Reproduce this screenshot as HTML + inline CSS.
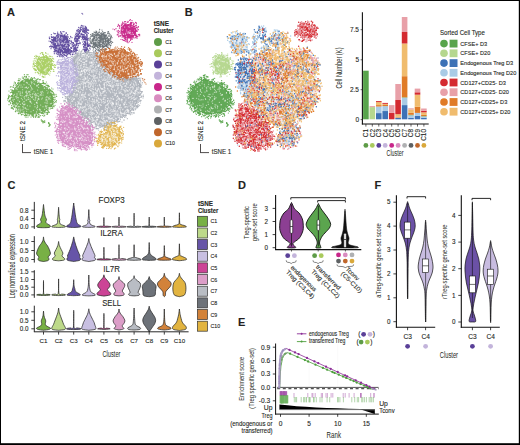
<!DOCTYPE html><html><head><meta charset="utf-8"><style>html,body{margin:0;padding:0;background:#fff;width:520px;height:445px;overflow:hidden}svg{display:block}text{font-family:"Liberation Sans",sans-serif;fill:#231f20;stroke:currentColor;stroke-width:0}text:not([stroke]){stroke:#333;stroke-width:.12px}</style></head><body>
<svg width="520" height="445" viewBox="0 0 520 445">
<rect width="520" height="445" fill="#fff"/>
<path d="M74 58.3C75.2 56.4 78.6 54.2 81.4 53.1C84.2 52.1 88.1 51.8 90.8 51.9C93.4 52 95.5 52.5 97.3 54C99.2 55.5 100.3 58.5 101.9 61C103.5 63.5 105.3 66.6 107.1 68.9C109 71.1 111 72.8 113.1 74.3C115.1 75.8 117.1 77.4 119.4 78C121.8 78.7 124.8 78.2 127.2 78.2C129.7 78.1 132.4 77.2 134.2 77.5C136 77.8 137.1 78.3 138.1 79.7C139.1 81.2 139.8 83.6 140 86.2C140.2 88.9 139.8 92.3 139 95.5C138.3 98.8 137 102.8 135.3 105.7C133.6 108.6 131.2 110.9 128.7 113C126.2 115.2 123 116.9 120.3 118.5C117.7 120.1 115.4 121.5 113 122.7C110.5 123.8 107.9 125 105.6 125.5C103.3 126.1 101.3 126.4 99.1 126C97 125.6 95 124.5 92.7 123.1C90.4 121.6 87.9 119.6 85.4 117.4C83 115.2 80.7 112.4 78.2 110C75.8 107.5 72.7 104.7 70.7 102.8C68.8 100.8 66.7 99.6 66.4 98.2C66.1 96.9 67.9 95.6 69 94.5C70.1 93.4 71.9 93.2 73 91.7C74.1 90.2 75.1 88.8 75.5 85.4C75.9 82.1 75.7 75.3 75.5 71.7C75.3 68.1 74.4 66.3 74.2 64.1C73.9 61.8 72.8 60.1 74 58.3Z" fill="#aeb3bc" opacity="0.95"/>
<path d="M288 165l-2-2-1 0-2-3-2 5-2-7-1 4-2-2-2 7-1-7-2 1-4 0-2 0-3 6 0-2-1-1-1 2-4-5-1-2 0 5-1 1-2-2 0 2-1-3-1 1 0 1-1-1-1 1-1 0-2-3-1 6-5-3-8 13 1 0 2-6 1 5 2-6 0 2 1 6 1 1 3-3 0-1 2-5 4-2 1 11 0-2 0-7 1 6 4-6 0 8 1-1 3-3 0-3 2 0 1 5 4-6 0 1 1-1 2-2 4 8 0-5 3 5 1-1 1 2 1-9 6 8 1-1 3-5 1 2 0 3 0 0 1 3 3-8 1 9 0-3 2-5 3 4 6 10-1 6-2-9 0 6-2-5-1 4 0-2-1 6 0-10-2 0 0 6-2-7-4 7-1-1-6 2 0-8-3 3-1 4 0-5-3 8 0-4-1 1 0 2 0-3 0 1-4 2 0-3-2 3-1-3-7-3-1-2-1 3-1 0-2-1-2 4-1 2-1-1-1-1-3 0-4-3-1 0 0-2-4-1 0 9-3-8-2 5-1 3-1-4-1-4-3-2-1 9 0-4-1 6-3-1 0 2 1 4 0-4 2 6 1 2 3 1 0-2 1-4 1 0 3 5 1-8 5 6 0-2 2 5 1-5 1-4 5 9 0-1 1-7 1 1 1 0 0 6 3-8 0 9 3-6 0 8 1-2 0-9 2 11 2 0 4-2 3-4 1 1 1 5 2-5 0-1 1-5 2 5 1 5 0-9 1 7 0-8 6 11 0-9 1 6 3 0 3-3 2 1 0 1 1-3 0 2 0-3 1 0 3 1 1-4 0 8 1 2 1-2 2-7 0 1 3 4 1-1 1-2 1 6 1-3 1-3 16 19-5 0-1-1-1 1-3-3-1-7-2 5 0 3-2-3-3-2 0-1 0 1-2-2-2 3-1 4-1 1-5-5-2 7-6-2 0-6-3 2-1 5-3-9 0 6-3 1 0-3 0 6-2-5-3 5 0-5-2 5-1-4-2-6-1 4-3 1 0-4 0 6-2-5 0 6-2-6-1 3-2 0 0 0-1 4-1-3-1-1-1-2-2-1-1 8 0-5 0 3-1-5-1 5 0-4 0 4-1-2-2 1-1-6-1 9-2-1 0 0 0-2 0-2 0 3-2-8 0 10-1-11-4 3-1 8-1 0-1-11-1 2-1 6 0 2-1-2 0-6-2 3-2 2 0-5-1-1 0 7 0-7-1 6 0-1-1-5 3 12 2 0 1 2 3-3 0 4 0 2 3 4 3-3 0-7 1 3 0 5 1 3 0-4 2 2 0-2 2-1 2-2 6-3 1 4 0 2 1-6 7 3 3 4 2-1 0-1 1-5 3 9 2-10 5 2 1 9 0-4 4 4 3-1 1-7 2 0 5 3 4 0 0 1 0-5 0 8 4-5 2-2 2-2 3-1 1 11 3-6 2-1 2-3 2 3 4 1 1 3 0-7 0 8 0-2 3 4 4-3 1-4 2 6 1-5 0 1 0 1 2 1 69 13-2 1-3-5-13 4-6-2-7 1-3-1-3 1-8 0-5-2-8-3 0 6-3-5 0 2-1 2-1 2-4 0 0-2 0-4-1 5 0-3 0 5-1-4 0-4-5-2-1 0-1 3-3 1 0 4-1-9-3 11 0-6 0-5-1 6-5 3 0 2 0-9-4 6-1-5-2 6-5 0-1-7-2 2-4-1 0 0-2 6-4-6 0 3-4-1-1 1-3-6 0 6-1 3-2-6 0-2 0 5-1-3-2 5-2 3-1-11 0 0-6 8-2-1-5-2-1-4-1 5-3 3-1 0 0-2-1-1-1-1 0 1 0 3-1-9-2 2 0 8-1-1-4 1-1-7-4 6-5-1-4-5-2 6-1-5-1 4 0-5-1 20 1 0 3-8 3 4 8-2 1 5 3-5 2 3 1-5 1 5 0 3 2-9 1 8 0-3 2 2 0 1 2-3 2-2 1 3 1-3 0-5 2 6 1-5 1 8 0-9 0 7 4 3 0 1 0-5 0 2 4 1 0-5 1-1 3 5 1 3 2-8 0-1 1 7 3 0 0-8 1 3 0-3 2 2 1 6 6-9 0 3 4-2 2 4 2 0 5-4 2-1 2 9 1 0 1-8 3 0 0 6 2 2 2-3 0-1 1-2 2 1 2 5 0-2 1-3 1 1 1 6 2-7 2-4 3 7 2-4 0 6 5-3 1-6 2 0 1 3 2 8 0-8 2 7 0-8 1-1 0 2 1 0 2 7 1-7 4 8 1-5 0-5 2-1 2 7 1-7 4 3 1-1 0 8 2 0 6 0 0-1 3-4 3 3 1-5 9 6 4-8 1 10 2-6 2-3 3 5 0-1 1 4 6-6 3 19-1-2 0-8-6 2 0 8-2-9-5 4-1-3-1-1-1 8-3-1 0-1-3 1-2-7 0 8 0-8-2 2-5 6-4-10 0 10-1-10-2 6-1-1-1 1-2 0-5-5-2 8-1-1-1 2-1-3-1-3-2 0 0-4-5 3 0 8 0-6-2-3-1 2-1 5-1-6-2 0-3 2-4-3-1 3 0 4-2-2-1-3-1 5 0 0-2-9 0 8-2-3-2 1 0-2 0 2-1-6-1 4-2 1-1-1-4-2-1-1-1 4-6-5 0 10 0-5 0 6-1-4 0-4 0-2-1 10-2-9-8 9-1-5-2-1 0-2-1-2-5 4-6-2-6 0-1 6-1-1-2-2-3-5-1 3-2 4 0-2-1-5-1 9-3-4 0 4-1-8-1 4-6 1-1-7-1 5 0 3-5 1 0-3 0 4-1-8-4-2-4 3-1 6-1-9 0 10-2-9-1 8 0-8-2-1-1 3-3 3-1-3-2 4-1-1-2 2-2 5 0-1 1 6 0-5 1 9 1-10 0 4 4 4 0-2 1 2 2-8 2 11 0-5 0 4 1-9 4 1 1 9 3-7 4 2 1 1 2-7 0 3 9 0 9 1 2 3 2-5 0 5 0 1 3 2 1-8 2 1 1 8 1-7 5 0 0-1 1-3 1 7 3 1 0 2 1-1 0-3 2-5 0 4 1-1 1-3 2 5 1 4 3-10 2 3 1-1 0 0 3 0 0 1 0 0 1 8 1-1 0 1 2-7 1 6 0-3 2 2 0-7 2 6 5-7 2 1 0 3 3 3 2 1 5-5 0-2 3 4 6 0 0 0 6 2 3-5 2-1 3 7 6-4 0 6 2-9 1 1 4 2 3 3 0-2 2 4 1-8 1 6 1 3 2-6 1 2 1 1 1 1 2 0 3-4 2-5 0 6 3 5 2-3 1 2 2-7 2-1 4 7 3-2 0 2 0 0 1-1 2-6 0 4 0-2 1 6 1-6 0-4 4 3 0 14-1-4-1 0 0 8-3-4-4-3 0 6-1-5-2 2 0-1-1 5 0-5-1-1-1 1-1-2-2 8-2-8-1-1-3 2 0 2-2 2-1-4-4 7 0-4-1 3-2-3-4 2 0 1-2 2-1-9-5 6-2-1 0 3-2-5-2 0-3-3-1 0-1 1-2 0-7 1-1-1-2 5-1-3-1 5 0 0-2-4-1-4-4-2-6 2-1-2-12 2-1 9-3-2 0 0-3-9 0 11-3-8-2 0-3 8-1-6 0 0-1 3-1-6-1 0 0 8-8-1 0-6 0 7-1 0-2-7-1 1 0 3-2-5-1 1-1 7 0-2-3-2 0-4 0 7-1-1-1-3-2-3-5 4-3 4-1-4-3 4 0-3-8-6 0 5-1-1-3 2-1 3-3-1 0-2 0-6-2 5-1 3 0 1-2-3 0 3-4-7 0-2-1 8-7-2-1 1 0-3 0 5-3-2-5-4 0 1-1 2 0 4-1-8-1 7-1-9-3 8-2 2-2-6-1 1-4 5-2 0-1 6 2-2 3 4 2-4 3 8 2-5 3 0 1 4 1 1 1-2 1 0 0-1 3-8 5 2 4 6 4-5 1 7 3-7 0 7 0-3 3-1 3-2 0-3 2 7 2-7 2 0 0 3 2 0 1 6 0 1 10-4 0 0 0 1 5-6 1-2 3 10 0-2 1-8 1 11 2-11 2 10 2-7 4 1 1 5 3-7 1 7 2-2 0-1 4 3 1 1 5 0 4-2 0-3 1 5 1 0 1-5 2-1 8 3 1 0 7-1 4 1 3-5 1 7 1 0 1 0 8-6 3 6 0-8 1-1 0 0 2 9 0-5 1 4 2-1 1 4 0-3 6 3 0 0 0-2 2 2 2-6 5 0 4 4 3-8 4 6 0-4 2 2 1-2 4 0 1 7 1-9 1 5 1 1 3-1 1-2 2 5 0 2 1-8 1 7 1 0 1-2 2-1 3 4 0-6 1 0 0 6-6 8-1 2-8 0 0-5-6 1-1 5-3-3-9-6-1 5-2 5 0-5-1 2-4 3-4-5-1-4-5-2-4 9-1-4-4-4 0 8-1 1-1-9-1 9 0-4-8 5 0-2-1 1-1 0-1-3 0 4-1-5 0 3-3-3 0-6-2 10-1-8-1 1 0 3-4 5 0-11 0 9-2-4-1-3 0 1-6-3-1 7 0-1 0 0-3 4-2-6-1 2-4 2-1-5 0-2-5 6-3-1-1 2-2-6-1 9-1-9 0 2-1-2-1-2-1 7-4-3 0-2 0 7-2-1-1-4-2-1-2 3-2-2-5-1-3-3 0 9-4-1-1-5-6 7-4-10-4 5-2 3-1-5-2 7-3-9-1 7-2-4 0 6-2 0 0-3 0 2-2-4-7 3-8-5 0 0-3 2-4 2 9 8 6 0 1 0 1-3 4 8 1-5 0 4 1-6 2 8 1 0 2-9 2 10 0-9 1 6 1 4 0-1 0-10 0 0 1 2 4 7 1 0 1 1 3-3 1 2 1 2 2-8 0 5 1-6 4 1 2-1 1 6 3-2 1-2 1-2 1 8 1-4 1 4 3-10 1 4 0 4 1-8 2 4 3 7 3-1 3-2 6-5 1 2 0 2 1-6 1 10 3-9 1 1 2 1 12 5 1 2 0-6 2-2 2 0 2-3 0 2 2 4 1 4 8-9 1 4 3-4 0 4 1 4 1-8 5 8 2-1 1-6 1-1 2 1 2 5 3-5 2 8 0 0 1-6 2-2 0 2 1 5 2 2 8-8 0-1 1-1 0 0 2 9 0-2 1 0 4 0 0-7 3 8 4-3 4-3 1 0 0 8 2-5 1-6 1 6 2 1 1 2 5-7-6 10-3 0-3 6 0-2-1 6-3 0-1 1 0 0 0 0 0-3-1-1-1-1-1 2-1-4 0 6 0-4-2-2 0 3 0-1-4 2-2 2-6-7-1 2-7 0 0 4-1-9-3 3-1-2-2 10-1-4-2 4-3-2-2-7-1 5 0 4-1-3-1 1-1-7-2 3-1 5 0-4 0 4-4 1-1-6-3 1-1-6 0 9-7-8 0 2-1 3 0 5-1-2 0-2-1-6 0 9-3-5-2-2-7 6-1-1-1 0-1 1-9-5 0 4-4-8-2 7 0 4-3-3-1-7 0 5-2 0-5-4 0 3-1-1-3-3-1 5-1 4 0-8-1 1-3-3-3 1-2 2-4 6 0-6-1 0-2 2 0 3-3 1-3-5 0 4-3-7 0 9-1-2-4-6-3 9-1-4 0-4 0 4-1-5-2 1 0 3 0 0-1-1-3-4 23 12 0 5 4 0 1 2 7-7 2 5 3 1 1-6 0 1 1 9 1-6 1 0 1 2 1-5 1-1 2 4 2 0 6 3 1-8 2 2 1 2 0-2 4 4 2 0 1-6 3 6 1-4 0 0 5 3 1 4 1-4 1-2 3 0 0-1 1-1 6 1 4 1 3 1 1 7 2-8 3 6 4-6 1 8 3-5 2 5 1-4 0-4 0 3 3-3 1 6 3-1 0 2 1-3 0-3 3 6 3-1 1-9 0 1 1 3 1-2 1 6 0-4 0 7 1-8 3 1 1 1 1-1 3 2 0 3 0-3 0-3 0-1 4 1 1 4 2-6 2-1 4 0 1 2-20 11-8 6 0-4-2 0 0 1-3-1-4 8-1-4-2-1 0 2-5-5 0 8-1-1-2 1-2-3 0-3-2 3-1-2-1 2-1-1 0-7 0 9-4 0 0-3-1-2 0 3 0-3-1-1 0 6-1-4-3-4-1 3-3-4-3 2-3 5-2-5 0 4 0 1-2 3-2-4 0-6-2 6-7-3-1 1 0-4-1 1-1 4 0-4 0 2-1 7-1 0-1-7-1 2-1-1 0 7-1-11-2 1-3 3-4 3 0 4-1-7 0 4-3-4-4 5-2-1 0 0 0-5-1-1-1 0-2 2-6 2 15 6 0 6 1 0 2 0 0-1 2-5 0 1 2 9 1-2 0-8 0 9 0-7 1 8 3-8 1 3 1 1 1 3 1-3 0-6 0 9 2-9 5 11 0-2 3-3 0-2 1-1 3 5 1-3 2 1 1 2 1 2 0-3 1-7 2 7 0-4 2-2 1 2 0 2 1 3 2-4 1-3 2 1 0-1 2 4 5 4 0-4 2-1 1 7 1-2 1-7 5 4 0-2 3-1 6-2 1 1-32 11-5-1-3 4-1-4-4 4-2-1-5-3-1 2-3-2" transform="scale(.333333)" fill="none" marker-start="url(#m0)" marker-mid="url(#m0)" marker-end="url(#m0)"/>
<path d="M227 154l1 1 9 0 1-5 5 5 2-1 1-2 2-4 5 4 1 3 2-3 3-1 0 0 1 0 0 4 1 0 2 0 2-1 1 1 0-5 3-5 0 7 10-1 2-6 0 10 1-1 5 0 0-1 1 2 10 0 1 8-4-5-1 4-1-5-1 7-1 1-1 0-1-1-2-8 0 7-1-3-1-2 0 2-1 2-2-6-2 1-16-1-2 2-1 0-1 0-2-1-1 1-6 2-8-3-2 4-1-2-5 2-1-3-1 4-1 1 0 1 0-4-1 7 0-4-2-4-1 8 0-3-1-5-3 4-7 0-3 6 1 6 2-5 0 9 3-1 0-7 1 2 0 4 1-3 1-5 0 6 2-7 0 3 1 1 0 2 2-5 6-1 58 1 0 3 1-4 0 1 2 2 1 6 1-9 1 5 0 4 1 0 3 2 7-8 1 6 2 2 0 9-2-3 0-3-1 6 0-1-3 2 0-6-1 5-2-1-2-4 0-3-1 3-73 8-2 0-2-7 0-3 0 3-1 4 0-4 0 1-1-1 0-3-1 0 0 4-2-1-1 7-4 8 1-1 0 2 1-6 0 2 2 2 1-5 2 1 1 0 0 0 2 3 0-4 0 0 0 6 0-7 0 1 1 6 2 1 1-2 86-1 1-5 1 9 1-2 0-1 0-5 1 6 0 1 0-8 2 0 3 3 0 4 1-7 6 11 18 12-3-7-2 6-4-6 0 3 0-1-1 5 0-11-2 9-1-5-4-3-2 8 0-6-2 6-1 0 0-8-96 5 0 1 0-5-2 3-1-3-1 9 0-10-1 2-2 7-2-3-1 4 0-3-3-4-1 2 0-1-2 13 3 2 0 0 4 2 2-3 0-7 2 2 0 1 0-3 3 2 1-2 0 4 0-4 1 3 104 0 1-3 1 2 3 5 0-6 0 6 2-5 2 2 2 1 1 3 1 1 1-6 1-1 1 4 0 4 2-8 1 0 1 6 3 0 0-4 0 4 1 3 0-7 0-1 1 6 1-3 12 5 1-2 15 2 22 0 14 7-2 3-2-3-2 2-1-1-1-7 0 2-1 6-3-1-1-1 0-5-1 4-1-1 0 3-1-5-1 9-2-5-1-3 0 6-1 1-1 1 0-4-2 1 0-4-1 2-1 3-1 2-4-6-1 5-1-3-5-4-2 0-1 8-1-6-1 6 0-4-2 1 0-8 0 9-1-8-1 4-1 4 0-2-2-2 0 6 0-2-1-1 0-5-1 4-1 2 0-3-1 3-3-3-1 3-1-2-3 0-2-6 0 6-1-2 0-5-2 1 0 4-1 2-1-1-2-2-1-2-1-1-5 0-1-1-115 2 0-1-1 6-3-3-1-1-5-2 0 6-1-3-2-1 0 5-2-2-1 8 1-2 3 3 2 8 1-11 0 2 5 6 1-5 0-1 0 9 1-6 1 6 154-11 1 1 10-1 8 0 13 4 1 1 0 0 1 2 0-6 1 8 2 2 0-11 2 1 1 5 0-3 5 5-1 4-1 9-1-5-2 4-1-8 0 7 0-2 0 6-1-10 0 5 0-4 0-1-1-1 0 8 0-4 0-4-191 1-3 9-1-7 0 3-1 4 0-6 0-2-1 8-2 1 0-7-1 7-1-3-1-3-2 5 0-1-1-7-3 9 0-2-2 13 1-6 3-2 5 8 1-9 0 6 0-6 2 5 0 0 0-3 0 6 1-1 1-6 198 4 0 4 2 1 2 0 2 0 3 10-5-7-2 3-2 3 0 1 0-5-2 6-1 0 0-3-1-1-197-5-1-1-1 3-2 3-1-3 0 0-1 7 0-10-1 4-2 3-1 4 0-7-3-1 0-2-4 3-6 2-9 10 8 3 0-5 0 0 2 0 3 1 1 6 0-2 1 3 0-3 3 4 1-9 1 0 204 8 2-5 0 6 1-6 0 2 0-7 1 4 2 4 1-4 4-1 0 1 2-4 0 1 4-1 0 6 1-4-7 11-1 2 0-2-1 8-1-5-2-4-1 4 0-4-1 0-1 7-2-4-1 3-1 0 0 4-1-9-1 7-1 3-1-1-193-1-1 2 0-3-5 1 0 0 0-1-1 1 0-5-1 2 0-2 0 0-2-4-1 0 0 3-1 3 0 5-1-5-5-1 0-4-3 1-1 3 0-4 12 15 1 2 0 0 0-6 3 8 4-6 2 1 2 6 0-6 0 3 1 1 1-5 1 9 0-6 1 5 1-5 1 6 1-2 0-2 0 2 2 1 1 0 3 1 174-3 3-5 2 2 0 2 1 2 0-1 2 1 0-4 1 2 0-2 1 6 0-3 1-7 2 2 0 4 3-3-11 10-1-2-1 5-4-3-1 5 0-2-2 0-1 1-1-4 0 0-5 7 0-1 0-1-2 2 0 0-149 2-1-2 0 1-1-1-5-2-2-1-2-4-1 9-2-7-2 2-1-6 5 17 4 5 0-6 4-2 1 3 1-4 4 7 0-1 1 0 0-1 0-5 2 3 0 6 1-3 1-2 0 4 1 1 125 1 2 0 3-1 3-6 3 1 3 0 0-5 1 0 1 5 1 3 2-6 1 0 2 4 3-4 3-1 0 3-20 16-4-5-2-3-2 4-3-3-4 2 0 2-6 6-6-1-1 1-2 0-87-2-3 1-1-3-1-2-2 2 0-3-4-2 0 6 0-1-1 1-1-5-2 0-1 3-1-4 0 1-3 1 0 1-1 4-9-9 16 13 3 0 5 1 2 7 3-4 1-2 1-3 2 10 1-1 2 0 0-5 2 5 0-6 0 5 2-1 2 0 57 2 1 1 1-2 1 1 1-2 4 4 0-4 1-2 0 5 0-4 1 0 0 4 1 0 1-6 4-3 1 0 2 3 0-4 0 6 3-1 3-1 0 0 7 2 6-6 0 0-27 15-2 1-4 0-2 7-2-10-1 3 0-2-2-2-2 1-2 0 0-1-3 10-1-1-1-1-1-6-1 8 0-4 0 3-1-7 0 2-1 1-2 5-1-2 0-3-2 2-1-3-2 1-1 1-1-1-1-1 0 4-3 0-3 1-1-4-1 5 0-1-3-2-6-2-2 1-1-3 0 6 0-2-2-5-1 7-7-5-1 6-2-8-1-2-1 0-1 8-1-4 0-1-2 0-4-2 20 13 5 0 0-1 1 0 1 1 4-1 0 5 14-6 2 2 2 2 4 0 0 0 11-2" transform="scale(.333333)" fill="none" marker-start="url(#m1)" marker-mid="url(#m1)" marker-end="url(#m1)"/>
<path d="M23.5 80.6C25.1 79.5 25.7 78.4 26.9 78.4C28 78.3 28.9 79.9 30.3 80.5C31.8 81.1 33.7 81.3 35.3 81.9C37 82.5 38.6 83.2 40.3 84C42 84.7 44 85.6 45.5 86.7C47 87.7 48 88.8 49.1 90.4C50.3 91.9 51.8 94 52.5 95.9C53.2 97.9 53.6 100.2 53.1 102.1C52.6 104 51 105.7 49.5 107.3C48 109 46.3 111 44.2 112.1C42.2 113.1 39.7 113.3 37.2 113.6C34.7 113.9 32 114.4 29.4 114C26.8 113.7 24 112.6 21.6 111.5C19.3 110.4 17 109 15.5 107.3C13.9 105.6 13 103.1 12.4 101.2C11.8 99.3 11.8 97.8 12 95.9C12.2 94.1 13 91.7 13.9 89.9C14.8 88 15.8 86.3 17.4 84.8C19 83.2 21.9 81.7 23.5 80.6Z" fill="#73ae59"/>
<path d="M70 244l3-1 1-3 5 7 2 1 1 1 11-7 1 4 1 5 1-4 1-4 5 7 28 8-14-6 0 10-1-8-3 2-1 3-1-3-6-3-10 9-2-4-1-1-4-4-2 9-6 1 0-2-1 1-3 1-3-9-4 7-5-6 0 6-5-6-3 4-1 3-8 4 3-2 1 0 1 4 4 7 5 0 8-6 12 4 3-8 4 9 1 1 5-5 2-4 3 1 4 8 11-5 14 4 6-10 0 0 6 1 2 6 4 4 1-4-3 8-14 6 0-7-5 2 0 5 0-9-2 0 0 8-2 1-6-5-3 6-3-3 0 2-1-5-2 7-1-4-5-2-2 1-5 2-2-8-1 6-2 4-2-10-3 4-1 5 0 0-1 1 0-7-1-3-2 11 0-11-10 3 0-3-1 11-5-1 0-7-1 3-9-1 0 4-8-2-2 3-2 5 0 7 4 0 4-8 3 4 0-4 3 2 2 1 9 2 3 4 5-8 2-1 0 6 6-6 4 7 1-5 0 6 5-1 2-8 3 3 3 1 0-4 3 9 5-1 0-4 2-5 0 5 6 4 0-9 1 8 1 1 0-7 1 7 8 0 2-3 11 4 0-5 2 6 0-9 2 1 3 6 1-4 2 2 2-5 0 8 4 12-3 1-8-2-1-6-3 6-1-7-3 6-23 1 0-7-2 5 0 2-1-2-4-6-10 8-3-5-1 3-1-4 0 1-10-4-2 0-6 5 0 0-4 6-1-2-8-5-1 1-4-5 0 10-5-1-9-5-1-2 3 11 1 2 4 4 0-3 0 3 3-2 0 1 2-5 2 8 2-2 3 1 2-7 7 7 3-7 0 8 1-6 2-2 1-1 7 5 8 1 14-5 1 7 7 2 0-6 1 4 9-5 7 5 7 0 1-3 2 3 2-3 5 6-5 1-2 1-5 3-1 6-8 1-4-2 0-4-2-2-1 2-6 0-2-5 0 11-10-4-7 4-9-7-4 6-1-7-3-3 0 0-4 10 0-10-3 4-1 5-5 0 0-3-3-3-4 0 16 9 38 3 12-1 3-2" transform="scale(.333333)" fill="none" marker-start="url(#m0)" marker-mid="url(#m0)" marker-end="url(#m0)"/>
<path d="M73 224l8 0 3 0 37 15-3 0-4-3-1 3-4-1-4-2-2-3-4 1-1 2-1 3 0 0-1-3-2 2 0-5-2 4-1 0 0 1-4-8-3 5 0 3-5-9 0 1 0 2-2 2-2 5 0-10-2 9 0-8-2 4-1 0-1 1-2-4-5 6-5-1-14 10 3 5 0-3 7 2 0-1 2-8 0 9 0-8 1 5 1-7 2 2 1 5 3-1 0 1 0-1 2-1 0 2 1-1 0-3 1 2 0-3 1 3 2-5 18 0 0 2 4-1 1-1 0 0 1 1 4 0 0 3 3-2 2 1 0 2 3-3 2 3 0 1 1-4 0 1 1 5 1-3 4 5 1-1 1-3 2 4 3 1 3 0 2-1 2-7 0 7 0 0 0-8 1 6 0-1 1 4 0-2 3 1 2 1 3-5 8 14 0-1-1-1-1-2-1 5-1-4 0 0-2 6 0-11-1 4-3 2-2-6-1 8-9-4-3-2-1-2-72 2-1 3 0 6-6-11-1 5 0 5-3-1-5-1-2 1-4 12 6-4 3 2 0 4 2-5 0 2 1 0 1 1 2 0 2-8 97 2 0-3 3 7 0-3 2 5 1-1 0-1 1-4 0 0 1 7 0-5 1 2 1 1 1-2 0 0 1 3 0-2 1 3 1-10 2 10 0 0 2-7 9 16-5-1-1 2 0 2-2-3 0-6 0 3-3-4 0 8-1-1 0 3-1-7 0 7-1-4-1 0-2-1-112-5 0 4 0-3-1 1-1-1-1 9-1-9 0 10-4-9-3 9-3-2-1 10 1 1 1-6 0 2 0 2 1-3 3-1 3-1 1 5 0-6 0 11 0 0 0-4 1 1 2-7 0-1 119 2 0-1 1 6 0 1 1 3 1-1 1-6 0 6 0-4 3-3 2 7 0-5 3-5 2 1-1 17 0-4-3 3-2 3-1-8-3 5-1 2 0 4 0 0-120-1-1-1 0-5 0 7 0-5-1-2 0 6-1-5-2-5-1 2-1 9-1-4-1-7-2 4 0-3 0 2-1 2-4-5 4 14 7 8 1-5 2 6 2-9 1 6 1-5 2 4 1 2 0 0 106-2 2-1 0 1 2 0 0-2 1 0 0-1 0 3 1-5 1 0 0 7 1-9 0 1 0 8 2-3 1 0 1 2 3-4-7 9-4 0-2-1-2 3-4 7-1-4-1-5 0 2-1 3-1 1-2-3-5 5-1 2-68-2-1 1-5 1-2-2-1-1-2 1-3 0 0-5-1 4-3-8-1 6 0 5-1-1-6-7 0 0-2-2-4 0 21 15 0-1 1 2 1-1 3-3 1 3 0-4 3 1 0 7 1 0 0-8 1 6 2-5 1-1 0 7 4 3 0-7 1-3 1 11 0-1 1-10 0 5 1 2 1 3 0 0 0-9 2 9 0-1 2-6 1 6 1-3 3 5 1-5 1-1 0 4 1-4 2 1 3 3 1-1 0-1 1 4 1-3 2 2 1-3 1-2 6 1 0 4 0-4 1 4 1-1 0 1 2-6 3 4 0-5 2 4 4 4 2-9 1 1 0 0 1 0 2-1 0 8 1-6 1-2 1 2 2 2 2 5 0-11 1 2 4-1 0 5 3 1 0-5 1-2 0 5 2-4 3 0-17 11-13 0-1 3 0 1-2-3-1 3-4-4-3 4 0-3-5-1-1 4-1-3-3-1-4 3-9 0-4 0-4 0" transform="scale(.333333)" fill="none" marker-start="url(#m2)" marker-mid="url(#m2)" marker-end="url(#m2)"/>
<path d="M38.9 57.8C40.1 56.9 41.9 56.5 43.4 56.5C44.8 56.5 46.5 57.1 47.7 57.7C48.9 58.3 49.8 59.1 50.5 60.2C51.3 61.3 51.9 62.8 52 64.2C52.1 65.5 51.6 67.1 50.9 68.5C50.3 69.8 49.4 71.6 48.2 72.3C46.9 73.1 44.9 73.2 43.3 73C41.8 72.8 40 72.2 38.9 71.2C37.8 70.2 37.3 68.6 36.8 67C36.4 65.5 36 63.5 36.4 61.9C36.7 60.4 37.7 58.7 38.9 57.8Z" fill="#acd068"/>
<path d="M123 175l5 0 7-1 2 1 14 14-4-5-1 3-5 2-11-5-5-2-3 5-2-2-2-2-2-2-6 4 2 9 3 6 3 2 1-4 5-6 3 5 10-3 4 9 2-1 5-5 1 6-5 12-6-10 0 2 0 6-2-4-2 3 0-4-2 3-12-5 15 10 8 1" transform="scale(.333333)" fill="none" marker-start="url(#m0)" marker-mid="url(#m0)" marker-end="url(#m0)"/>
<path d="M144 162l-5 4-1-6-1 7 0-9-6 9 0-3-3-1 0-5 0 1 0 3-4-4-3 3-13 5-5 10 1-7 4 4 0 3 1-7 0 0 2 8 1-8 2 0 0 9 0-4 2 1 0-2 2-4 12 1 3 2 0-1 1-1 3 1 1 0 1 2 1-4 0 1 1 2 0 2 1-2 1-1 1 4 0 0 0-4 1 4 2-1 1-6 0 7 2-6 1 0 0 7 1-1 1 4 1-1 2-8 1 5 2 0 2 2 0 8-3 6-2-11 0 4 0-2 0-1-1-1 0 5-1-4-2 2-3-3-37 0-2 8-2-4-1 6-2-8-3 5 0 4-2 0 0-8-1 18 0-3 1-5 2 0 1 5 0 1 2-3 0 1 1 0 3 3 0-1 2-7 0 9 0-1 1-5 0 8 41-1 0 0 1-3 0 3 1-9 2 2 0 0 1 1 3 1 1-2 1 7 1-8 0 7 2 1 1-6-5 18-1-5-1 5-4-8-1 2 0-1 0-2-2-1 0 3-1 7-2-5-3 2 0 0-1 2-1 0-20 2-9-4-1-2-2-2-1-1-3 4 0 1-1 1-1-4-1 3 0-3-1 1 0 1 0-2-1-3-3 1 5 12 6-2 0 1 3 4 1-5 0 3 4 1 0 5 2-3 0-4 0-1 2 1 1 0 0-2 1 2 2 3 1-4 0 5 1-2 1 2 2-2 0-3 1 6 0-6 1 8 0-6 2 4 1-2 1 2 0-3 2-3 1 4 1-4 1 3 1 3 4 2 1-6-15 12-3 0-2-1 0 2-3-4 0 2" transform="scale(.333333)" fill="none" marker-start="url(#m3)" marker-mid="url(#m3)" marker-end="url(#m3)"/>
<path d="M52.7 39.3C53.1 37.7 54.6 36.6 55.9 35.8C57.2 35.1 59.1 34.9 60.6 34.9C62.1 34.9 63.8 35.3 65 35.8C66.2 36.4 67.3 37 67.9 38.1C68.5 39.2 68.5 41.1 68.6 42.6C68.6 44 68 45.4 68.3 46.7C68.6 47.9 70.4 49 70.2 50.1C69.9 51.2 68.3 52.6 66.7 53.1C65.1 53.6 62.3 53.5 60.6 53.1C58.8 52.6 57.2 51.6 56.1 50.3C54.9 49.1 54 47.3 53.4 45.4C52.9 43.6 52.3 40.9 52.7 39.3Z" fill="#624fa0"/>
<path d="M172 107l6 0 10 7-2 4-1-6-2 3-4-4-1-3 0 5-3 2-1 2-3-9-1 9 0-5-4-3-4 16 0 3 4-1 2 0 1 2 1 1 0-10 4 4 0 4 1 0 1-4 1-4 1 7 1 4 4-8 1 8 1-2 3 0 0 0 4 1 1-1 1-5 3-2 1 8 4 0 2-4 0 16-1-6-1 5-2-8-1 3-2 0-1 5-4 1-2-9-6 8-3-3-1 2-3-8-1 9-2 1-2-1-2-8 0 0-10 0 8 15 3 0 2 3 1-5 4 7 5-8 4 3 3 4 1 0 9-7-15 12" transform="scale(.333333)" fill="none" marker-start="url(#m0)" marker-mid="url(#m0)" marker-end="url(#m0)"/>
<path d="M192 95l-3 0-7 0-28 9 7-5 2 2 3 0 4 6 2-3 0-3 1-2 0 8 0-11 3 7 0-1 4 2 1-5 0 7 2-9 2 3 0 1 1 2 0 3 6-1 1 2 0-2 1 2 1-4 3-4 0 8 1-8 0 0 4 5 13 9-4-4 0 2-3 5-5-6 0 2-1 5-1-9-2 2-2 1-2-1-1-1-30 3-1 0-4-1 0 0-1 0 0 7-1-6-2 0-1 1 0 6-1-9-5 6 0-1-1-4 0 3-1 9 4 1 0 1 2-1 1 3 1 1 0 1 1-1 0-8 1 0 0 6 1-5 0 0 1 7 1-8 0 5 43-2 1 5 0 0 1-5 1 2 1 2 1-5 0 0 2 9 3-10 0 4 0 6 1-7 1 3 3 0-5 15-4-4-1-3-1 2 0-1-1-3-1 3 0 4 0 2 0-8-1 7 0-8-42 10 0-9-1 0 0 9-1-2 0 1-1-10 0 7-1-7 0 8-1-2-2 2-1 1-1-6 0 3-1 1-3 1 4 6 9 9 0-11 1 5 1 5 1-5 0 4 0-2 2 1 0 0 1 3 1-4 1 1 1 2 3-1 0 0 1 1 1 1 29-1 0-4 2 4 3-2 1-4 2 7 0-11 1 1 0 10 1-3 0 0-1 4-2 8-1-7-2 4-2-1 0-4-1 5-1-3-1 1-1 5-2-6 0 3 0-2 0 4-1-6 0 10-2-9 0 0 0 1 0-2-1 9-2 1-1-4 0 2-1-8-1 8-1-7-1 6-2-4-1 6-1 0-1-3-2 0-2-1 0 2 0-6 0 1 0 0-1 8-1-5-2-5 0 1 0 7-1-6-1 3-1-4 0 5 0-6-2 5-1-5-2 4-5-5-1 5 9 8 6-1 2 2 6-2 0 1 4 0 10 0 4 4" transform="scale(.333333)" fill="none" marker-start="url(#m4)" marker-mid="url(#m4)" marker-end="url(#m4)"/>
<path d="M236 82l5 0 2-4 1 4 1-6 1 1 2 4 1-3 3 0 4 4 1-3 0 2 2 2 7 8-2-2-1 2-2-2-1-4-1 2 0 8 0-4 0 4-1-10 0 3 0-1 0 4-1-2 0-4-1 10 0-2-1-2 0-2-1 2-1 0 0 4 0-2 0-8-1 2 0-3-1 6-1 0 0-6 0 10 0-7 0 3-1 4 0 1-1 0-1-5 0-5 0 5-2-1-3 1 0-1-1 5 0-8-1 8 0-10 0 7-1 0-2 2-1-5-1 6-1-6 0 3-3 0 0 3 0-3-4 13 1-5 1 1 0 5 1 1 1-5 1 6 1-5 0-6 1 8 1-1 0 0 0 1 1-1 1-3 0-1 0-3 0 10 1-8 1-1 0 3 0-1 0-3 2 9 2-3 1-2 0 3 1 1 1-2 0 2 2-1 1 1 0 3 2-3 1-7 1-1 0 2 0 7 1 0 1-7 1 2 2-2 1 1 1 6 0-1 1 3 1-5 1-5 2 3 0 15-2 0 0 4-1 0-1-7 0-2 0-2 0 7-1 4-1 0 0-6 0 4-1-1 0-2 0-2 0 7-1-8 0 8-1-10 0 10 0-3-1-1-1 1 0-3 0 0-1-3 0 8 0-3-1-5-1 1 0 8 0-6 0 5-1-9-1 3 0 1-1-4 0 1 0 5 0-1-1-1-1-1 0 7 0-10-5 0-1 2 0-3-1 1 0 1-1 4-1-2 0 3-1 0 0-3 0-4 0 4-1 2 0-4-1-2-1 10 0-10 0 10-1-2 0 1 0-7 0 8-1-8-1 5-1 2-1-7 0 0 0 0 0 7-1-3-1-1 0 3-1-8 0 6-1 5 0-4-5 14 1 1 0-1 0-1 1 3 2-11 2 4 1-3 1 3 1 2 1 3 0-9 0 1 1 10 0-6 0-1 1 2 0-4 1 9 1-9 0 3 1-4 1 10 0 0 1-11 1 10 1-7 2 8 0-3 0 1 8-3 3 5 1-8 1 2 1 1 0 0 1 1 1 4 0 0 1-1 0-2 0 0 0-3 1-5 4 10 0-5 0-4 0 9 1-2 0 2 3-10 4 16 0 0-2 0-1 0 0 3 0-5-1 4 0-3-1 1 0 1-1 2 0-2 0 2 0-7-1 7 0-6 0 2 0 2-1-4-1 10-1-2-1-9-1 4-1 7 0-11 0 0-1 1 0 4-1-5 0 7 0-2-1-3 0 2 0-1-1 8-1-9-1 6 0 0 0 1-2-7-14 3-2 4 0 2-1-1-1 1 0-8-1-2-1-1 0 4 0-3-1 1-1 6 0 3-1-6-1 5-1-9-1 4-1 5-1-2 0-5 0 2-2 0-2-4 0 7-1-5-3 8-1 9 1 2 2-10 3 10 2-9 1 8 0-4 0 3 2-3 0-4 0 9 1 0 0-8 0-2 1 0 0 4 0-3 1 7 0-7 0 1 0 4 1-1 1 4 0-6 0-1 1 5 0 1 1-3 0 2 0-4 3 4 19-4 0 2 0-2 1 1 1 4 1 2 0-4 1 0 1 1 0-3 1-4 0 0 1 8 0-5 0 4 0-2 0-5 1 4 2-3 1 4 0-2 2 5 4-8 2 3-15 9-28 3-2 0-4-3-3 2 0 4-1 2 0-1-6-4-2-3-1 5-1-5 0 3" transform="scale(.333333)" fill="none" marker-start="url(#m4)" marker-mid="url(#m4)" marker-end="url(#m4)"/>
<path d="M62 61.3C63.1 60.5 65.5 60.4 67 60.5C68.5 60.6 70 60.9 71.1 61.8C72.2 62.8 73.1 64.5 73.6 66.3C74.1 68.1 74 70.6 74.1 72.8C74.2 74.9 74.2 77.1 74 79.4C73.7 81.6 73.5 84.3 72.7 86.3C71.8 88.3 70.6 90.7 69.1 91.5C67.6 92.3 65 92 63.6 91.1C62.1 90.1 61 88 60.5 85.9C59.9 83.8 60.4 80.9 60.4 78.5C60.4 76.1 60.5 73.6 60.5 71.4C60.4 69.2 60 67.1 60.2 65.4C60.5 63.8 60.9 62.1 62 61.3Z" fill="#bcb3dd"/>
<path d="M214 191l-1-5-1 3-2 1-2-6-1 1-4 2-4-2-2 2-13 5 1 2 2 5 2 0 1-5 2 5 0-2 1-5 3 7 4 0 2 2 5 0 0-3 1-3 0-2 1 10 2-5 1-2 0-2 2 4 0 4 1-7 3 5 2 14-1-7 0-3-1 10-5-2-2 3-1 0-2-5 0-4-3 3-6 5-1-6-2 7-1-4-3 0 0-6-2 7-2-5-3 3-2 2-1 12 3-2 1-4 1 8 3-5 5-4 1 7 3 0 1 1 2-2 4-6 5 6 1-6 1 5 0-2 1-3 5 7 0-5 2 8 1 6-2-4-2-1-3 0-2 2-2 7-1-5-2-4 0 5-1-5 0 8-3-7-2 4-1 1-3 4-3-1 0-7-1 1-3-3-2 8 0-6-2 9-5 2 1 0 1 6 5-3 2 2 2-5 2 7 1-7 6 9 4 1 1-5 0-6 4 11 1 0 2-7 1 2 1 1 1-4 1-3-4 12-2 6-1 3 0-5 0 1-2 4-2-6 0-1-1 7 0 0-2-3-3-3-3 1-2 0 0-4-6 3-2 4-1-3-2 5-2-5 8 14 4 1 2-2 2 2 0-3 0-4 4 10 1 0 3-7 1-1 1 0 0 5 0-5 1-1 1 0" transform="scale(.333333)" fill="none" marker-start="url(#m0)" marker-mid="url(#m0)" marker-end="url(#m0)"/>
<path d="M177 179l6 0 4-6 1 5 1-5 3 4 2-3 0 3 0-4 1 6 2-2 1 2 1-4 2 0 2 1 3 3 3-6 2-1 0 6 7-3 0 3 2 12-1-6-1 4 0-3-1-3-1 5-1-5 0 1 0 7 0-10-2 8 0 2-1-10-1 5-6-1-1-1-1-1-2 1-3 0 0 1-1-1 0-2-4 3-7 7-1-2-1-9-1 10 0 1 0-1-1 1-1-4-1-1-1 1 0 3-2-3-1 1-1-7-1 3-1 4-1-4-1 4 0 5 1-1 2 11 0-2 1-8 1 9 2-8 2 8 2-4 0 2 0-4 0 1 1 2 0 1 2-3 1-5 33 0 1 9 0 2 1-10 0 3 0 5 1 0 3-5 0 1 3-4 0 8 3-4 2 10-2 3 0 2-2-6-2-2-1 11-1-9-1 1-2 0 0 6-1-1-1 1-37 2-3 0 0-7-3 6-1 1-2-11 0 2-5 21 4-7 2 7 0-11 2 1 3 1 1 1 1 3 2-4 38 2 0-3 4 7 1-4 1 4 0-3 1 2 0 4 1-3 1-6 1-1 0-1 1 8 0-2 0-1 1 3 0 4-6 0 0 10-3-5-1 4 0-3 0-2 0 7-1-8 0-2-1 3 0 6-1-8-37 5 0 2-1-6-2 8 0-11-5 1-6 19 2-3 1 5 4-2 1-7 2-1 1 5 0 5 2-5 0-5 0 6 33 4 1-1 1-2 0-1 1-1 0-1 2-4 1 6 1 2 0-7 0 4 0 0 1-1 1 3 0-4 1-1 2 3 0-2 2 4 0-2 2-3 2 0 1-2-7 13-2 4 0-2 0 6 0-8-4 3-2-1-1-3-1 7-1 4 0-4-2 0-32-3-1 3-1-3-3 0 0 7 0-7-3 0-1-1-1 8-1-9 2 11 0 5 5-5 1 7 1-6 1 9 1-10 0 10 1-3 0-3 1-5 4 2 1 3 3 3 2 0 1 0 3 1 1 2 3-2 0 1 3-3 1 1 2-1 0-5 0 7 1-1 1-7 2 7 0 1 1 1 0-8 0 0 6 6 0-3 5-4 2 0-10 11-1 0 0 2-1 1 0-1-5 6 0-7-1 1 0 0 0-2-1 0-1 9 0-7-1-2 0 0-3 3-1 3-1-4 0-1-1-1-1 4-2 1-2 0-1 4 0-5-2 4 0-8 0 3-3-1 0 6 0-1-1-5-1 0-1 0" transform="scale(.333333)" fill="none" marker-start="url(#m5)" marker-mid="url(#m5)" marker-end="url(#m5)"/>
<path d="M109.1 40.8C109.1 41.7 108.8 42.7 108.4 43.6C108 44.4 107.3 45.3 106.5 45.9C105.8 46.5 104.8 47 103.9 47.3C102.9 47.6 101.8 47.8 100.8 47.8C99.8 47.8 98.7 47.6 97.7 47.3C96.8 47 95.8 46.5 95.1 45.9C94.3 45.3 93.6 44.4 93.2 43.6C92.8 42.7 92.5 41.7 92.5 40.8C92.5 39.9 92.8 38.9 93.2 38C93.6 37.2 94.3 36.3 95.1 35.7C95.8 35.1 96.8 34.6 97.7 34.3C98.7 34 99.8 33.8 100.8 33.8C101.8 33.8 102.9 34 103.9 34.3C104.8 34.6 105.8 35.1 106.5 35.7C107.3 36.3 108 37.2 108.4 38C108.8 38.9 109.1 39.9 109.1 40.8Z" fill="#6e767b"/>
<path d="M300 102l2 0 6 3 16 12-4 2-1-8 0 1-10-1-12 7-1-9-1 8-1 0-1-8-1 3-4 4 0-7-1 7-1-5-2 8-4 8 2-3 0-1 2 2 3-1 3 1 1 5 0-4 1-4 4 2 7 6 0-1 1 1 2-7 7-1 0-2 1 8 6-1 1 2-5 3-4 4-3-3-5 3 0 7 0-2-7 1-2-2-1-8-3 6" transform="scale(.333333)" fill="none" marker-start="url(#m0)" marker-mid="url(#m0)" marker-end="url(#m0)"/>
<path d="M325 95l-17 0-2-5-7-2-1 5-8 2-2-2-16 11 4 3 0-5 2-1 0 4 1-3 0 4 2-4 1-6 0 9 1-2 1-6 1 9 1-4 1-5 0 8 1-8 0 4 0 6 1-3 0 2 1-9 1 5 1-2 0 3 2-3 1-3 1 5 3-5 2 3 4-1 0 3 0-3 2 5 1 0 1-2 0-1 1-2 0 2 2-3 1 4 0 3 2-7 0 0 2 8 1-2 2 2 3-10 0 5 3-5 1 5 0 5 0-6 3 3 3 3 3 7-2-4-1 2 0-2-1 6 0 4 0-6-1 2 0 0-3 2-1-9 0 1 0 8-1 2 0-2-5-5-38-2-1-2 0 1 0 1-1 4-2 1-1-7 0 0-1 10-2-10-2 1-1 2-1 4-1 3-1-4 1 17 0-9 1 2 1 4 2 0 0 3 2-11 0 10 0-7 0 6 0-5 1-4 1 3 1-3 0 3 1 7 0-2 44 0 1-4 1 7 0-2 2 0 1-8 0 6 1-5 0 6 1-3 1 1 2 5 0-7 2 2 2 1-6 9 0 0-1 1 0 4-2-7-3 1 0-3-1 11-1-5-2 3 0 1-1-4 0-4 0 1-1 2 0 2-1-2-1 2-5 1-2 2-2 0-13 1-3-1-1-2-3-2-1 0-1-1 0 1-1-2-1 4-1 1 0 1-1-4 0-3 0 7-1-9-1 4 0 5-1-10 0 2 0-2-1 9-1-1-1 1 0-3-4 2-1-1 8 8 6 3 1 2 0-7 3 3 2-4 1 6 2-1 0 2 2 2 1-8 0 7 2-3 4-2 0 2 2 1 2-6 1 10 0-5 5 5 1-5 0-3 1 1 0 0 1 3 11-4 1-1" transform="scale(.333333)" fill="none" marker-start="url(#m6)" marker-mid="url(#m6)" marker-end="url(#m6)"/>
<path d="M98.7 56.9C98.7 55.4 100.9 54.1 102.6 53C104.3 52 106.3 51.2 109 50.7C111.7 50.3 115.6 50.4 118.5 50.5C121.5 50.5 124.5 50.6 126.7 51.2C128.9 51.9 130.2 53.3 131.7 54.5C133.3 55.6 135.1 56.6 136.2 58.1C137.3 59.5 138.2 61.3 138.5 63.1C138.8 65 138.4 67.5 138.1 69.1C137.9 70.8 137.9 72.1 136.9 73.1C135.9 74.1 133.8 74.9 131.9 75.3C130.1 75.8 127.8 75.8 125.9 76C123.9 76.3 121.8 77.2 120.2 77C118.5 76.8 117.5 75.7 116.2 74.7C114.9 73.8 113.6 72.7 112.3 71.5C110.9 70.4 109.5 69.5 107.9 67.9C106.2 66.4 104 64.1 102.5 62.3C101 60.4 98.6 58.4 98.7 56.9Z" fill="#ca723a"/>
<path d="M357 153l3 1 8 0 4 0 9 1 10 10-1 0-1-1-2-3-2 5 0 0-4 1 0 0-3-4-4 3-3-4-4-3-1 5 0-3-2 6-6-7-1-3-1 8-1-6-1 5-1 3-3 0-6-5-1-2 0 2-6 4 0 0-2-2-1-2-2 1-2-1-2 4-1-5-1 6-3-5-3 4-6-6-1 5-3-5 0 7-3-2-1 0-3 1-5 3 3 4 2 5 2-9 1-1 1 1 1 5 1-3 0-3 1 10 3-7 2 6 0-8 3 1 0 0 2 0 0 7 5 2 3-10 0 5 4-4 2 3 0 2 5 2 7-8 1-1 4 3 5-3 1 8 3-1 5-5 1 3 2 6 0-9 3-2 3 8 0 3 3-2 0-7 1 6 1-5 7 5 0-8 1 6 10 1 1-4 3-2 2 9 4-1 0-4 2 5 1-1 0 11-1 0 0-7-2 9-2-2-1 0 0-6-1 3-1-5-10 6-3 5 0-11-4 5-1 0-2 1-3-6 0 9-2-6-2 6-2-8-2 8-2-1-3-2 0-2-1-2-1-1-2 8-7-5 0-3-2 8 0-1-2 1-6-4-1-4-4 4-1 0 0 5-2-1-1-6-1 3-2-3-3-2-1 4-5-5-3 8-2 0 0 1-4-4 0 4-7-2-4-6 20 15 2 4 1 3 1-2 1-6 2 1 1 0 1 3 0 2 2-5 4-1 1-3 3 9 1-4 2-5 0 4 5 5 1-9 4 7 4-1 1 3 1 1 1-4 5 0 2-6 3 8 2-6 8 9 0-2 1-4 2 0 4 3 1-3 1 2 1-6 4 3 1 3 1 0 0-2 8 5 1-6 3-2 0 0 4 1-1 9-3 3-2-2 0 4-1-1-3 5-3 0-1-2-2-2 0-2-1-2-2 0-2 6 0 3-1-10-7 5-3 6-1-4-2-6-1-1 0 2-2 0 0 9-1 0-1-11-3 4-1 2-1 4 0 1-3-3 0-3 0-1 0-4-4 9 0-2-2-6-2 10-1-4-2-3-4-4 0 5-4 6 0-2-5-5 0 1 0-4-3 3-5 4-4-7-6 0 20 15 1 0 9 2 2-2 1-2 4 6 21-2 2-2 0 1 1 2 1-3 0 4 7-6 0 6 1 1 1 0 0-1 0-4 4-4 3 2 3 2 2-2-47 11" transform="scale(.333333)" fill="none" marker-start="url(#m0)" marker-mid="url(#m0)" marker-end="url(#m0)"/>
<path d="M386 143l-12-2-1 1-8-2-13 1-5 0-46 12 0 2 1-6 4 2 1 3 1-8 2 3 2 4 0-4 1 5 1-3 2 2 2-7 2 9 0-8 0 2 1 6 5-10 1 10 1-9 0 6 1-6 1 3 0 4 2-3 1 3 1-1 1-2 1-1 1 1 0-2 4 0 2 2 1-6 0 9 1-4 1 4 2-8 2 8 1-3 1 2 0-4 2 5 2-8 0 7 1-1 1-4 3 5 1-7 1 4 1-1 1-2 1 6 2 2 0-5 1 3 1-4 0-2 3 9 0-6 1 0 0 3 1 0 1 0 0 1 8-6 4 2 1 2 0-5 1 3 0-2 3 7 1 0 0-4 17 14-4 1-2 0-1-3 0 3 0 0 0-2-1-3-1 0-2-3-2 10 0-1 0-5-1 0-1-5-3 6-1-2-1-4-1 1-4 1-4-2-58 0-7 0-2 2 0 0-3 2-4 0 0-1-2 1 0-1 0-1-1 5-1 2 0-2-1-1-1-4-1 8 0-6-8 0-2 5-1-7-2 9 0-6 1 7 1 7 0 1 2-7 2 1 3-2 1 3 1 8 1 0 0-7 2 0 1 2 96-6 4 3 0 1 2 2 0-1 1 1 1 0 1-4 0 4 1 4 3-4 2 0 0 3 2-5 5 7 6 11 0-2 0 3-2-6-1 4-1 0 0 1-2-5-2 4-1 2 0-5 0 2 0 2-3-8-1 6-1-6 0 2-2-3-98 6-2 2-2-5 0 3-2-3-1 5-1-9-1 5-2 3 0-4-1 1-2-4-1 0 0 1-1 6-3-5 8 15 1-6 2 2 1 3 0-2 2 6 1-2 1-5 1 2 2-1 1 0 0 0 3 4 1-3 1 5 0-7 0 8 2-3 1 0 0 2 1 0 1 2 3 0 87-7 1 2 1-2 0 6 5-8 0 3 3-4 0 6 1-5 1 1 0 13-5 4 0-3 0 4 0 1-4-10 0 1 0 5-1-4-2 1-1-3-75 10-4-2 0 0-1 2-1 0-2-5-2 3 0-5-3 3 0 4-3-2-1-5 0 1-4-2-1 8-2-5 0 4-3-4 14 8 3 3 0-1 1-1 0-2 3 6 6 5 1-9 0 7 1-8 1 7 1-4 0 1 0 3 1-2 0-5 1 2 1 4 5 1 3 2 3 1 17 0 9-1 3 1 2-1 4 0 2 0 3-2 4-1 2 0 1-3 1 4 1-1 0-3 3-3 2 0 1 0 1 6 2 3 0-1 0 2 1-5 0 0 0-6 0 2 3 7 4-4 1 0 0 2 1-2-16 9-1-1-2 0-5 0-1 1 0-2-2 0 0 0-1 5-4-2-1 1-1 7-4-6-2-4-2-1 0 5 0 3-1-5-1 3-1-4 0-1 0 4-1 3-1-8-1 2 0 2 0-2-2 2-2-3-2 0 0 5-2 3-2-7-2 2-1 0-1 0 0 0-1 7-1-9 0 8-2-5-1 1-1-3-1-3-1 7-2-3-1 5-5-7-1-1-1 2-6 0 29 9 4 3" transform="scale(.333333)" fill="none" marker-start="url(#m7)" marker-mid="url(#m7)" marker-end="url(#m7)"/>
<path d="M136.1 31.2C136.1 32.1 135.9 33.2 135.5 34C135.1 34.9 134.5 35.8 133.8 36.4C133.1 37.1 132.1 37.6 131.2 38C130.3 38.3 129.3 38.5 128.3 38.5C127.3 38.5 126.3 38.3 125.4 38C124.5 37.6 123.5 37.1 122.8 36.4C122.1 35.8 121.5 34.9 121.1 34C120.7 33.2 120.5 32.1 120.5 31.2C120.5 30.3 120.7 29.2 121.1 28.4C121.5 27.5 122.1 26.6 122.8 26C123.5 25.3 124.5 24.8 125.4 24.4C126.3 24.1 127.3 23.9 128.3 23.9C129.3 23.9 130.3 24.1 131.2 24.4C132.1 24.8 133.1 25.3 133.8 26C134.5 26.6 135.1 27.5 135.5 28.4C135.9 29.2 136.1 30.3 136.1 31.2Z" fill="#c92c8c"/>
<path d="M367 83l7-2 11-1 4-6 0 7 7-2 6 2 2 1 0 8-14 2-4 3-5 0-1-5-11-1-2 2-3-5 2 13 4 4 1-1 5 1 1-3 6-1 3-1 2 2 1-3 1 3 1-3 2 6 4-5 2 5 1 0-20 11-1-5" transform="scale(.333333)" fill="none" marker-start="url(#m0)" marker-mid="url(#m0)" marker-end="url(#m0)"/>
<path d="M391 59l18 12-1-3-1-1-5 3-3-2-3-6-1 6 0 0-1 3-2-4-1 3 0 0-2-9-4 5-1-2-2 3-4 4-1-6-3 0-2 4 0 1-4-1 0 0 0-3-15 13 2-6 0 3 4 3 0-2 5-2 0 6 1 1 0-6 0-4 2 6 0 5 1-10 3 3 3 0 0-2 1 0 2-1 0-1 11 1 3 0 1-1 2 0 6 2 1 4 0-4 0-1 1 6 0-7 0 9 0-2 2 0 0 2 3-4 1 4 1-5 1 6 1 0 4-2 0 1 0 8-3-2-1-3 0 9 0 0 0 0-2-3-1 2 0 1 0 0-1 2-1-6 0-2 0-1 0-2 0 10-42-9-5-1-1 0 0 10-3-3-1 2-3 0 1 12 0-2 2-7 1 2 0 4 2 4 3-7 2 8 1-1 0-7 42 7 1 0 1-6 0 6 0-2 2 2 0-1 6-1 2-1 2 4 0-4-5 5-2 2-1 5-1-4 0-1 0-2-2 2-2 3-4 1-1-3-2 1 0-3-2 5-1 4 0-1-2-2-2 4-1-4-3-2-6 2 0 3-4-1 0 1-1-5 0 0-1 1 0 4-1-1 0-3-2 1-1-4-3 0-1 8 0-11-2 3-3 7-3-9-4 1 14 11 2 0 2 1 3 1 1 0 3-1 0 4 1-2 1-4 1 8 4-3 3-4 5 6" transform="scale(.333333)" fill="none" marker-start="url(#m8)" marker-mid="url(#m8)" marker-end="url(#m8)"/>
<path d="M62.4 107.1C63.7 106.3 66.2 106.8 67.8 107.2C69.5 107.6 70.4 108.1 72.3 109.5C74.1 110.9 76.7 113.6 78.8 115.8C81 117.9 83.3 120.1 85.3 122.3C87.3 124.5 89.8 126.6 91 128.8C92.2 131.1 92.5 133.6 92.7 135.8C92.9 138.1 93.1 140.5 92.1 142.2C91.2 143.8 89.4 145.1 87.2 145.9C85 146.7 82 146.9 79.2 146.9C76.4 146.9 73.1 146.5 70.5 145.8C67.9 145.2 65.5 144.5 63.7 143C61.8 141.5 60.3 139.4 59.5 136.9C58.8 134.4 59.3 130.9 59.2 128C59.1 125.1 59 122.1 59.1 119.5C59.2 116.9 59.4 114.3 60 112.2C60.5 110.2 61.1 108 62.4 107.1Z" fill="#d691c6"/>
<path d="M192 323l7-1 1 1 21 12-7-5-1-2-4-3-8 1-3 6 0 0-3-2 0 0-3 4-2-7-1 0-4 2 0 3-2-2-1 4-1 9 0-1 2-3 2-3 7 3 12 0 2 2 0 2 2 3 2-5 0-3 5 5 7-4 1 0 2 1 2 2 1 5 1-6 1 3 0-2 3 7-1 1-1 1-2 1 0-1-4 1 0-1-2-1-3 0-1 3-11-2 0 8 0-9-7-2-1 1-3 5-4-5-9 2-1 2-2-4-3 5 4 11 2-1 2-4 1 6 0 1 4-1 0-4 3 3 0 0 3-2 11 4 2-1 1 4 1-3 1-5 2 7 1-5 9-1 1 2 7-4 5 5 1-5 1 1 4 5 3-1 2-2 2 0 3 6 11 11-3 2-7-11-2 0-4 11-2-1 0-4-3 1-1-3 0-2-7 3 0-1 0 7-1-7-3 4-8 1 0-9-4 1-13 9-1-1-5-4 0-5-6 11-1-8-9 8-2-9 0 0 0-1-2 1-3 8 0 4 2 3 2-2 1 2 10-3 1-1 3 5 1-4 4 2 3 7 3-2 2-6 6 0 7 0 1-2 1 2 1 3 2-4 2 9 4-2 2-5 3 6 0-5 3-3 8 0 1 2 1-3 1-1 4 2 2 9 2-10 1 0 2 8 0-7 1 1 4-1 5 8 0 12 0 1-2-4-5 1-5-3-6 3-3-2-1-1-6 4-2-1-1-8-2 5-3 5-5-1-4-4-11-3-1 7 0-5-3 1-1 4-1 1-7-9-3 2 0 8-2-9 0 9 0-5-4 2-2-6 0 4-1-5-1-1-1 1 0 1-2-2-1 10-8-6 0-4-1 10 0 3 2 1 2 7 0-3 6-6 8 4 1 6 1 1 1-11 1 6 2 1 1-2 5 2 1-4 0 3 1 2 1-3 0-4 2 4 0 0 8-5 2 8 3-5 1 4 1 4 1-2 0-2 1-3 6 2 1 1 1 0 2 1 1 0 1-4 1 1 2-3 1-2 0 8 4-6 4 8 0-5 3 1 5-3 2 2 10-3 0 8 1-4-6 10-4-4-6 1-2 0-6-1 0 3-4-3-3 1-3 8-3-9-6 3 0 7-1-7-3 5-5 2-1-3-2-4-1 8-1-7-4-3-3 9-5-10-4 5-9-1-1-4 16 12 2 3 3-2 6 2 1 3 1-3 3-3 2 7 0-1 4 0 2 0 4 2 2-3 1-4 4 6 1-3 0-4 3 7 2-2 2 1 3-4 0 0 4 0 5-1" transform="scale(.333333)" fill="none" marker-start="url(#m0)" marker-mid="url(#m0)" marker-end="url(#m0)"/>
<path d="M206 309l-6-1-6 3-11 0-4 10 6-2 0-1 2 1 1 2 1-4 3 4 2-8 2 6 1 0 0 2 2 0 1-4 0 6 1-4 0 4 0-1 0 0 1-3 2 1 1-6 1 5 2-6 1 9 0-8 0 2 1 7 3-4 4-3 1 7 4 0 2 0 1 0 17 11-6-1-2 0-1-6-2 0-1 3 0 3-1 1 0-1 0 2-3-5-1 3-1-1-1 0 0 2-1-3-2 1 0-5-1 0-1 1 0 6-1-10-1 1-1 0-1 3 0 1-2 0 0-2 0 0 0 2 0-3-1-1 0-1-2 2-18-2-7 2 0 1 0 5-1-1 0-4 0 8-2-4-2 3-3 0-2-4-1 2-1-5-1 3 0 10 1 6 1-5 3 3 0 0 4 1 0-2 0-6 2 0 0 0 0 4 0 2 42-7 2 5 0-4 0 2 1 0 1-3 1 3 0 0 1 4 3 3 1 1 0-1 2 0 0-4 1 3 3-4 0 5 0-10 2 1 22 19-8-2-2 0-4 4-3-6 0-1-2 6-1-2-1-6 0 2-1 2-2-2 0-1-1-1-1 1 0 1-1 0-57-2 0 3 0 2 0-5-4 5 0 0-1 4 0-6-2-4-1 6 0 5-2-1-2-7-4 20 1-4 4 4 8-11 1 4 0 6 1-7 0-3 0 0 69 2 2-2 1 4 0-2 2-2 6 8 0-4 0 7 1-4 1-1 1 3 1-1 1-2 5-2 0-3 14 21-2 1-2 0 0-2-1-2-1-2-1 3-1-7-1 5-3 3-2 1 0-4 0 2-1-1-1 0 0-4 0 7-1 0-1-5-1 1 0 1-85-4 0 8-2-1 0-7-1-2 0 1 0 6-1-6 0 8-2-9-1 8-5-5 0 4-2 3 0 11 2 0 1-3 1 3 1-7 0 4 1 2 0 2 1-6 0-3 1 2 2 5 0 2 0 0 1-6 3 3 0-5 1 8 88-10 2 3 0-3 0 2 7 4 0-7 0 5 2 4 1-5 5 15 0-7-2 3-1 0-3 2-1-3 0 4-1-2 0 2-2 3-1-7-95-2 0 11 0-3 0-8-2 5-3 3-2 3-1-4 0 0-1-4 0-1-4 7 4 7 1-3 1 5 0 0 1-5 3 5 0 3 1-9 3 2 0 6 1-1 0-6 0 4 1 3 1 1 2 1 92-10 0 4 1 1 2-4 3 9 0-10 1 4 0 1 0 0 3-2 1 3 1 11-1-2-5 2-3 5-1 1 0-11-3 2-1 8-2-2-1 2-1-1 0-1-72 3-2 0-5-2-3-4-2 3 0 1-1-8 0 5 0-5-3 5-3-4 0-1-2 0-2 2 0 7-1-9-1 6-1-7-1 2 15 14 0-3 1 4 3-2 1-2 0 5 0 1 4 0 0 1 5-5 0-1 2 7 1-7 1-1 0 9 1-5 2-3 1 4 0 2 1-2 2 1 2-2 0 5 0-5 2 1 4 2 0-1 8 2 0-2 0-1 1 3 2-2 1 0 1 0 1 1 2-1 1 4 1-4 2 2 1 2 1-4 0 3 1-3 4 2 0 1 3 1 0-2 1-1 3-3 0 6 0 0 5-3 1 0 2-5 2 5 0 3 2-4 1-6 0 10 0-10 2 0 0 0 5 3 2-2 0 7 1-6 0 0 4 0-12 12-7 2-1-1 0-1-2 4-1-6-1-1 0 0-1 2 0 3-3-5-1 4-6 0-2 1 0 0-1-4-2 1-1-2 0 0-3 2-3-1-1 0-2 7-3-4-3 4-1-3-1 1 0-6-12 1-2 0-2 3-3-1" transform="scale(.333333)" fill="none" marker-start="url(#m9)" marker-mid="url(#m9)" marker-end="url(#m9)"/>
<path d="M107.7 127.9C108.5 127.1 110 126 111.4 125.6C112.8 125.3 114.9 125.4 116.2 125.9C117.6 126.4 118.9 127.2 119.5 128.6C120.1 130 120.1 132.4 120 134.3C119.9 136.1 119.6 138.1 118.8 139.7C118 141.3 116.8 143.1 115.3 144C113.9 144.9 112.1 145.1 110.3 145.2C108.4 145.4 106.1 145.3 104.4 144.8C102.7 144.3 100.9 143.3 99.9 142.2C98.9 141.1 98.2 139.5 98.4 138.2C98.6 136.9 99.8 135.6 101 134.7C102.2 133.7 104.6 133.3 105.5 132.6C106.5 131.9 106.2 131.3 106.6 130.5C107 129.8 106.9 128.7 107.7 127.9Z" fill="#e3ba5c"/>
<path d="M349 379l-1 3-2-1 0 2-3-1-2-1-3-2 0 1-2 0 0 3-1-2-6 2-10 11 3-3 1-4 1-3 5 6 0-4 1 3 1 2 1-6 2 10 0 0 2-10 2 4 2 4 1 1 0-6 1 5 2-2 1 4 4-9 0 0 1 7 2-9 0 9 1-2 4-5 2 11 0 2-2-2-3 2-1-1 0-2-4 0-2 8 0-1-1 0-1-3-2 6-1-6 0 2 0-1-2 2-1-3-2 6-1 1-1-8-1 4 0-2-1-5-6 11-2-5 0-3-2 5-2 2 0 1 0-5-3-4-1 7-1-4-1 6-1-1-1-6-1 2-5 4 0 1-1 0-1-1 0 1-7 7 1-3 1 6 2 0 1-9 1 7 0-1 2-3 0 6 1-9 0 9 0 1 1 0 1 1 0-11 1 4 2-1 0-1 1 3 0 6 3-3 1 2 1-2 3-4 1-4 1 4 1-3 0-1 4 1 1 6 0 1 0 2 1-3 0 3 1-4 0 4 2-10 1 11 2-11 0 5 3-1 0 3 1-7 1 2 1-2 0 3 1 8 1-7 0 5 1-9 1 2 1 3 1-2 1 2 2 5 0-7 0 0 1 6 0 0 1-3 1-2 0 5 2-7 1-2 1 4-3 8-2 0-1 2-5 4 0 1-2-3-1-1 0 0-3 5 0-7-2 4 0-4-1-1-5 4 0-1-1 7-1-10 0 8-1-6-1 0-1 9-6-8-1-3 0 4-1 6 0-1 0-6-1 3-2-5-2 4-1 4-2-4-2 6-2-4 0 4-1-7 0-3 0 1-1 0-1-2-1 6 0 2-1 0 0 1 0-4 0 3 0-1-1-1-1-1-2-1 17 9 5 0 12 0" transform="scale(.333333)" fill="none" marker-start="url(#m0)" marker-mid="url(#m0)" marker-end="url(#m0)"/>
<path d="M323 368l4 3 6-3 5-1 0 1 1 1 3-1 1-1 2 4 4-6 22 17-8-4-1 3 0 0-2-2 0 3-2 0-7-9-1 3-2 2-1-1 0 0-1 0-1 1-2-2-3 2-8 2 0-2 0-3-2 2-1-5-1 9-1 2 0-7-2 4-4-1-1-3-5 6-1-4 0 5-14 12 2-1 2 1 0-5 3 5 5-8 0 5 1-3 0 0 2 3 4-1 1 0 1 0 0-7 0 7 1-7 3 0 33 5 0-4 1 1 0 9 1-6 1 6 4-8 0-1 2 5 2 4 1 9 0-3-2-2-1 7-2-5 0-3-2 3-1-4-1 8-1 2-1-8-1-3 0 11-40-9 0-1-1 0 0 2-3 2-4-2-4 5-2-7 0 0 0 7-1 0 0-5-1 3 0 2-4 3 0-8-1 6 0 2-1-4-5 2-3 10 3 1 4-2 0 4 2-4 0-3 1-2 3 0 0-1 55 5 1-3 0 8 0-4 1 1 1 2 1-9 0 9 2-7 1 4 0 1 0-1 1 3 2-5 0 2 1 4 2-7 0 1 1 5-5 6 0-3 0 9-5-1-2 1 0-2-1-5 0-2-1 2-1 9 0-11-1 7-7 3-2 1-1 0-36-1-2-1 0 0-3-2-1 0-1-1-1 2-2-6-2 3 0 0-1 5-1-4-1 0 0-4 0 9-2-9 0 3-8-5 10 16 10-3 1 0 1 1 1-2 0 10 0 0 1 0 0-2 2-5 1 0 0 7 0-4 1-1 1 2 0-2 0-1 1 2 0-5 0 7 2-7 1 2 0 0 1 1 1 1 3 2 1-3 3 1 0 1 3 1 0 4 1-2 0-5 2 3 5-3 0 0 0 3 0 3 1-2 0-2 3-5 0 4 2-4 1 1 1 0 1-2 3 2 1 1 4 3 1 2 3-5-10 9-3 1-1 2-10-1-7-1-6 0-11 0" transform="scale(.333333)" fill="none" marker-start="url(#m10)" marker-mid="url(#m10)" marker-end="url(#m10)"/>
<path d="M248 42l-2-2" transform="scale(.333333)" fill="none" marker-start="url(#m4)" marker-mid="url(#m4)" marker-end="url(#m4)"/>
<path d="M124 360l2 4 2-1 1 5 1-3 4 2 0-4 12 5 0 2 4 4-1 2-1-4-1 7" transform="scale(.333333)" fill="none" marker-start="url(#m11)" marker-mid="url(#m11)" marker-end="url(#m11)"/>
<path d="M658 360l2 4 2-1 1 5 1-3 4 2 0-4 12 5 0 2 4 4-1 2-1-4-1 7" transform="scale(.333333)" fill="none" marker-start="url(#m12)" marker-mid="url(#m12)" marker-end="url(#m12)"/>
<path d="M348 86l-4 3-5-2" transform="scale(.333333)" fill="none" marker-start="url(#m8)" marker-mid="url(#m8)" marker-end="url(#m8)"/>
<path d="M434 238l-6-2 1 4 3 3 3 5 3 4" transform="scale(.333333)" fill="none" marker-start="url(#m7)" marker-mid="url(#m7)" marker-end="url(#m7)"/>
<path d="M252 58.3C253.2 56.4 256.6 54.2 259.4 53.1C262.2 52.1 266.1 51.8 268.8 51.9C271.4 52 273.5 52.5 275.3 54C277.2 55.5 278.3 58.5 279.9 61C281.5 63.5 283.3 66.6 285.1 68.9C287 71.1 289 72.8 291.1 74.3C293.1 75.8 295.1 77.4 297.4 78C299.8 78.7 302.8 78.2 305.2 78.2C307.7 78.1 310.4 77.2 312.2 77.5C314 77.8 315.1 78.3 316.1 79.7C317.1 81.2 317.8 83.6 318 86.2C318.2 88.9 317.8 92.3 317 95.5C316.3 98.8 315 102.8 313.3 105.7C311.6 108.6 309.2 110.9 306.7 113C304.2 115.2 301 116.9 298.3 118.5C295.7 120.1 293.4 121.5 291 122.7C288.5 123.8 285.9 125 283.6 125.5C281.3 126.1 279.3 126.4 277.1 126C275 125.6 273 124.5 270.7 123.1C268.4 121.6 265.9 119.6 263.4 117.4C261 115.2 258.7 112.4 256.2 110C253.8 107.5 250.7 104.7 248.7 102.8C246.8 100.8 244.7 99.6 244.4 98.2C244.1 96.9 245.9 95.6 247 94.5C248.1 93.4 249.9 93.2 251 91.7C252.1 90.2 253.1 88.8 253.5 85.4C253.9 82.1 253.7 75.3 253.5 71.7C253.3 68.1 252.4 66.3 252.2 64.1C251.9 61.8 250.8 60.1 252 58.3Z" fill="#f4e9e3"/>
<path d="M201.5 80.6C203.1 79.5 203.7 78.4 204.9 78.4C206 78.3 206.9 79.9 208.3 80.5C209.8 81.1 211.7 81.3 213.3 81.9C215 82.5 216.6 83.2 218.3 84C220 84.7 222 85.6 223.5 86.7C225 87.7 226 88.8 227.1 90.4C228.3 91.9 229.8 94 230.5 95.9C231.2 97.9 231.6 100.2 231.1 102.1C230.6 104 229 105.7 227.5 107.3C226 109 224.3 111 222.2 112.1C220.2 113.1 217.7 113.3 215.2 113.6C212.7 113.9 210 114.4 207.4 114C204.8 113.7 202 112.6 199.6 111.5C197.3 110.4 195 109 193.5 107.3C191.9 105.6 191 103.1 190.4 101.2C189.8 99.3 189.8 97.8 190 95.9C190.2 94.1 191 91.7 191.9 89.9C192.8 88 193.8 86.3 195.4 84.8C197 83.2 199.9 81.7 201.5 80.6Z" fill="#62a957"/>
<path d="M606 251l1-6 19 0 33 16-15 0 0-5 0 3-2 1-3 3-1-2-1-1-2-7-4 10-5-10-2 7-5 2-5-4-1-5-13 3-3-4-5 9-12 5 7 1 5 7 9-5 0 1 1 4 5-10 13 8 0-6 1 7 9-9 2 4 12 0 2 4 4 3 4-7 3-4 1 3 0 6 4-8 9 1 10 11-1 1-1 1-12 5 0 0-2 1-2 0-2-5-13-3-5 0-4 5-9 1-3 0-12-7-4 10-6-9-4 6-9-2-15 14 3 0 10 0 6 2 1-9 7 11 5 0 4-10 3 7 1 2 7-9 3 0 1 10 2-6 1 0 5-4 7 6 0 3 1-8 1 6 3-3 21 5 1-3 13 3 5-3 1 8-1 7-6-3-6-6-1 0 0 3-17 3-20-6 0 9-2-5-12 1-24-6-20 11-2-3-2 5 10 6 7-2 6-1 4 1 3 5 3-4 0-6 7 11 3-7 6-3 8 8 1 2 11-4 0-5 1 9 2-8 5 5 0-2 10-4 1 0 18 2-5 8-6 5-7-2-4 6-6 0-2-9-13 1-2 1-3-1-3 5-2-4 0 9-4-1-3-2-5 2-14-4-1 1-2-4-9-3-1 2 46 11 4 0" transform="scale(.333333)" fill="none" marker-start="url(#m0)" marker-mid="url(#m0)" marker-end="url(#m0)"/>
<path d="M610 226l1 1 1 0 1-1 2-2 29 11-4 2 0 1-1 0-3 1-9 0-3 0 0-8-1-1-2 1-1-1-2-2 0 8-1 3-2-2-1-2 0-3-1 2 0-6-2 11 0 0-1-1 0-6-5 5 0-2 0 3 0-6-2 5-1-4 0 6-2-8-2 5-1 2-1 0-3-1-11 9 0 1 2-4 1 3 0 5 2-2 3-4 1-5 4 11 2-9 8-2 0 1 12-1 0 0 1 1 3 0 1 0 3 2 0-1 5 2 4-1 0 2 3 0 2-4 5 3 3 5 2 0 1 2 0-2 4-3 6 2 0 3 3 0 0-1 1-2 1-6 0 7 1-1 3 3 1-2 3-1 10 8 0 4-1 3-1-1-1-2-1-5-4-1 0 4-2 3 0-7-1-2-4 0 0 0-1 4 0-4 0 1 0 7-1-8-2 1 0 2-1-2-3-1-2 0-2 2-66-1 0 1-2-1-1 0 0 2-1-1-3 5 0 2-3-3 0 5 0-7-2 6 0-5 0 4 0 0-1 0-2-1-1-5-2-1-1-1 0 5 0 5-7 8 1-6 0 9 3 1 2 0 1-9 0 4 1 0 1-6 2 2 0 1 0-1 0 9 1-8 2 2 0-1 2-3 97 5 0-3 0-2 3 8 0-7 4 3 0 6 2-7 3 0 1 1 0-2 1 8 3-4 1 2 1 12-1-2-1-7 0 4 0 0-1 1-1 1-1-2 0 7-1-3-1 2-2-2 0-8-1 1 0-1 0 5-1-5-1 2 0-1 0-1 0 2-112 7 0-5 0-3-1 8-1 2 0-8 0-2-1 4-1 6-1-3 0-1-2-6-1 2-3-1 1 10 2 8 0-4 2 3 0-5 0 7 1 1 2-4 0-5 0 4 1-1 1-1 0 1 1 3 0 1 119 0 1 3 0-1 0-4 2-6 0 11 0-11 0 1 1 0 1 5 7 13-2-7 0 1-1 10-2-6-2 6 0-6-1 6 0-4-2 4-1-4-1-5-2 8-115-4 0 4-1-8-1 4-1 5-2-6 0-3-2 2-4 4-1-4 0-3 0 2-1-2 0 10 4 2 3 2 2-1 1 5 1 3 1-6 2-1 2 5 1-2 6 5 98-2 2 0 3-6 1 1 2 0 2 0 0 0 0 3 2 2 0 2 3-11 2 0 0 3 3-3-4 12-8 3-1-3-1 10-1-6 0-2-1 5-1-5-1 0-1 4 0-4-1 0 0 3-3 2 0 1-2 2-2 1 0-7-1 1 0 4 0 0-1 1-2 0-2-1-69 2-4-2-3-4 0 4-1 0-3 0 0-1-2 2-1-3-1-1-1 4 0-1-1-7 0 1 0-3-3 11-4-3-1-5 0-1-2 1-4-3 12 13 6 2 2 4 3-6 1 2 1-1 1 2 1-2 0-1 0 3 1 0 0 5 0 1 0-10 2 4 0-4 0 8 0-8 1 6 1-6 1 5 0 2 6 1 0-6 1 0 1 9 2-9 1 0 1 9 0-5 1-3 1 7 1-5 0 0 2 2 1-3 1 4 3-2 0 0 2 0 3 0 0 4 4-5 0-1 1 0 0 4 1-2 1 3 5-4 2 5 2 1 0-7 3 5 0-3 1 2 0 3 3-2 1-5 2 2 0-5 1 5 1 4 1-9 1 3 1 6 0-9 1-1 0 5 1-5 1 1 1 1 1 5 1-5 3 3 1-1 1 2 1-1 1 2 1 3 11-7-12 9-5 1-12 2-1-2-6 0-2 1 0 0-1 1-5-3-7 2 0-1-1 1-1 4-6-5 0-1-1 8-1-6-2 2-2-1-4 3-4-6-7 2" transform="scale(.333333)" fill="none" marker-start="url(#m13)" marker-mid="url(#m13)" marker-end="url(#m13)"/>
<path d="M216.9 57.8C218.1 56.9 219.9 56.5 221.4 56.5C222.8 56.5 224.5 57.1 225.7 57.7C226.9 58.3 227.8 59.1 228.5 60.2C229.3 61.3 229.9 62.8 230 64.2C230.1 65.5 229.6 67.1 228.9 68.5C228.3 69.8 227.4 71.6 226.2 72.3C224.9 73.1 222.9 73.2 221.3 73C219.8 72.8 218 72.2 216.9 71.2C215.8 70.2 215.3 68.6 214.8 67C214.4 65.5 214 63.5 214.4 61.9C214.7 60.4 215.7 58.7 216.9 57.8Z" fill="#b7d891"/>
<path d="M654 178l5 0 4-7 2 0 7 4 10 14-1-2-8-2-3 0-3-1-4-1-9-2-10 16 7-1 0 3 1 1 2-2 1 3 1-9 3 5 0 0 14 4 15-8-9 19-11-8-8 9-5-3 15 6" transform="scale(.333333)" fill="none" marker-start="url(#m0)" marker-mid="url(#m0)" marker-end="url(#m0)"/>
<path d="M683 162l0 5-3-1-5-1-4 1-2-1-3 0 0-3 0-3-1 8 0-9-1 6-2 3-3 0-1-3-2 2-2-1-1-1-5-3 0 6-3 0-7 6 1 5 1-6 2-2 3-2 0 8 1-5 0 2 1 6 1-11 0 0 2 2 2 2 1-1 2-2 0 4 1 1 0-3 2 1 0-1 0 2 4-4 4 2 1-2 0 1 1 2 1-3 1 3 2-2 3-1 3 6 1 0 2-4 0 6 2-3 0-1 0 0 2 4 2 1 3-4 0 2 1-3 0 5 1-1 9 13 0-7-3 7-1-4-1-4-7 4-2-4-1-1-1 2-40 3-1 5 0-5-1-6-1 2 0 8-1-2-2 2 0-2 0-4-4 7-1 0-4 2 1 8 4-2 1 0 3 2 0-3 1-4 2 7 1-9 0 2 0 0 0 2 1 1 2 6 41 0 0-3 0-2 0 5 1-2 0-6 0 3 1 5 0-4 1-1 1 3 2-8 1 1 0 5 2 0 2-7 0 12-1 4-2-2-3-1-1 9 0-6-1-2-1-1-1 3-1-1-6 5-26 2 0 1-2-1-1-2-1-1-1 4-1-7-1-2-1 6 0-1 0-2 0 4-1-4-1 4-3 0 0-9-1 10-3-4 1 7 1 1 0 3 0 1 2-5 3-1 1 3 2 1 1 1 0-2 3 3 1-5 0 4 1 0 2-3 0 3 0-5 2 2 0 0 1-1 0 1 2 5 0 0 1-2 1 5 0-3 1-3 1-2 1 3 0-2 2-2 1 0 0 6 3-4 0-1 1-2 0 4 0-2 1 4 0-4 1 3 0-1 0-2 1 4 0-6 2 3 0 1 1 0 2-3 2-1 0 2 3-2 3 7-8 5-17 2-3-2-1 3" transform="scale(.333333)" fill="none" marker-start="url(#m14)" marker-mid="url(#m14)" marker-end="url(#m14)"/>
<path d="M230.7 39.3C231.1 37.7 232.6 36.6 233.9 35.8C235.2 35.1 237.1 34.9 238.6 34.9C240.1 34.9 241.8 35.3 243 35.8C244.2 36.4 245.3 37 245.9 38.1C246.5 39.2 246.5 41.1 246.6 42.6C246.6 44 246 45.4 246.3 46.7C246.6 47.9 248.4 49 248.2 50.1C247.9 51.2 246.3 52.6 244.7 53.1C243.1 53.6 240.3 53.5 238.6 53.1C236.8 52.6 235.2 51.6 234.1 50.3C232.9 49.1 232 47.3 231.4 45.4C230.9 43.6 230.3 40.9 230.7 39.3Z" fill="#e9ecf0"/>
<path d="M240 61.3C241.1 60.5 243.5 60.4 245 60.5C246.5 60.6 248 60.9 249.1 61.8C250.2 62.8 251.1 64.5 251.6 66.3C252.1 68.1 252 70.6 252.1 72.8C252.2 74.9 252.2 77.1 252 79.4C251.7 81.6 251.5 84.3 250.7 86.3C249.8 88.3 248.6 90.7 247.1 91.5C245.6 92.3 243 92 241.6 91.1C240.1 90.1 239 88 238.5 85.9C237.9 83.8 238.4 80.9 238.4 78.5C238.4 76.1 238.5 73.6 238.5 71.4C238.4 69.2 238 67.1 238.2 65.4C238.5 63.8 238.9 62.1 240 61.3Z" fill="#e5e8ef"/>
<path d="M287.1 40.8C287.1 41.7 286.8 42.7 286.4 43.6C286 44.4 285.3 45.3 284.5 45.9C283.8 46.5 282.8 47 281.9 47.3C280.9 47.6 279.8 47.8 278.8 47.8C277.8 47.8 276.7 47.6 275.7 47.3C274.8 47 273.8 46.5 273.1 45.9C272.3 45.3 271.6 44.4 271.2 43.6C270.8 42.7 270.5 41.7 270.5 40.8C270.5 39.9 270.8 38.9 271.2 38C271.6 37.2 272.3 36.3 273.1 35.7C273.8 35.1 274.8 34.6 275.7 34.3C276.7 34 277.8 33.8 278.8 33.8C279.8 33.8 280.9 34 281.9 34.3C282.8 34.6 283.8 35.1 284.5 35.7C285.3 36.3 286 37.2 286.4 38C286.8 38.9 287.1 39.9 287.1 40.8Z" fill="#f4ede6"/>
<path d="M276.7 56.9C276.7 55.4 278.9 54.1 280.6 53C282.3 52 284.3 51.2 287 50.7C289.7 50.3 293.6 50.4 296.5 50.5C299.5 50.5 302.5 50.6 304.7 51.2C306.9 51.9 308.2 53.3 309.7 54.5C311.3 55.6 313.1 56.6 314.2 58.1C315.3 59.5 316.2 61.3 316.5 63.1C316.8 65 316.4 67.5 316.1 69.1C315.9 70.8 315.9 72.1 314.9 73.1C313.9 74.1 311.8 74.9 309.9 75.3C308.1 75.8 305.8 75.8 303.9 76C301.9 76.3 299.8 77.2 298.2 77C296.5 76.8 295.5 75.7 294.2 74.7C292.9 73.8 291.6 72.7 290.3 71.5C288.9 70.4 287.5 69.5 285.9 67.9C284.2 66.4 282 64.1 280.5 62.3C279 60.4 276.6 58.4 276.7 56.9Z" fill="#f6ebe4"/>
<path d="M314.1 31.2C314.1 32.1 313.9 33.2 313.5 34C313.1 34.9 312.5 35.8 311.8 36.4C311.1 37.1 310.1 37.6 309.2 38C308.3 38.3 307.3 38.5 306.3 38.5C305.3 38.5 304.3 38.3 303.4 38C302.5 37.6 301.5 37.1 300.8 36.4C300.1 35.8 299.5 34.9 299.1 34C298.7 33.2 298.5 32.1 298.5 31.2C298.5 30.3 298.7 29.2 299.1 28.4C299.5 27.5 300.1 26.6 300.8 26C301.5 25.3 302.5 24.8 303.4 24.4C304.3 24.1 305.3 23.9 306.3 23.9C307.3 23.9 308.3 24.1 309.2 24.4C310.1 24.8 311.1 25.3 311.8 26C312.5 26.6 313.1 27.5 313.5 28.4C313.9 29.2 314.1 30.3 314.1 31.2Z" fill="#f9e1e3"/>
<path d="M240.4 107.1C241.7 106.3 244.2 106.8 245.8 107.2C247.5 107.6 248.4 108.1 250.3 109.5C252.1 110.9 254.7 113.6 256.8 115.8C259 117.9 261.3 120.1 263.3 122.3C265.3 124.5 267.8 126.6 269 128.8C270.2 131.1 270.5 133.6 270.7 135.8C270.9 138.1 271.1 140.5 270.1 142.2C269.2 143.8 267.4 145.1 265.2 145.9C263 146.7 260 146.9 257.2 146.9C254.4 146.9 251.1 146.5 248.5 145.8C245.9 145.2 243.5 144.5 241.7 143C239.8 141.5 238.3 139.4 237.5 136.9C236.8 134.4 237.3 130.9 237.2 128C237.1 125.1 237 122.1 237.1 119.5C237.2 116.9 237.4 114.3 238 112.2C238.5 110.2 239.1 108 240.4 107.1Z" fill="#f7e2e3"/>
<path d="M285.7 127.9C286.5 127.1 288 126 289.4 125.6C290.8 125.3 292.9 125.4 294.2 125.9C295.6 126.4 296.9 127.2 297.5 128.6C298.1 130 298.1 132.4 298 134.3C297.9 136.1 297.6 138.1 296.8 139.7C296 141.3 294.8 143.1 293.3 144C291.9 144.9 290.1 145.1 288.3 145.2C286.4 145.4 284.1 145.3 282.4 144.8C280.7 144.3 278.9 143.3 277.9 142.2C276.9 141.1 276.2 139.5 276.4 138.2C276.6 136.9 277.8 135.6 279 134.7C280.2 133.7 282.6 133.3 283.5 132.6C284.5 131.9 284.2 131.3 284.6 130.5C285 129.8 284.9 128.7 285.7 127.9Z" fill="#f4e8e5"/>
<path d="M827 210l-34 111 2-6 83 2-32 23 15 2-6 6-10 3-43-2 56 55-23 8" transform="scale(.333333)" fill="none" marker-start="url(#m15)" marker-mid="url(#m15)" marker-end="url(#m15)"/>
<path d="M798 95l-7-6-15 2-40 10 43 5 9 1 0-2 3-7 72 1-12 12-16 6-15-1-4 2-7-2-2 1-10-8-7 2 0 4-1 1 0-3 0 6-4-4-2-2-6-2-1-1-2 1-11 3-1 3-21-5-14 3-12-5-8-1-3 2-1-1-5 1-2-2-14 1 47 16 33 2 5 3 17-5 7-6 2 5 1-2 2-2 11 0 2 2 6 1 10 7 3-1 4 0 31-5-11 9-51-1-39 0-63 0-2 3 24 15 14-2 10 3 39-7 11 7 26-2 101 13-9-4-13 2-34 2-49-3-8-4-38 10-24-7-1 0-18-3-4 3-20-1-9-1 34 19 3-3 4 5 2-3 6 3 38 0 15 1 74-1 12-8 24 5 29 6-17 8-21-1-23-2-19 3-17-5-43 0-30-4-14 8-5-5-8 6 0-8-6 3-1 7-3 0-1-2-2-3-7 5-5-2-10 14 3-1 6-10 1 3 2 5 2 3 2-1 0 1 2-8 0-2 4 0 1 1 0 2 1-1 2 7 4-9 3 10 2-8 3 5 2-2 8 1 11 3 3-9 9 3 48 7 15-6 12 3 39-8 7 5 21-3 21 2 6 1 8-2 3-2-17 18-19 2-26-9-13 4-12-3-23-1-3 2-28 2-14 4-8-2-4-2-5-2-20 6-7 0-7 3-2 0-14-7-2 0-8 4-2-8-2 7-3 2-1 0-9-3 3 14 2 2 5-1 8-7 0 6 3-3 6-3 3 4 2-4 6 2 3 3 2 3 9-6 0 1 9-2 9-3 7 0 4 2 11 1 1 3 27-6 2 8 7-1 6-4 30 5 3-5 0 1 20 2 14-3 6-1 10-1-90 17-4 5-8-2-49 2-9-11-2 2-6 0-15 3-8-3-19 0 0 4-5 8 5 7 5-3 0-2 5 0 10 0 4 3 13-3 6 4 4 1 44-4 6 6 12-11 138 2-37 20-77-3-9-7-16 2 0 7-96-1 46 6 6 2 14-2 5 5 69 3 32-4 13 4 19-9 7 7-5 12-3-6-11 0-19 4-4 3-65-1-28-5-7-3-2 11-39-5 0-5-14 3-7 9 5-1 1 3 21 3 4 4 17-1 5-5 13 1 11-2 34 5 11-3 2 3 5 0 4-5 4 3 7-5 7 9 11-4 3 13-17-6-2 5-3 0-21 2-16 2-49-2-52-2 33 8 3 4 38-4 5 9 20-9 7-1 4-1 2 0 3 3 15 7 7-6 1 6 9-7 45 11-13 7-8 0-69 1-12 0-54-8-2 17 5 4 12-11 6 8 81-5 7 4 21-7 7 9 2-2 3 4-11 2-7 8-6-7-91-1-61 6 37 14 9-3 31-1 10 5 6-9 21 10 24 0-6 12-9-11-3 7-19-5-16 0-22-2-103 8 150 14 24 0 13 0 9-3 0-7-19 23-2-4-137 16 61-6 40 6 4-2 3 0 4-2 8 0 11 1 2-7 17 5 2 0 7-2-4 16-1-3-15-1 0 6-1 1-21-8-23 1-107 5 128 3 14 2 15-2" transform="scale(.333333)" fill="none" marker-start="url(#m16)" marker-mid="url(#m16)" marker-end="url(#m16)"/>
<path d="M783 85l-89 13 2 1 15 7 8 0 2 1 2 0 9-7 30 3 15-2 13 5 0-5 30-4 2 9 2 0 3 0 3-1 8 0 3 1 31 2-25 10-6-5-4-4-4 6-31 2-35-9-20 6-6-4-12 5 0-5-7-2-4 0-3 8-4-4-10-4-6 5-2-2-6 3 7 15 5-9 8 9 3 1 1-8 13 0 2 2 0 2 16-2 16 5 2-2 4-4 3 8 0-8 0 8 18-2 16-7 7 4 2-4 3 3 8 4 30-2-16 16-1 0-3-5-22-6-16 10-24-3-21-6-8 1 0 8-12 0-10-3-1 0 0 2-13 1-8-1-2-6 8 18 25 1 15 0 5-2 7-1 8-7 7 10 15-3 1-6 8 7 4-3 14 2 21-7 19 6 15 0 1-3 33 14-47 4-106-3-24-6-3 4 49 19 5-8 100 8 7-5 59 11-37-2-33 5-2-7-68 7-24 2-22 1-20-8 50 12 47 3 10-6 3 8 16-7 20 9 69 4-10 8-27-4-37 5-48-10-87 9 58 13 56-8 19 4 10 4 47-4 11 9-60-1-33 3-119 0-20 9 19 8 34-8 182-1 16 20-200-2-11-8-9 7 0-2-2 3 0-7-2 2-3 7-1 1-1-2-3-7-13 4-1 4 3 3 19 5 1 2 1-1 4-2 3-5 165 4 20 10-172 5-6-5-8 2-6 7-7-8 7 10 148 4 6 16-8-6-21-2 12 16 38-1 5-3 4 9 6 0-6 11-3-3-13 2-46-2-21 8 39 21-52 4 10 3 55 6-16 2-38 4-18-6-100 0 123 21 7-8 4 8 14-4 31-1-21 17-22-7-20 14 21 7 12-9 14 8-20 2-9 5-2 6-1-11" transform="scale(.333333)" fill="none" marker-start="url(#m17)" marker-mid="url(#m17)" marker-end="url(#m17)"/>
<path d="M923 71l-22-2-4 8 0 2 3 2 4 1 7-4 2 2 12-5 2 5 2-4 7-2 7 4 3 13-1 2-11-4-11 4-1-9-1 0-9 1-3 4-1-1-2 4-21 11 10 4 7-11 6 8 7 2 3-2 1 2 3-3 0 1 1 0 6 2 6-5 11 6 5-5-3 12-18 2-22-2-11 5-75-10-97 17 123-3 60-1 2-2-200 14 163 20 14-1 36 4-175 21 17-2 83-1-27 14-25-2-8-2-43-5-12 9 96 12 1-8 14 6 20-5 79 9 2 6-94 1-7-6-23 8-1 2-5-1-12 2-22-8-18 2-3 4-43-1-9 7 26-3 22 5 15-5 38 2 5-1 2 5 11-4 10 7 38-6 50 0 13 1 16 16-14-6-51-2-52 6-4 1-27 4-2-1-12-1-26-2-2-1-2-1-8 0 20 18 4-11 11 9 22-9 1 10 36-10 92 22-1-1-94-1-18-2-8 0-27 1-8 3-5 1-1-3-14-2-2-6-8 11-32 1 21 11 6-5 22 2 1 2 6-10 18 5 44 1 66 5 11-10 22 2 3 18-93-9-76 9-3 12 14 0 37-4 24 6 7-2 37-6 21 1 4 19-3 0-2-4-12-5-3-2-11 9-14-7-94 6-10 3-48 11 6 0 1-10 1 11 2-6 0 3 12-4 4 5 111-7 47 7 4-3 14-4 16-2 0 3-111 20-41-5-5 5-9-4-6 1-1-2-16-2-4-2-2 9-1-8-2 7-3-8-5-2-5 2-2 0-2 6-14-2 0 16 4-1 7 2 2-7 1 7 10-1 3-4 11 5 0-5 5-3 3 8 2-5 1-2 0 1 1-5 11 3 1 6 4-2 4 2 23 2 14-7 82 3 25 1-124 14-7-8-5 9-6-6 0-1-2-2-7 7-3-9-4 8-1-7-4-1-1 3-2-3-12 3-3 0-7-3-5 6-5 4-2-3-1-1-1-6-2 10-2 1-1-8-12 8 6 5 3-3 5 4 9 2 5-7 2 11 15-10 3 5 1-2 2 4 1 2 3-2 0 1 3-2 7 2 5-8 2 9 0-6 6 3 4 2 4-3 6 1 8 3 4-1 17 1 8-5 9 6 1-5 31 0-3 12-47-5-4 9-18-9-4 4-4 0-5 3-7 3-1-8-6-1-7 5-1-3-1-3-1 8-4-1-3 0-2-2-5-1-5-5 0 5-1 2-2 4-2-2-1 0-16-4-22-1 11 18 4 0 1-6 8 1 4 2 1-5 3 4 7-5 4 3 2-1 7 4 2 0 0-6 6 0 6 8 3-4 8 1 17 2 0-5 4-2 5 2 1 3 4 5 68 1-2 8-10-4-19 5-26-1-11-3-1-5-2 1-5 5 0 3-8 2-7-6-7-4-4 6-2-2-1 6-2-10-2 1-3 6-6-4-7-2-2 7 0-1-1-4-14 4-2 0-14-8-8 1-3 9-3-5 0-5-3 9 0 10 14 3 0-9 3 8 1-5 0 0 4 0 6-1 2 2 5-4 1 10 5-6 10-5 3 4 0 3 2-6 11 5 7 3 0 1 11-7 8 7 3-5 5 0 4-1 5 2 7 4 2-9 13 9 2-8 14 7 3-7 16 3-32 12-7-1-11 6-5-10 0 9-5-1-2 2-2-6-19 2-18 1-4 3-1-5-3-5-5 2-19-1-6 10-2-9-3 8-6-3-1 0-2-3-4-3 19 11 1 2 14 8 2-5 2-2 4 5 2-6 5 1 1-1 4 2 6 7 2-8 3 7 1-6 0 1 1-5 1 2 14 5 8-7 3 7 4-5 74 2-84 13-2-3-17-1-5 3-3-4-6 9-25-9" transform="scale(.333333)" fill="none" marker-start="url(#m18)" marker-mid="url(#m18)" marker-end="url(#m18)"/>
<path d="M916 70l-19 8 8-2 11 6 4-5 15 0 4 6 3-7 7 14-10-3-3 0-7 4-9-1-10-5-5 1-12-1-39 22 42-1 1-7 8 1 10 0 16 2 3 3 4-4-12 13-4 1-1 4-12-8-3-1-38 6-48 13 14-7 87 1 12-3-51 35 9-6 42 18 0-11-7 7-27 3-2-2-25 0-105 11 12-5 55 3 8 3 91-1 0-4 4 5 0-3 1 5 6-4 10 0-33 10-4-4-18 6-22-4-66 8-17-8-7 2-15 4 13 9 76 5 2-3 3 1 10-7 0 5 16 4 45-10 0 2-43 17 0-2-15 3-15-3-3-4-16 2-9-2-16 1-40 20 44-7 35 0 5-3 9 5 1 0 10 4 18 0 30-1 4-3-4 10 0 5-95-4-8 5-3-2-8 2-1-2-4-6-19 0-25 10 8 4 156 8 0-3-109 9-72 15 45-5 53 6 25-8 4 6 18 1 21-3 0 1 7 1 3 1-66 12-4-3-3 0-4-3-38 0-70 18 24 0 38 0 0 2 34-7 6-2 75 8 2-6 24 16-9-4-28 6-34-3-23 3-17-3-10 4-25 1-33-11-4 1-36 9 8 11 38 2 15-8 25-1 4 0 24 0 25-1 32 9-19 3-36 8-5-4-45-4-24 8-6-4-6 5-11-6-1 6-11-10-18 6 4 15 21-4 2 0 4-2 7 0 29-1 7 0 20 8 8-3 9-5 6 3 40-3 3 3 3 1 3 1 12-5 9 5 1-5 12 9 2-8-7 17-7-6-53 0-10 9-8-9-2-1-42 10-1-3-12 1-4 1-5-5-3 2-11 3-21-8-10-1-1 9 0-3-7 0-2-2-5 0-5 2 24 16 6-3 11-4 9-1 1 4 1-6 28 4 5 4 6-1 7 1 1 2 15-8 83 0-29 17-14-2-24 2-11-1-22 3-11-8-22 4-6 3-32-8-10 2-1 8-9-7-8 6 17 13 5-7 20 5 10-5 5 1 0-1 8-3 6 6 6-1 7-1 4-2 3-1 8 2 1-3 3 3 5-4 12 9 59 4-20 10-8-8-9 5-26-2-10-6-14 1-9 5-6-2-3 1-8-1-11-1-1 7-7 0-24-8-1 6-2-3-5 4-10-6-1-3 3 17 4 6 0-8 4 0 6 5 8-7 1 9 1-5 0 6 3-2 3-7 7 6 5 3 10-6 6 5 2 0 7-1 1 2 3-4 1 4 30-10 4 6 7 1 5-6 23 3 7 3 5 2 32 7-19 3-19-5-14 3-60 2-2-8-3 3-6 5-15 3-9-1-1-6-10 6-1-9-1 9-2-7-7 5 4 9 12 3 2-3 24 1 2 0 30 5 35-9 10 5 7 3 8-1 24-5 6 2 3 1-99 5-15 0-15 6" transform="scale(.333333)" fill="none" marker-start="url(#m19)" marker-mid="url(#m19)" marker-end="url(#m19)"/>
<path d="M689 105l33 0 128 0-37 13 37 6-21 9-4 4-119 15 3-4 75 6 25-4 25-6 95 7-4 15-5-2-14-8-13 5-13 6-45-11-27 8-10-4-10-3-15 6-11 13 28-7 18 6 4 1 12 1 56-8 19 6 5 0 7 1 11-3 7 3 1-2-17 7-1 5-35-6-10 2-13 6-9-3-12 6-8-1-36-10-55 23 87-1 4-7 5-2 9 8 9-7 23 4 30-5 12-1 5 5 1-3 17 3 16-3-28 20-44 1-20 0-11-3-11 2 0-8-8 6-11-6-14 5-47-1 36 15 15 0 0-9 2 6 26 3 6-2 13-4 0-2 1 6 9-5 2 0 66-2-72 21-2-9-4 1-17 2-38-2-15 4-23 11 0-4 69 10 19-9 4 3 51 6 16-1 5 0 14 6-52 6-19-6-10 4-21 2-19-7-34 2-38 4-36 13 18-4 25 1 79 0 8 0 52-2 24-3 1 0 7 0-8 22-5-7-1-1-8 6-4 1-7-3-22-3-88-1-36 9 14 6 1-6 4 2 2 4 2 1 46 2 88 1 3 1 6-3 10 8-2-3-3 2-9 4-2-7-23 6-42-4-1-1-39 6-18-1-13-1-3-5-1 8-2-2-29-3 18 15 51-6 7 0 22 8 4 2 17 1 4-4 3-7 29 7 4-2 9-4 1 7 19 2 0-10 16 5 0 17-14-1-5-9-16 0-10 4-2 0-14-2 0 4-7-4-4 6-23-8-102 6 11 12 17-1 2-5 2 1 0 5 16-5 19 4 23 1 2 5 13-5 2-6 5 10 1 0 2-5 35-3 11 8 1 0 6-4 1 4 2-5 21-5-12 16-57-1-5 6-6-3-5 4-10-6-18 1-31-1-8 4-6-2-10-6 42 16 13 7 12-11 26 9 9-4 9 6 10 4-16 4-12 0-75-5-8 2-61 17 97-9 49 10 28 0-10 13-28-10-4 1-60 6-84-6 16 12 4 9 25-3 133-5-9 18-37-7-43 1 15 13" transform="scale(.333333)" fill="none" marker-start="url(#m20)" marker-mid="url(#m20)" marker-end="url(#m20)"/>
<path d="M687 104l12-8 21 9 129-9 2 9 3-5 5 19-2-5-1-1-46-1-83 0-22-4 81 18 7 0 17 5 36-7 3 4 3-1 6 2 0-1 13-4-4 9-17 10-3-5-1 4-1-1-5-9-14 1-3 1-13 9-4-2-2-3-6 3-33 1-36-4-26-2-3 13 7 6 2-3 9 0 6-4 77-2 5 7 9-6 3 8 10-4 10 2 9-1 2-4 19-3 2 5 14-2 1 7 29 0 6-10 25 22 0 0-29-3-3-2 0 4-14-9-4 0-1 6-5-1-10-5-9 5-7-5-6 9-19-10-8 4-4 5-1-6-2 7-12 1-3-3-3-1-13 3-20 0-23-5-1-1-32 4-3 2-11-7 30 10 19 9 16-9 16 5 6 2 10 2 8 0 1-9 2 5 4-1 1 5 3-6 7 4 0-3 2-3 0 0 1 5 5-5 11-1 17 4 1 0 0 1 1-3 9-2 13-1 4 6 10 3 1 2 3-11 12 0 8 0 0 2 7 5 22 16-6-10-3 2-2 8-10-1-8-1-6 2-10-10-9-1-14 3-2 2-3 4-1 1-15-5-6 4-4-2-7 1-6-5-11 7-4-3-4 3-1-6-4-4-1 3-4 0-12 8-11-8-24 8-11 4 3-2 15 6 13-5 33 0 4-1 10 0 2 0 14 8 3-6 3-1 8 2 3 4 25-8 5 6 11 5 21-8 2-3 6 10 7 0 13-3-18 6-10 9-11-4-5-2-3 0-4 7 0-11-4 0-2 10-3-8-1 3-12 6-35-11-10 6-20-4-7 9-25-5-2-5-1 9-3-5-8-1-1-2-8 7 1 9 3-1 8-4 16 2 5 6 4 2 67-2 3-7 3 4 7 0 8-4 5 0 2 7 2-1 15 3 3-7 2-2 0 7 28-7 4 1 4 0 2 4-10 14-2-6 0 7-4-8-3 5-2-1-2-2-1 1 0 2 0-4-3 2-7 6-1 0-4-7-3-2-1 4-1 0-6-6-2 0-13 0 0 5-1 4-9 0-1-9-2 7-1-4-1 4-13-2-52-2-9 3-1-1 0-2-4 5-9 1-3-5-14 3-24-2 15 11 6-2 4 3 8 0 4-4 8 10 4-4 1-7 1 1 1 8 7-8 1 9 6-2 3-7 51 1 3 8 1-4 6-4 13 1 9-1 2 1 2-1 8 2 1 2 2-2 1-2 0 9 5 0 0-1 0-4 3-5 2-1 0 11 4-2 10-7 4 6 3-5 2 3 1-6 11 0 5 11-6 7-8 4-6-7-2 8-5-6-25-3-5 9-3-11-6 1-43 2 0 6-15-3-1-4-6 8-5 0-13 1-3-7-6-4-1 11-5-3-2-3 0 5-1-9-1 4-9-2-5-1-29-1-14 20 12-1 13-1 13-6 19 2 3 2 0 2 3-3 1-2 4 8 4-3 2-7 3 10 1-2 4-6 5 1 1 5 1 2 1-1 1-2 1-6 20 6 7 2 1-1 24-2 4 3 4-7 7-2 11 9 42-8 11 6 2-4-3 20-2-1-10 1-8-2-8 1-15 0-11 1-17-11-8 11 0-1-4-6-7 5-5-9-9 9-1-4 0 4-1-7 0 5-1-3-14 7-2-9-13 6-1-1 0-4-5 0-31 5-1-5-3 6-19-1-9 1-20 0 33 8 7 3 12-4 4-4 16 9 1-5 7-2 8 7 6 1 11 1 20-2 10-7 1 2 11 0 0 6 2 0 2 1 5-6 1-5 4 0 5 7 1-7 10 10 9 1 11-5 3 5 15-7 2-4 10 14-13-1-1 10-2-10-12-1-2 2-6 8-7-7-5 3-11 4-5-2-2-3-1-5-8 1-10 1-4 4-25-3-7-1-3 1-16 3-24 3-3 1-7-5-4-2-9-1-1 6-2 2-2-3-15 4-6-8-6-3 20 13 5 1 1 5 9 4 1-7 3 7 4-1 7 1 1-4 34 2 43-5 6-1 25 2 17-3 6-2 0 3 2 5 0-2 9-2 1 3-5 14-1-3-15-3-15 3-2 4-2-10 0 10-31-7-4-1-13-2-9 6-3-5-20 5-18 5-13-11-4 1-30-1-35 16 34 0 36 4 19-1 14-3 2-4 1 1 0 5 49 3 6 2 8-8 11-2 22 12-6 4-15-4-7 3-5 7-5-11-13 10-1-6-17 5-26-3-9-2-25 7-48-6-19 2 23 12 54 0 6 4 10-5 6 4 3 1 6-11 6 8 5 0 16-8 6 5 7-3 0 5 8-3 24-4 2 5-48 16-4-7 0 7-6-7-4-2-8 10-2-6-10-1-101 2-10 4-5 9 13 2 10-2 111 4 4-9 1 2 23-3 14 4 13-1-25 10-123 19 9-2 34 1 47 1 26-8 7 2 15 4 1 4 3-6-5 8-57 2-63 6 69 8 17-1 3-3" transform="scale(.333333)" fill="none" marker-start="url(#m21)" marker-mid="url(#m21)" marker-end="url(#m21)"/>
<path d="M846 99l20 100 75 57-119 10 43 146 10 24" transform="scale(.333333)" fill="none" marker-start="url(#m15)" marker-mid="url(#m15)" marker-end="url(#m15)"/>
<path d="M777 79l17 8 0 6-4-2-14 0-63 12 16-1 43-6 24 7 31-2 20 0-11 11-9 6-6-7-1 6-12 1-1-4-16-5-21 7-36-6-1 4-40 2-1-1 35 5 37 2 31 8 18-5 1-3 36 1 12 5 60 14-68-6-20-3-2-1-5 11-29-9-97 3 22 12 1 5 8-5 6 0 2 6 17-6 7 1 4 2 32-1 2-4 4 0 123 7 11 12-30-1-117-9-4 1-9 7-1-4-14 4-19-6-37 2 13 16 0 2 9 1 4-3 6 0 35-3 16 3 4 3 62-9 2 0 22 5 45-2 26 14-87 0-23-5-26 1 0-3-6 6-4 1-50 2-2-1-8 1-1-1-13-3-11 4-2-2-1 4-6 4 6 6 3 0 3-1 5 3 3-1 1-9 5 2 1-2 1 6 7-4 5 1 1-1 3 5 5-6 13 2 6-4 4 9 3-9 3 6 15-6 11 2 84 6 34-5 3-3-10 16-23 1-2-4-58-1-9 6-10-6-21 7-1-2-19 2-1-2-2-4-4 0-17 10-4-6 0-2-1-2-4 1-1 3-3 1-9-2-2 0-1-3-1-1-10 3-1 5-10-3-8-1-3 0 5 9 4 10 1-5 1-5 5 6 1-6 15 1 1 8 3-7 4 3 0 1 5 3 7-6 5 0 21 5 6-1 38 3 6-5 34-2 6 4 11-3 14-2 31-1 17 2-62 16-5-3-63 3-35-3-13 4-6 2-4-7-2-4-4 4-1-1 0 2-3-4-2-1-1 1-10-1-11 3-3 8-4 1 1 5 2-2 1 2 2-2 5 0 5-2 5 7 5-2 11 1 4-7 10 6 0-2 6 1 18 3 30 1 1 2 60 0 16-9 22 2 35 14-4-1-2-2-175 6-19-2-30-3 13 11 63-2 20 5 56 4 8-2 42-1 1 2 6-4 25 6-20 9-13-4-18-4-6 0-34 7-13-7-18 4-20 4-44-6-14 0-8 4-11-2-8 7 13 11 3-7 9-3 0 4 4 7 16-8 5 2 8 6 33 0 17-1 3-2 3-4 7 4 15 3 8-10 15 6 14 0 48 1-6 12-20-1-47 4-3-7-18-2-5 6-38-8-14 7-2 3-22-4-6 3 39 9 5-6 5 8 4-3 2-2 10-1 5-2 1 2 2 5 7 1 17-4 14-4 37 11 2-2 18-9-13 13-2 9-2-1-7 2-2-2-17-9-29 3-11-3-1 3-32 1-5 2-7-1-5 3-4-4-18 4-4 2-9-5-1 14 51 2 5-5 86 3 16-6-15 18-32-7-20 8-3-5-137 5 50 10 25-1 60 0 4 5 19-9 6 6 5 16-33-7-15 0-12-3-65 0-14 2-13 5 67 9 34-3 8 2 7-1 7 5 37 2 3-10-54 21-7-5-1-3-115 6-9 1 131 8 1 3 11-3 3-1 11 4 9-3 3 5-2 11-15-4-11-3-21 0-20 14 18 1 10-4 2 4" transform="scale(.333333)" fill="none" marker-start="url(#m16)" marker-mid="url(#m16)" marker-end="url(#m16)"/>
<path d="M785 79l6-1 46 16-4 1 0-4-6 3-1-1-3-3-111 2-7 3-6 11 8-7 11 8 3-4 8 1 1 3 4-4 38-4 59 4 5-3 1 0 9 15-9 3-4-5-7 5-8-9-3 8-40-3-3 5-1-1-2-2-3-5-2 4-6-5-11 3-6 5-2-1-6-5-20 2-1-2 0-1-2-2-6 1-4 8-1-4 2 8 7 7 12 2 8-7 2-3 6 3 9 7 13-6 5-3 65 6 4-4 3-1 1 2 20 0-21 13-23-2-10 1-11 2-26 0-6-2-28-2-7 1 0-4-5 2-2 3-4-2-19 2 1 8 18 10 9-8 1 5 0-6 15 4 4-2 1 7 2-2 7-3 0 0 3 4 3-3 34-4 36 1 75 0 27 17-138 0-26-7-14 6-19-4-16-3-5 0-3-1 74 14 6-2 67 5 55-5 43 6-41 10-18 7-175 7 60 5 103 0 8-2 61 8-42-1-179 6-9-8-10 20 35 0 33-6 88 1 61 2 19 8-127 5-4-7-87 22 18-3 3-5 16 5 147-7-3 16-44 4-13-1-66 3-13-1-15-3-8-7 0 1-4 0-10 8-1 1-1-2-14-7-1 9-7-1 1 4 6 7 2-6 2 0 12-1 4 6 1-2 7 6 0-8 0 2 16-4 1 1 4 9 21 0 44-4 22-7 0 11 80-1-6 2-53 6-15-3-6 2-1 3-2-7-35 8-24-7-12 5-31-1-12-4-9 6-9-3 147 14 8 1 43 9-4 4-10-1-27 2-100 1-27-8 116 18 63-2-5 7-34 2-17 2-9-6-1 6-20-4 53 11-55 16-27 3-34-3-18 8 126 10-3 10-11-8-4 9 0-10-10 10-1 1-30-2 72 23-7 0-48 1-70 2-28 11 83-8 22 1 21 6-5 9-7 0-16 0-10 0-2 1-123 8 86-3 52 10 16 2" transform="scale(.333333)" fill="none" marker-start="url(#m17)" marker-mid="url(#m17)" marker-end="url(#m17)"/>
<path d="M937 69l-20-4-5 5-16-3-2 10 5-1 1-1 7 6 0 2 1-4 2-7 1 11 4-3 3-1 2-7 4 3 4-2 0-1 6 6 3 3 4-5 8 7 1 1-1 6-4 5-1-8-5 6-8-4 0 3-6 0-2 1-2-9 0 1-1 4-11 2-3 3-6-7 0-1-3 4-2 5-6 0-1-6-1 6-99-6 96 9 1 9 8-6 0-5 4 6 0-6 2 0 1 8 3-3 1-2 4 8 1-1 3-6 3 0 0 3 3-6 0 1 10 5 9-7 0 1 6 4 1 5 4-8 0 8 4-3-18 5-4 4-16 7-11-7-72 2-35-4-32 21 142-7 1 0 20-3 5 1-36 17-202 3 65 6 141 7 27-3-9 5-6-1-7 5-6-3-18 3-9 2-140-7 144 23 6-7 12 1 19-1-107 10-48 7-7 2 89 1 2 0 9 4 34 17-58 1-16-8-13-2-12 5-10 4-7-2-3 2-4-5-4 6-9 0 14 11 1 0 10-9 3 5 9 2 7-4 3 2 2-3 19 7 117-8-59 18-59 4-5-8 0-1-49 2-34 5-10 0 63 13 55-7 95 1 11 6-38 7-33 3-4-8-18 5-4 1-9 0-5 5-3-10-48 2-24 5 3 8 5 3 13 4 8-10 108 3 24 19-70-11-5 1-1 0-50 10-17-1-22 11 67-5 15 0 5 4 88-1 24-5 6 6-21 8-7 1-67-3-28 5-69-2-22 1-10-3-16 14 5-2 15 8 8-8 47 2 35 6 1-6 55 3 8 15-130-11-2 5-2-3-2 0-3 5-3-5-5 3 0 5-3-2 0-6-2 2-1 1-3-2-8-2-3 5-4-3-6 18 5 1 5-2 0-5 1-2 1 3 0-2 1 8 1-9 2 7 1 3 5-8 3 1 0 3 4 2 4-9 3 2 2-1 0-1 2 2 1 7 5-6 1-2 9-1 28 4 34 0 7-4 26 11 43-2 11 0-100 7 0 7-13-2-15-6-3 0-8-2-4 2-2 1-4 2-1-6-1 7-1-5-1-1 0 7-2-6-5 4-4-6-3 1-2-1-5 6-5 1 0-7-5 1-7-1-3 2-6 6-15 8 3 6 4-8 4 2 2-3 4 1 1 3 0 0 2-5 3 9 1 2 3-2 2-7 1 7 2-5 3 5 0-8 4 0 6 4 2-5 4 8 9-6 4-2 0 7 1-2 2-2 1-1 0 3 7 2 0 4 18-6 2 3 3 0 3 0 31 1 1-9 35 20-9-5-62 4-3-1-7 0-1-4-1 8-6-4-1-1-4 6-2-7 0 2-1 2-1-6-2 3-2-3-10-1-13 8 0 2-10-6-1 6-4 0-6-5-5-1-10 0-2-1-2 1-7 3 3 15 17-5 4-6 3 9 2-4 6-3 4 0 1 6 4-2 1 1 5-7 2 1 6-1 3 6 6-2 5 5 4-8 9 2 5 2 4-3 8 1 0 1 5 7 4-9 50 2 5 3 28-4 4 7 2 6-44-4-9 9-31-8-1-1 0 1-2-1-1 1-7 5-8-4-4 3-1-3-1 9-4-10-2 9 0-4-2-1-5 5-2-2 0 0-4-4-2 1-1-5-2 1-2 6-3-6-3 10-1-7-3-2-3-1-1 5-2-2-7 0-11-1 0-2-3 5-1 0-14-2-4 16 2-5 11 5 2 2 14-2 1-6 12 0 2 3 6 4 3-9 0 10 1 0 6-8 2 1 7 3 1 5 4-1 8-10 1 4 2-4 4 1 12 6 0-6 1-1 2 10 3-4 60 10-46-1-19-3-2 0-5 9-1-9-6 2-11-2-1 7-13 1-6 1-7-8 0 1-3 7-1-5-1 0-3 0-2 4-1 0-6-4-6-4-3 4-5 0-2-1-2 8-4-6-5-5-3 10 23 9 9-6 24 4 7-1 2 0 4 1 6 2 9-3 7-4 1 2 7-2 1 9 6-8 54 9-20 4-69 1-5-3-1 9-4-1-8-8-5 7-4-3-3-3-21-1" transform="scale(.333333)" fill="none" marker-start="url(#m18)" marker-mid="url(#m18)" marker-end="url(#m18)"/>
<path d="M927 66l-34 13 8-4 4-2 17 3 6 1 5 5 11-1 5 7-8 1-2 4-2-2-2-7 0 1-2 3-6 2-1-5-11 6-8 2-1-4-2 1 0 2-4-1-3 2-1 0-1 2-32 2 21 4 7-2 4 8 2-10 5 0 7 5 7 0 11 2 2-4 1-1 9-1 13 10-8 0-6 0-21 3-2-3 0 2-11 1-12 1-49 19 75-6 19-5-33 34-38 4-46 0-6 6-11-5-9-3-27 7-3 7 19 6 5-3 7 5 16-8 58-2 10 11 17-7 24 7 15-5 7 0 12 9-4-1-1 0-9 6-1-2 0 0-1 3-1-9-22 1-29 7-9-8-10 10-3 0-23-7-55-2-12-1 9 18 29 2 24-4 18 1 10-5 6 7 5-6 3 5 9-1 15 5 11-10 17 6 1-5 15 2 13-2-35 16-68 0-5-2-8-2-6 3-15 3 0 0-16-3 22 16 2-7 27 4 11-1 0 0 3 3 4 0 62 2 3-4-93 8-28 4-10-4-40 6-14 7 65-1 34 8 72-6 25 17-2-1-2 2-6-2-41 2-4-4-4-1-1 3-20-4-103 6-31 12 20-2 82-6 11 5 55-1 7-4 1 2 2 19-56-6-2-4-45 11-64-3-4 1 53 7 12 1 45 1 9 2 55-6 10 3 29 1-23 8-7 2-28-1-33 2-34 2-10-1-29-4-16 5-20-6-39 18 6 4 5 0 4-7 0 5 32 1 18-10 28 3 23 6 46-9 33 9 3-3 15-6 8 9 6-9-23 17-46-5-27 4-3 6-83-9-1 3 0-3-8 6-38-3 2 19 3-9 2 0 6-2 7 4 13 7 5-7 0 3 8-2 12-3 14 3 23 6 3-1 9-8 1 1 8 7 1 0 5-5 66-5 7 2 9 15-57-3-32 7 0-6-49-1-16 3-9 2-13-7-2 8-2 3-3-10-4 10-31-4 11 7 3 5 7 3 5-3 1 4 0-2 6-8 2-1 5 1 8 3 11 7 1-4 3 0 8-7 9 4 80 0 30 9-22 5-62 0-2 4-11-1 0-3-3 5-18-7-4 1-12 0-24 6-3-10-5 4-2-4-2 9-1-3-15-2 4 10 8 1 9 2 5-2 0-4 7 3 2 0 8 2 4-1 0-1 46 4 91 10-18 0-6-1-2 0-11 5 0-8-38 8-17-9-4 10-14-6-4 6-4-7-2 4-10 4-16-11-29 3-4 2 1 13 44 1 2-7 14 10 10-1 3-5 22 3 36 3 54 3-21 7-29 2-6-5-10 3-35-8-5 4-6-4-23 9-4-8-19 8-4 1-5-3-2-1-17 1 47 12 1-3 9 7 22-9 0 9 14-1 11-7 38-2 7 4 2-5 4 14-3 2-61-1-21-1-2 2" transform="scale(.333333)" fill="none" marker-start="url(#m19)" marker-mid="url(#m19)" marker-end="url(#m19)"/>
<path d="M772 99l-60 17-19 8 5 5 11 8-11 14 8 4 80 0 1-1 24-5 99 4 3 0 3 0 14-2-12 14-27-5-79 1-3-1-6 5-2-7-14 5-8 1-51 6 70 8 4-8 12 6 34 0 38 0 7 1 13 1 14-2 15 15-20-2-15-9-9 10-52 0-16 1-56-3-18 0-26-8 42 17 39-1 4 4 6-6 5 5 6-1 0 1 17 3 48-4 11 2 55 7-46 5-42-7-8 3-13 2-14 4-10-2-10-7-11-1-70 14 5 5 24-5 93 8 1-4 1-1 5 6 1-1 1-7 3 0 2-3 10 5 12 4 2-5 43 8-43 2-29 3-7-4-1 4-3 0-81 4-6-9-8 6-2 0-28 14 34-7 84 8 103-7-16 13-9 6-4 2-42-3-35 2 13 4 40 3 4 2 20-3 1-2 4 5 2-7 1 12-9 4-42 6-41-9-64 5-1 4-36-8 12 11 24 6 8 1 56-3 3-3 107 6-2 7 0 4-23-5-19 0-22-1-7 1-32 6-24-4-26 7-11-4-5 4-9-2-12 2 26 6 57 0 9-1 14 4 17-3 28 4 3 1 35 12-4-5-21 6-18-9-2 1-5 3-3 2-31-6-12 9-36 0-15-3-19-8-20 10-1-5 18 15 18-2 2 2 49-6 2 3 6 2 62-4-30 14-22 2-4 3-9-8-103 6-22-7 55 22 38-5 3 1 10-1 7-6 25 1 41 21-39-8-3-2-38 10-31-10-78 3 60 9 3 5 7 4 67-8 30 0 5 4 7 11-104 12 54-1 2 2 5 6-112 11 106 10" transform="scale(.333333)" fill="none" marker-start="url(#m20)" marker-mid="url(#m20)" marker-end="url(#m20)"/>
<path d="M839 104l8 1 16 8-4-2-3 5-5 2-29-9-19 8-60-4-18 18 67-7 2-4 7 1 27 7 24-5 5 3 1-5 6 7 4 0 2-7 2 1-4 21-11-10-1 3-1-2-1 9-4-4-30-5-1 4-1 0-92 4-3-4-6-2-5 3-2-5 1 12 4 1 8 0 9 5 45-5 9 7 7-3 4-2 9 3 2 2 10-2 3-2 12-2 2 7 1-3 1-1 10-1 3-4 1 0 1 0 12 1 1 8 2-5 3 4 0-8 8 1 10 7 2-8 10 3 18 4 1 2 7-4 1 14-4 0 0-1-8 3-2-8-5 3-4 0-4 2-16 1-7-4-5-1-11 3-15-4 0 8-2-5-4 5-4-5-9 1-28-3-5 1-12-1-69 2-5 5-6-10 45 11 44 9 22 0 4-7 12 8 1-3 2-3 0 1 3 1 1-3 1 8 1-7 0 1 1-1 11-1 9 8 0-7 2 4 1 3 4-1 27-2 4-2 60 14-6-2-27 1-14 1-2 3 0-8-3 0-7 3-29 0-1-6-5 0-5 10-3-4 0-1-4 6-5-2-8-1-1 2-10-2 0 3-4-2-1 2-7-1-1 0-48-2-1 6 0 0 2 9 59-10 8 0 29 3 6 2 4 1 16-7 15 7 2-6 22 4 6-5 12 3 2-2 3-1 9 1-7 12-9 10-4-5 0-4-2 2 0 1-31 6-10-7-10 5 0-5-7 0-5 3-4-5-3 2-10 7-7-5-38-4-22 5-4-5-1 9-7-5-11 5 0-10-18-1-23 2 40 14 6 1 11 1 98 1 1-1 3-6 6 9 7-5 10 2 4-3 3 3 0 0 2-4 2 5 2-1 0 1 6 4 1-3 1 0 5 3 7-5 6-5 8 4-15 11-8-3 0 2-4 1-2 1-2-2-6 5-1-3-1-3-3-1-8 7-4-6-3-1-3 5-2 0-1 2-49 1-2 1-7-7-2 2-21 1-2 5-6-3-6-8-5 3-1-2 0 9-14-9-1 5-6 5-2-3-9 8 5 1 5-3 3 9 3 0 2-3 3 1 7 1 4-8 4-1 0 3 4 5 53-4 4-4 0 0 14 1 4 7 6 2 8-5 0 5 1-11 5 8 0-3 2-5 1 3 1 1 4-2 5 0 6-1 3 8 7 1 20-9 0 5 7-3 2 7 0-8 3 3 10 14-20 3-8-7-11 0-6 8-4-5-4 0-10 1-5-5-4 9-3-10-4 9-1-4-1-4-3 0 0-1 0 4 0-5-3 11-4 0-4-11-4 11-7-5 0-2-9 6-7-5-1-5-5 9-2 2 0-1-1-8-3 3-3-1-11 4-1 3 0-8-5 2-2 3-5-4 0 7-5-8-4-1-2 5-2-7 0 3-8 3 0-1 0 0-3 3-26 2-6 12 3-4 10-6 9 2 7 7 38-1 3 0 6-3 3-4 1-1 2 11 1-7 0 3 2-3 27 7 1 0 1-10 12 4 0 3 2-2 8 4 3 0 2-1 3-5 6 4 1-2 6-3 36 2 4-2 3-1 4 4 1-1 1 0 6 16-12-4-4 0-36 4-4-9-7 1-8 4-3-5-12 8 0-3-18 6-2-6-2 4-9-2 0-7-2 1-3 4-4 5-5-8-18 6-39-8-5 2-1 7-6-4-3 5-1-2-8 0-6-2-1 5-2 12 3-10 3 10 12-8 2 4 14 1 18-6 14 6 0 2 12 0 21-3 35-1 23-2 13 6 0 0 10-6 3 2 7 5 2-5 3-3 5 0 11 1 9 4-13 10-5 2-20-2-3-2-1 6-21-1-13-6-9 0-6 2-4 3-9-2-18-4-26 1-14 7-17-4-10-2-11-4-6 9-8 1-13-3 19 8 7 5 8 0 10-4 14 7 20-11 9 1 5 6 4 3 1-3 3-4 21 7 24-7 0 0 1-2 11 1 5-1 18 3 13 2 2 0 2 0 1 3 0-5 9 4 1-5 0 2-8 7-4 4-4 3-17 0-30 4-17 0-15-6-2-1-14 3-9-1-24-3-10 2-24 5-3-5-48 0-3 11 67 0 15 3 11-4 2 8 52-5 12 0 1 5 3-4 2 1 0 2 7-3 1 2 5-8 17 2 6-3-11 23-4-4-9-3-2 7-2-3-6-1-1 1-2-5-1 6-6-4-5 6-47-3-9 0 0-3-9-3-13 3-74-2 2 18 62-7 37 4 20-2 8 0 4 2 11 3 0 0 4-5 1 5 1-6 1 1 3 5 0-1 12-2 0-4 7-2 16 1-19 15-2 1-9-3-4 4-3-6-14 6-8-1-29-5-99 9 20 14 2-2 121-4 6-1 21 13-6 2-33-4-1 7-3-1-9-3-122 14 0-3 58 4 75-5 5 0 5-4 8 6 18 1 0-2 19-3 1 6 2 1 7-9-46 13-7 10-4-9-25 7-8 1 58 3-121 18" transform="scale(.333333)" fill="none" marker-start="url(#m21)" marker-mid="url(#m21)" marker-end="url(#m21)"/>
<path d="M850 127l7 13 89 114-189 36 120 24-6 92-9-3" transform="scale(.333333)" fill="none" marker-start="url(#m15)" marker-mid="url(#m15)" marker-end="url(#m15)"/>
<path d="M779 82l58 12-49-10-8 11-3-11 0 4-14 1-49 12 53-4 6 0 21 9 30 1 14-2 10 12-10-2-23 2 0-9-11 11-21-3-1-1-43 4-11-1-21-1-4-9 7 14 10 7 77-5 19 6 13-10 3 8 8-7-35 18-101 5 3 4 57 7 29-9 41 4 35-1 42 11-2 0-56-4-35 10-56-8-23 7-17 9 3 4 28 0 8-3 7 4 1-5 25-1 2 0 2 1 42-4 37-2 27 0 46 23-66 0-3-8-33-2-8 2-1 2-19 6-2-1-14-9-7-1-10 11-29-10-1 1-1 3-11 2-1 3-22-1 0 2-7-11-6 11-1 3 7-1 5 10 0-6 0-3 6 9 8-5 6 2 14 0 20-1 27-6 4 10 4-9 39 2 11 7 23-5 3-2 9 3 14-6 4 5 32 0 5 4 11-7-36 18-6-5-8-4-1 7-16 3 0-5-22 1-6-2-5 3-3-4-24-2-3 6-31-7-3 7-2 2-7-1-1 3-10-6-13 4-2 2-4-5-2 5 0-6-1 0 0 3-3-5-11 4-1 4-7-5-2-6-5 4 0 3 0 0-2-1 0-3-6 2-3 2 2 16 0-7 11-3 9 0 1 9 0-10 0 4 2-1 1 0 3 3 1-1 4 0 8-3 22-2 19 8 7-3 29 0 33 4 20-1 5-4 14 1 20-5 19 23-32-3-18-6-49 5-18-2-7 5-29-5-39 0-3-4-2 6-4-1-1 0-7 5-2 0-3-8-3 8-6-8-6 2-5-1-1-3-3 2 12 16 6-1 1-1 4 0 7 3 5 1 0-5 4-2 5 0 7 0 2 0 4 4 5 2 48 0 28 3 4-11 29 4 80-2 2 17-8-5-40 3-3-2-26-1-21 9-64-4-10 0-7-6-10 9-9-4-7-2-13 0-1 3-14-2 1 10 3-1 48-1 10 8 1-4 1-3 1 7 1-4 0-3 2 2 20-3 6 9 28-4 86-6 5 0-32 12-23 5-15 5-9-9-14 1-54-1-2 5-14 0-33 5-9-6 1 8 42 0 15 6 28-1 11 5 48-6 8-5 8 10 37-2 19 9-7-1-4 2-52 5-9 0-9-10-13 3-3 6-6 1-11-11-7 11-4-1-22 1-27-10-2 1-3 3-17-5-4 6-9 6 23 4 11-3 26 10 6-6 3 4 6-1 4-8 8 5 7 0 1-5 4 9 20-8 3 5 22 4 9-2 8-7 8 8 38-1-33 10-20 5-5-2-26-6-7 8-43-3-4-4-4-4-2 7-4 0-5-7-2 2-22 11 12 8 0-1 7 2 67-6 2 0 2 7 4-1 26-8 0 6 8 1 8-9 3 11-2 3-4 7-3-1-33-1-82 2-8-9 80 22 11-5 18 13-9-5-25 3-21-1-38 7-21-5-31 0 110 15 3-7 9 7 0-8 14 3 14-2-1 16-1 6-6-5-18 3-9-5-17 1-37 4-21-1-74 10 72 5 21 0 5-6 46 3 6-3 10-1 5 2 4 1-2 5-37 4-51 2-44 8 3 1 8 4 10 3 114-6" transform="scale(.333333)" fill="none" marker-start="url(#m16)" marker-mid="url(#m16)" marker-end="url(#m16)"/>
<path d="M828 90l-30 1-1-7-11 7-11-5-11 9-52 4 8 7 1-8 51 9 1 0 8-6 37 2 2-3 35 19-29-8-11 7-40-8-11 8-2-6-2-4-20 11-8-3-3-2-8-1-10 6-7-10 0 9-8 1-13-5 0 7 5 4 2 4 1-4 6-5 4 8 6 0 2 1 1 1 8 0 6-10 2 5 8 6 0-3 4-7 25 7 6-1 66 3-11 6-23 6-2-5-8 0-5 5-17-4-14 3-13 0-4-1-8-8-11 2-8-1-2-1-2 10-2 1-2-6-5 5-2-5-5 3 20 13 9-2 15 0 33-4 21 6 14-8 25 4 79 16-41-7-72 7-33-9-2 1-3 3-8-1 0-3-6 1-46 1 161 13 37 18-71 2-86 0 7 11 7-1 8-7 50 6 141 11-100 2-16 1-80-7-44 19 16-4 6-1 15 3 51-1 146-7-18 12-31 8-155-4-18 19 6 0 21-2 9 1 147 1 15-1 1-5 18 15-82-2-1 4-43 1-32-6-21 3-1-4-6-1-15 8-7-3-1 0-11 0-1-6 5 16 3-6 1 7 1-2 7 5 4 0 9-8 175 16-52-6-23 2-44 7-48-7-8 1-5-3-4 7-5 2-5-1-7-6 87 19 56-8 27 4 42 3 10-6-4 12-42 3-24-4-101 7-2 8 33 7 5-10 52 21-28-8-42 1-14 7 73 13 23-6-130 10-31 3 132 17 5-7 32 3-3 13-13-6-72 12 53 9 23-2-149 17 113 7 21-5 4 7 1-3 10-8-3 21 0-8-6 5-2 3 0-4-52 0-31 7" transform="scale(.333333)" fill="none" marker-start="url(#m17)" marker-mid="url(#m17)" marker-end="url(#m17)"/>
<path d="M938 67l-4-3-11 3-2 4-15-1-5 4 2 5 6-4 5-3 0 9 2-1 1 3 10-2 17-6 2 3 8 7-2-1-3 7-5-6-1 0-2 8-1-5-3 5-2-5-3 0-3-3-1 8 0 1-4-5-2 0-2-3-4 4-2 1-10 1-16 2-99-8-1 11 101 6 2-5 11 8 6-9 7 5 0 5 8-5 3 3 2-6 4-3 0 8 6-1 3 1 2-1 0-6 0 14-7-2-3 3 0-4-1 3-4-3-1 1-2 3-11-1-2-1-14 9 12 2-41 30 43-4 3 4 2 6-146 4 10 11 9 5 88-8 10 10 1-3-31 15-44-2-24-9-23 11-25-3-10 3 81 4 15 6 14-2 8-7 20 10 83-3-141 8-27 3-64 10 44 7 2-8 35-1 17 2 5 5 2 0 4-9 6 3 0 6 69 4-46 7-14 1-11-7-2-1-5 8-74-7-41 2 7 16 32 3 6-6 3-5 8 8 24-8 16 8 9-5 11 4 5-7 4 8 26-6 84 1-3 9-18 9-56-6-93 8-9-5-16-6-8 16 3 7 12-10 76 2 5 5 95-3 23 4-43 12-22 0-61-7-16 0-40-2-12 1-1 1-29 21 25-2 28 0 16 1 6-5 8-2 0 3 13-2 5 4 30-3 58 2 10-4 22 5-42 4-1 4-2-4-3 8-1 3-86-7-10 7-22-6-6 0-21-1-9 5-35 3 8 9 9-6 4-2 4 7 7 2 8-2 22-4 48 6 119-9-43 12-5 0-58 9-15-9-7 1-7 8-38 1-5-3-6-3-1 3 0 2-15-7-1 6-2 1-2-8-3-2-12 0 0 7-2-5-3 3-3 2-10 2 0 14 9-1 0-10 2 5 2 0 7 3 1 2 3-2 3-2 8-1 4-1 1 7 2-7 0-1 2-1 1 8 2-9 3 7 0 3 3-4 2 1 5-1 2-2 1 2 16-6 84 8 27 1 17-10 10 0 3 3-126 15 0 3-6 2-8-9-9 2-4 7-6-7-1 3-5-4 0 3-6-4-1 5-1-6-3 1-1 6-2-3-3 2-2 3-5-7 0 6-13-2-1 4-1-6-2 4-1 0 0 2-1-10-8 10-6 5 7 6 8-4 0 5 1-1 8-10 7 0 1 2 3 7 1-5 1 0 1 5 3-1 1 3 7-3 0-6 0 5 8-4 4-2 17 10 1-5 7 5 3-5 1-6 82 18-23 4-45-9-2 7-5-3-2 3-5-1 0-6-13 2-1 1-3 7 0 0-3-9-3 6-4-2-33-3-7 8-7-4-6-1-1-5-2 5-2 3-8 2 0 5 5 6 2-1 1-5 0 5 2-7 10 9 3-7 3 6 2-8 1 1 3 4 11 3 4-3 2-2 2 0 0 1 1-6 9 9 4-4 4 2 3-3 1 7 10-9 4 1 0 0 11-2 7 6 1 1 74 1-6 7-2 1-10-1-8 1 0-3-21 6-23-6-6 0-2 7-6-9-2 11-2-9-2 5 0-6-3 7-7-6-2-2-1 0-2 9-5-7-5-2-3 8-4 3-1-3-4 3-5-3-9 3-4-7-2-2-3-2-1 1-3 7-3-2-1-1-6 3 0 1-10-3 0-5-1 0 17 17 5-4 5 0 12 2 8 0 1-2 3 0 2 9 2-9 0 3 1 6 1-1 2-8 6 9 11-4 4-2 4-1 4 5 0-6 1 6 0 1 8-7 7 6 3-3 1-4 7-1 27 14-47 8-2-7-2-2-1 7-12-7-1 7-3-7-14-2-6 7-1-4-1-2-1 9-10-7-3 5-12-5-11-1-3-2-3 1-6 1-6 2 13 15 17-5 10 8 2-8 5 1 9 4 5-7 3 8 1 3 5-9 0-1 2 1 7 1 13 1 4 0 1-3 8 3 47 2-75 6-6 3-10 5-2-4-28-4" transform="scale(.333333)" fill="none" marker-start="url(#m18)" marker-mid="url(#m18)" marker-end="url(#m18)"/>
<path d="M924 65l-1-2 0 7-12-2-5-1-2-2-11 12 1-1 6 0 9 1 5 1 11 0 11 5 15-3-3 15-2-9-4 3-7 2-6-6-18 7 0-8-2 6 0 2-8 3-2-9-7 5-7 2-1-1-50 14 9-8 57 3 16 0 21-1 9 5 0-4-1 9-14 8 0-4-11-4-7 6-1-6-3-1-9 13-86 31 121 5-29 3-105 5-2-3-42 9 9 3 44-7 66 11 5-6 50-4 2 5 2 5 14-1 0-3-3 7-1 7-5-8-18 3-28-4-13 3-43 8-9-10-29 3-22 1-1-5-27 21 44-5 6-2 60 4 2-6 6 2 2 6 13 10-2-1-4 5-5-1-2-1-1-6-120 13 120 3 0-1 1 6 35-6 36-1-62 15 0 3-1-7-39-2-13 9-7-2-5 1-56 12 10-2 39-1 21-4 64 4 56 15-24-4-1 3-10 0-49 1-8-3-89 5-17-8 86 13 26-1 58 0 2-2 7 5 3 1 4-3 2-3 5 2 3 7 10-2 4-8-32 17-1-5-23 4-7 5-6 0-29 0-12-3 0 2-17 1-85 8 48 1 25-3 29-2 6 3 43 1 25 8-5 0-9 2-22-2-17 5-6-1-19 5-2-1-3-2-51-5-58 7-12 13 6 0 18-1 9-8 75 9 3-4 25 1 25-2 49 8-73 9-16 0-11-7-38 0-17 5-2-2-15-4-4 0-9-2-13 4-5 2 12 13 3-3 0 1 9-4 11 0 5-1 17 8 28-8 1 9 4-1 14-1 9 0 81 5-69 7-3 1-13-3-48 3-31-8-18 11-14-7-1 1-9 3-2-5 26 19 7-2 1 2 3-6 5-2 12 5 4-7 2 3 2 4 0-5 8 1 41 3 11-6 46 8 12-4 7 15-10-5-5 2-17-3-8 7 0 2-57-4-6-2-2 7-21-3-2-8-8 3-2-1-2-1-4 6-5 1-4-1-1-3-16 0-1 4-10 0-13 2 2 4 7 6 1-4 9 5 5 1 1-6 3-4 5 1 10 3 1 4 4-3 1-3 3 9 2-6 5 6 8-11 25 11 11 0 88-11 5 12 0 9-33-9-11 10-3 1-37-3-4-7-26 5-25-3-6 1-13 7-2-7-16 6-1-7-13 4-10-1 1 17 5-9 5-2 35 6 16-5 8 10 22-2 0-1 11 3 1-5 3 4 0-9 1 5 5-1 2-3 74 5-1 10-76-5-3 9-5-7-16 0-10 0-1 1-27 8-18-10-6 10 0-1 0-1-14-2 14 16 32-1 4-7 6 0 10-3 20 3 6 6 35-9 25 5 2 1 11 2-30 6-65-1-11 7" transform="scale(.333333)" fill="none" marker-start="url(#m19)" marker-mid="url(#m19)" marker-end="url(#m19)"/>
<path d="M787 90l-7-1-60 13 5 2 99 1 20-7 14 3 0 14-10 4-86-9-58 8-7-1 162 23-32-1-6-6-90 3-17 4 90 9 24 4 82-9 11 8 1-7 1 22-21-3-91 2-10-6-1 2-1 0 0 2-2 1-6 1-5-3-72-2 78 7 2 7 87 2 8-6 2 1 11-1 15-2 6 2-14 9-2 6-14-1-5 6-108-1-59-4 34 11 4 0 40-1 37-2 6 7 8-5 9 6 11-6 23-4 9 8 7-5 8 4 2 3 6-8 2-2 14 4 3-1-22 12-31 5-31 2 0-3-6 3-25 1-6-7-67 17 7-7 51 8 7-5 22-4 7 4 1 4 15-3 5-6 1 3 23 3 12-3 4 6-54 8-6 2-6-1-11 1-85 3 4 11 5 1 88-6 6 5 0-1 7-2 2-3 62-3 29 3-76 10-26 6-10-7-13 2-62 0-58 7 55 11 21-2 56 2 11-8 34 7 12-1 21 4 12-9 0 5 5 1-1 9-12 4-16-5-9-3 0 3-107 0-21-2-16 1-20 7-6 5 4-1 14 4 44 1 38-1 24 4 41 0 24-9 20 2 1 0 15 2-51 16-46 2-56-8-3-1-3 10-36-2 0 1-4 1 33 5 9 1 71 2 49 0 4-2 14-2 6 13-18 1-3-4-8 6 0 0-6 0-1-5-37 1-7 3-7 1-4-2-6 5-1 1-44-11-3 7 0-3-3 1-7 3-28 8 29 1 1-5 10 6 45-1 4-3 9-2 10 2 2 2 32-2 2-2 17 6 11-4 7-2-74 14-139 1-3 16 73-2 2 2 13-5 3 3 12-2 7 2 29-4 10 10 0-4 4 3 11-8 0 19-7-9-2 5-33-2 0-1-7-1-11 1-15 18 57-6 29-1 2 8-20 14-170-6 52 16 50-8 26-1 49 18-31-4-11 1-3 2-58 4 83 8 24 1" transform="scale(.333333)" fill="none" marker-start="url(#m20)" marker-mid="url(#m20)" marker-end="url(#m20)"/>
<path d="M709 94l-19 11 19 1 102-4 9-4 5-2 11 10 6-4 3-3 15 7 4-6 7 17-8-5-3 0-8 5 0-3-7-4-1 8-5 1-17-2-7-5-58 2-25-5-28 5-19 1 52 12 33 0 19 0 9-6 8 1 2 5 17-6 13 0 3 8 7 0 4-9 4 11 8-8 3 16-12 3-12-10-6 11-8-6-7-2-31 7-50-7-30 1-16 6 19 7 14 1 4 2 24-2 27 3 2 1 10-7 26 6 13-1 2-2 1-5 1 10 7-2 2-5 3 4 3-6 4 1 6-1 13-1 2 10 2 0 18-10 1 0 38 16-16-5-3 11-3-2 0-8-1 8-6-6-16 5-4-6-4 9-3-2-5-9-12 0-7 4-1 3-4-4-2 7-3-5-4 4-5-3-4-2-6 6-2-1 0-3-1 2-2-7-4 9-1-6-1-3-2 10-3-3-9 2-17-4-15-2-19 2-21-5-4 9 21 6 17-4 3 9 4-8 11 1 7 3 6 1 4 5 0-11 4 11 3-10 4 4 2-5 1 11 8-2 1-5 5 5 1-3 1 5 1-4 12 1 0-7 4 0 1 7 4 2 4-6 2 7 19-11 5 9 10-1 3-5 3 6 12-6 1-3 2 7 1-4 4 5 0-5 13 4 16 6-22 4-2 2-7 4-4-10-1 4-5 4-4-4-6 2-5 0 0-6-4 10-5 0-13-5-5-4-9 2-1 5 0-4-4 2-6 4-2-2-8 1-5-9 0 0-1 1-13 3-3-4-14 3-20 1-17-2 20 10 1 1 4 9 1-5 13-1 16-1 5 0 5 1 3-2 6-2 17 0 33 0 5 8 5 2 9 0 11-9 7 4 3 0 15-2 2-3 13 19-3-2-4 5-3-9-6 5-5 0-24 0-2 3-5-7-17 5-11 3-11-5-9 5-1-1-6-10-50 9-5-1-2 3-2-1-4-5-5 3-6 3-6-1-42 4 43 2 0 1 9 1 26 2 68 2 1-1 0-7 6 1 1 3 1 0 8 0 11 5 4-10 5 0 3 9 2-8 4 7 9-5 2 3 15-6 0 8 1-1 12-1-18 8-5-2-3 3-3-2-3 2-6-3-6 4-11-1-3 6-12-6-3-2 0-2-8 8-9-5-6-1-4 9-56-2-3-5-1-1-3 3-1 3-43-5 5 13 14-3 4 7 6-9 7 10 3-9 5 10 1-7 7 6 3-4 8 5 10-11 24 5 18 6 8-1 2-7 7-2 1 8 4-6 7 1 3 4 9 3 1-1 1-6 3 3 21 2 0-7 1 2 6 1 2 0 3 0 4-2 9 3 4-6 3 9-5 13-6-4 0 3-2-3-5-5 0 7-3-1-4 4-4-9-14 9-2-4-9-4-1 0-2 0-3 1-6 7-4-11-7 3-11-3-1 10-4-7-1-3 0 10-4-2-5-7-3 9-1-1-6-7-7 4-5-3-1 4-4-3-7-4-9 10-10-6 0 7 0-8-2-3-8 10-8 1-1-3-14-3-8 0-1 1-7-2-6 6-6 9 4 1 2-5 3 8 3-6 27 3 4 3 10-7 5 2 4-5 2 9 11-3 0-3 12-3 10 0 11 5 4-1 1-1 1 6 1-6 3-4 1 2 8 5 3 3 14-1 5-5 1-2 1 7 1-3 1-3 7 0 32 1 12 2-20 8-19 1-17 6-8-7-17 8-4 0-6-3-3-7-12 6-2-3-8 1-8 1-5-4-8 7-9 0-3-5-3 6-8-9-5 5-8 1-2 5-4-2-2-9-4 3-4 0-1 1-1 1-10 6-6-9-10 19 1-7 16 9 13-6 4-1 1-3 28 2 18 4 4 3 18-10 15 3 12 0 1-3 6 4 8-2 7 9 4-1 8-7 13 7 23-9 8 8 2 2 10 8-14-1-1 2-14 1-11 2-5-5-14-6-44 4-15 4-22 0-23-7-16 5-25 0-14-5-1 2-4 16 16-2 2 6 2-9 40-1 1 8 24 2 17-6 16-2 5 8 24-5 6 1 0-6 4 10 12-7 1 1 6 5 0-10 0 11 4-2 10-2 9-2 9-2-7 9-5 8-3-1-10-4-7 6-8-4-13-4-1 10-1 0-3-4-11-2-1 1-7-4-2 6-8-8-16 6-2-1-6 5-6 1-6-3-3-4-22 0-17-3-5 9 24 6 2-3 1-1 5 2 23 9 30-11 10 11 15-4 11-6 4 4 10 18-8-10-7 0-4 9-7-7-3 3-2-1-2-5-3 10-3 1-21-8-22-2-13 5-2-1 0-2-3 5-6-2-2 0-1 3-1-1 7 4 11 2 4 6 1 1 14 0 19-7 14 4 0-4 1 3 1 2 5-4 3 2 9 0 11 4 5 8-22 3-6-7-10 6-10-3-8-3-10 9-4-1-23-8-18 7-44 3-29 7 11 2 106-2 47-2-5 13-2 2-14-7-25 11-28-10-77 3-18 15 44 2 0-7 70 7 37-8 41 1-42 14-29-3-25 7-72 0 71 8 7-4 29 1 9 6" transform="scale(.333333)" fill="none" marker-start="url(#m21)" marker-mid="url(#m21)" marker-end="url(#m21)"/>
<line x1="22.5" y1="144" x2="22.5" y2="152.6" stroke="#231f20" stroke-width="0.8"/>
<line x1="22.1" y1="152.6" x2="31" y2="152.6" stroke="#231f20" stroke-width="0.8"/>
<text x="0" y="0" font-size="6.6" textLength="19.8" lengthAdjust="spacingAndGlyphs" transform="translate(24.6 140.9) rotate(-90)">tSNE 2</text>
<text x="33.7" y="154.4" font-size="6.6" textLength="19.6" lengthAdjust="spacingAndGlyphs">tSNE 1</text>
<line x1="200.5" y1="144" x2="200.5" y2="152.6" stroke="#231f20" stroke-width="0.8"/>
<line x1="200.1" y1="152.6" x2="209" y2="152.6" stroke="#231f20" stroke-width="0.8"/>
<text x="0" y="0" font-size="6.6" textLength="19.8" lengthAdjust="spacingAndGlyphs" transform="translate(202.6 140.9) rotate(-90)">tSNE 2</text>
<text x="211.7" y="154.4" font-size="6.6" textLength="19.6" lengthAdjust="spacingAndGlyphs">tSNE 1</text>
<text x="153.7" y="25.8" font-size="6.3" font-weight="bold" textLength="15.2" lengthAdjust="spacingAndGlyphs">tSNE</text>
<text x="153.7" y="33.2" font-size="6.3" font-weight="bold" textLength="19.9" lengthAdjust="spacingAndGlyphs">Cluster</text>
<circle cx="158" cy="42" r="4" fill="#5e9c47"/>
<text x="165.2" y="43.9" font-size="5.3">C1</text>
<circle cx="158" cy="53.3" r="4" fill="#a9ca5c"/>
<text x="165.2" y="55.2" font-size="5.3">C2</text>
<circle cx="158" cy="64.5" r="4" fill="#5a4098"/>
<text x="165.2" y="66.4" font-size="5.3">C3</text>
<circle cx="158" cy="75.8" r="4" fill="#c3b4db"/>
<text x="165.2" y="77.7" font-size="5.3">C4</text>
<circle cx="158" cy="87.1" r="4" fill="#c8268a"/>
<text x="165.2" y="89" font-size="5.3">C5</text>
<circle cx="158" cy="98.3" r="4" fill="#d98cc0"/>
<text x="165.2" y="100.2" font-size="5.3">C6</text>
<circle cx="158" cy="109.6" r="4" fill="#afb0b2"/>
<text x="165.2" y="111.5" font-size="5.3">C7</text>
<circle cx="158" cy="120.9" r="4" fill="#5e6163"/>
<text x="165.2" y="122.8" font-size="5.3">C8</text>
<circle cx="158" cy="132.2" r="4" fill="#c0662b"/>
<text x="165.2" y="134.1" font-size="5.3">C9</text>
<circle cx="158" cy="143.4" r="4" fill="#d9a83b"/>
<text x="165.2" y="145.3" font-size="5.3">C10</text>
<rect x="363.1" y="70.7" width="5.6" height="48.6" fill="#58a44c"/>
<rect x="369.5" y="107.1" width="5.6" height="12.2" fill="#b5d78e"/>
<rect x="369.5" y="106.1" width="5.6" height="1" fill="#e8a0a8"/>
<rect x="376" y="113.1" width="5.6" height="6.2" fill="#3d72b6"/>
<rect x="376" y="106.5" width="5.6" height="6.6" fill="#a9cbe6"/>
<rect x="376" y="105.1" width="5.6" height="1.4" fill="#e07b27"/>
<rect x="376" y="102.1" width="5.6" height="3" fill="#f0bc6e"/>
<rect x="376" y="101.1" width="5.6" height="1" fill="#d42a30"/>
<rect x="382.4" y="111" width="5.6" height="8.2" fill="#3d72b6"/>
<rect x="382.4" y="106.1" width="5.6" height="5" fill="#a9cbe6"/>
<rect x="382.4" y="105" width="5.6" height="1.1" fill="#e07b27"/>
<rect x="382.4" y="104.1" width="5.6" height=".9" fill="#f0bc6e"/>
<rect x="382.4" y="103.1" width="5.6" height="1" fill="#d42a30"/>
<rect x="382.4" y="102.8" width="5.6" height=".3" fill="#e8a0a8"/>
<rect x="388.9" y="112.9" width="5.6" height="6.4" fill="#d42a30"/>
<rect x="388.9" y="105.1" width="5.6" height="7.8" fill="#e8a0a8"/>
<rect x="395.3" y="117.9" width="5.6" height="1.4" fill="#3d72b6"/>
<rect x="395.3" y="117.5" width="5.6" height=".4" fill="#a9cbe6"/>
<rect x="395.3" y="116.6" width="5.6" height=".9" fill="#e07b27"/>
<rect x="395.3" y="114.2" width="5.6" height="2.4" fill="#f0bc6e"/>
<rect x="395.3" y="100" width="5.6" height="14.2" fill="#d42a30"/>
<rect x="395.3" y="84" width="5.6" height="16" fill="#e8a0a8"/>
<rect x="401.8" y="105.1" width="5.6" height="14.2" fill="#3d72b6"/>
<rect x="401.8" y="97.7" width="5.6" height="7.4" fill="#a9cbe6"/>
<rect x="401.8" y="97.3" width="5.6" height=".4" fill="#58a44c"/>
<rect x="401.8" y="76.2" width="5.6" height="21.1" fill="#e07b27"/>
<rect x="401.8" y="43.5" width="5.6" height="32.7" fill="#f0bc6e"/>
<rect x="401.8" y="32" width="5.6" height="11.5" fill="#d42a30"/>
<rect x="401.8" y="17" width="5.6" height="15" fill="#e8a0a8"/>
<rect x="408.2" y="117.7" width="5.6" height="1.6" fill="#3d72b6"/>
<rect x="408.2" y="115.3" width="5.6" height="2.4" fill="#a9cbe6"/>
<rect x="408.2" y="114.8" width="5.6" height=".5" fill="#58a44c"/>
<rect x="408.2" y="112.9" width="5.6" height="1.9" fill="#e07b27"/>
<rect x="408.2" y="109.4" width="5.6" height="3.5" fill="#f0bc6e"/>
<rect x="408.2" y="108.3" width="5.6" height="1.1" fill="#e8a0a8"/>
<rect x="414.7" y="115.7" width="5.6" height="3.6" fill="#3d72b6"/>
<rect x="414.7" y="112.9" width="5.6" height="2.8" fill="#a9cbe6"/>
<rect x="414.7" y="106.8" width="5.6" height="6.1" fill="#e07b27"/>
<rect x="414.7" y="94.7" width="5.6" height="12.1" fill="#f0bc6e"/>
<rect x="414.7" y="92.3" width="5.6" height="2.4" fill="#d42a30"/>
<rect x="414.7" y="88.6" width="5.6" height="3.7" fill="#e8a0a8"/>
<rect x="421.1" y="117.7" width="5.6" height="1.6" fill="#3d72b6"/>
<rect x="421.1" y="116.5" width="5.6" height="1.2" fill="#a9cbe6"/>
<rect x="421.1" y="116.1" width="5.6" height=".4" fill="#58a44c"/>
<rect x="421.1" y="114.9" width="5.6" height="1.2" fill="#e07b27"/>
<rect x="421.1" y="112.3" width="5.6" height="2.6" fill="#f0bc6e"/>
<rect x="421.1" y="110.7" width="5.6" height="1.6" fill="#d42a30"/>
<rect x="421.1" y="108.5" width="5.6" height="2.2" fill="#e8a0a8"/>
<line x1="362.4" y1="12.2" x2="362.4" y2="124.5" stroke="#111" stroke-width="1.1"/>
<line x1="361.9" y1="124" x2="428.7" y2="124" stroke="#111" stroke-width="1.1"/>
<line x1="360.6" y1="29.7" x2="362.4" y2="29.7" stroke="#231f20" stroke-width="0.7"/>
<text x="359" y="31.9" font-size="6.5" text-anchor="end" fill="#333">7.5</text>
<line x1="360.6" y1="59.8" x2="362.4" y2="59.8" stroke="#231f20" stroke-width="0.7"/>
<text x="359" y="62" font-size="6.5" text-anchor="end" fill="#333">5</text>
<line x1="360.6" y1="89.7" x2="362.4" y2="89.7" stroke="#231f20" stroke-width="0.7"/>
<text x="359" y="91.9" font-size="6.5" text-anchor="end" fill="#333">2.5</text>
<line x1="360.6" y1="119.6" x2="362.4" y2="119.6" stroke="#231f20" stroke-width="0.7"/>
<text x="359" y="121.8" font-size="6.5" text-anchor="end" fill="#333">0</text>
<text x="0" y="0" font-size="8.4" text-anchor="middle" fill="#111" textLength="41.1" lengthAdjust="spacingAndGlyphs" transform="translate(341.6 68) rotate(-90)" stroke="#111" stroke-width="0.38">Cell Number (K)</text>
<line x1="365.9" y1="124" x2="365.9" y2="126.6" stroke="#231f20" stroke-width="0.7"/>
<text x="0" y="0" font-size="6.4" text-anchor="middle" fill="#222" transform="translate(368.2 133.1) rotate(-90)">C1</text>
<circle cx="365.9" cy="145.4" r="2.4" fill="#5e9c47"/>
<line x1="372.3" y1="124" x2="372.3" y2="126.6" stroke="#231f20" stroke-width="0.7"/>
<text x="0" y="0" font-size="6.4" text-anchor="middle" fill="#222" transform="translate(374.6 133.1) rotate(-90)">C2</text>
<circle cx="372.3" cy="145.4" r="2.4" fill="#a9ca5c"/>
<line x1="378.8" y1="124" x2="378.8" y2="126.6" stroke="#231f20" stroke-width="0.7"/>
<text x="0" y="0" font-size="6.4" text-anchor="middle" fill="#222" transform="translate(381.1 133.1) rotate(-90)">C3</text>
<circle cx="378.8" cy="145.4" r="2.4" fill="#5a4098"/>
<line x1="385.2" y1="124" x2="385.2" y2="126.6" stroke="#231f20" stroke-width="0.7"/>
<text x="0" y="0" font-size="6.4" text-anchor="middle" fill="#222" transform="translate(387.6 133.1) rotate(-90)">C4</text>
<circle cx="385.2" cy="145.4" r="2.4" fill="#c3b4db"/>
<line x1="391.7" y1="124" x2="391.7" y2="126.6" stroke="#231f20" stroke-width="0.7"/>
<text x="0" y="0" font-size="6.4" text-anchor="middle" fill="#222" transform="translate(394 133.1) rotate(-90)">C5</text>
<circle cx="391.7" cy="145.4" r="2.4" fill="#c8268a"/>
<line x1="398.1" y1="124" x2="398.1" y2="126.6" stroke="#231f20" stroke-width="0.7"/>
<text x="0" y="0" font-size="6.4" text-anchor="middle" fill="#222" transform="translate(400.4 133.1) rotate(-90)">C6</text>
<circle cx="398.1" cy="145.4" r="2.4" fill="#d98cc0"/>
<line x1="404.6" y1="124" x2="404.6" y2="126.6" stroke="#231f20" stroke-width="0.7"/>
<text x="0" y="0" font-size="6.4" text-anchor="middle" fill="#222" transform="translate(406.9 133.1) rotate(-90)">C7</text>
<circle cx="404.6" cy="145.4" r="2.4" fill="#afb0b2"/>
<line x1="411" y1="124" x2="411" y2="126.6" stroke="#231f20" stroke-width="0.7"/>
<text x="0" y="0" font-size="6.4" text-anchor="middle" fill="#222" transform="translate(413.3 133.1) rotate(-90)">C8</text>
<circle cx="411" cy="145.4" r="2.4" fill="#5e6163"/>
<line x1="417.5" y1="124" x2="417.5" y2="126.6" stroke="#231f20" stroke-width="0.7"/>
<text x="0" y="0" font-size="6.4" text-anchor="middle" fill="#222" transform="translate(419.8 133.1) rotate(-90)">C9</text>
<circle cx="417.5" cy="145.4" r="2.4" fill="#c0662b"/>
<line x1="423.9" y1="124" x2="423.9" y2="126.6" stroke="#231f20" stroke-width="0.7"/>
<text x="0" y="0" font-size="6.4" text-anchor="middle" fill="#222" transform="translate(426.2 134.9) rotate(-90)">C10</text>
<circle cx="423.9" cy="145.4" r="2.4" fill="#d9a83b"/>
<text x="395" y="155.8" font-size="8.4" text-anchor="middle" fill="#111" textLength="17" lengthAdjust="spacingAndGlyphs" stroke="#111" stroke-width="0.38">Cluster</text>
<text x="440" y="35.2" font-size="6.9" fill="#333" textLength="44.9" lengthAdjust="spacingAndGlyphs">Sorted Cell Type</text>
<circle cx="444" cy="43.6" r="3.8" fill="#58a44c"/>
<rect x="449.6" y="39.7" width="7.9" height="7.8" fill="#58a44c"/>
<text x="460.3" y="45.6" font-size="5.6" fill="#333">CFSE+ D3</text>
<circle cx="444" cy="53.3" r="3.8" fill="#b5d78e"/>
<rect x="449.6" y="49.4" width="7.9" height="7.8" fill="#b5d78e"/>
<text x="460.3" y="55.3" font-size="5.6" fill="#333">CFSE+ D20</text>
<circle cx="444" cy="63.1" r="3.8" fill="#3d72b6"/>
<rect x="449.6" y="59.2" width="7.9" height="7.8" fill="#3d72b6"/>
<text x="460.3" y="65.1" font-size="5.6" fill="#333">Endogenous Treg D3</text>
<circle cx="444" cy="72.8" r="3.8" fill="#a9cbe6"/>
<rect x="449.6" y="68.9" width="7.9" height="7.8" fill="#a9cbe6"/>
<text x="460.3" y="74.8" font-size="5.6" fill="#333">Endogenous Treg D20</text>
<circle cx="444" cy="82.5" r="3.8" fill="#d42a30"/>
<rect x="449.6" y="78.6" width="7.9" height="7.8" fill="#d42a30"/>
<text x="460.3" y="84.5" font-size="5.6" fill="#333">CD127+CD25- D3</text>
<circle cx="444" cy="92.2" r="3.8" fill="#e8a0a8"/>
<rect x="449.6" y="88.3" width="7.9" height="7.8" fill="#e8a0a8"/>
<text x="460.3" y="94.2" font-size="5.6" fill="#333">CD127+CD25- D20</text>
<circle cx="444" cy="102" r="3.8" fill="#e07b27"/>
<rect x="449.6" y="98.1" width="7.9" height="7.8" fill="#e07b27"/>
<text x="460.3" y="104" font-size="5.6" fill="#333">CD127+CD25+ D3</text>
<circle cx="444" cy="111.7" r="3.8" fill="#f0bc6e"/>
<rect x="449.6" y="107.8" width="7.9" height="7.8" fill="#f0bc6e"/>
<text x="460.3" y="113.7" font-size="5.6" fill="#333">CD127+CD25+ D20</text>
<line x1="34.3" y1="201.9" x2="34.3" y2="228.9" stroke="#111" stroke-width="0.9"/>
<line x1="31.3" y1="226.9" x2="34.3" y2="226.9" stroke="#111" stroke-width="0.8"/>
<text x="28.5" y="229.2" font-size="6.3" text-anchor="end" fill="#333">0.0</text>
<line x1="31.3" y1="218.5" x2="34.3" y2="218.5" stroke="#111" stroke-width="0.8"/>
<text x="28.5" y="220.8" font-size="6.3" text-anchor="end" fill="#333">0.4</text>
<line x1="31.3" y1="210.2" x2="34.3" y2="210.2" stroke="#111" stroke-width="0.8"/>
<text x="28.5" y="212.5" font-size="6.3" text-anchor="end" fill="#333">0.8</text>
<text x="111.6" y="202.5" font-size="8.6" text-anchor="middle" fill="#111" textLength="26.1" lengthAdjust="spacingAndGlyphs">FOXP3</text>
<path d="M43.5 204.5C43.6 205.2 43.8 207.2 44 208.9C44.2 210.6 44.5 213.4 44.8 214.9C45.1 216.4 45.5 217.1 45.8 217.9C46.1 218.7 46.5 219 46.5 219.6C46.5 220.2 46 220.9 45.9 221.4C45.8 221.9 45.5 222 45.8 222.4C46.1 222.8 46.8 223.4 47.5 223.9C48.2 224.4 49.5 225 50 225.4C50.5 225.8 50.6 226.3 50.4 226.6C50.2 226.9 50.1 227.2 49 227.4C47.9 227.6 44.4 227.7 43.5 227.7C42.6 227.7 39.1 227.6 38 227.4C36.9 227.2 36.8 226.9 36.6 226.6C36.4 226.3 36.5 225.8 37 225.4C37.5 225 38.8 224.4 39.5 223.9C40.2 223.4 40.9 222.8 41.2 222.4C41.5 222 41.2 221.9 41.1 221.4C41 220.9 40.5 220.2 40.5 219.6C40.5 219 40.9 218.7 41.2 217.9C41.5 217.1 41.9 216.4 42.2 214.9C42.5 213.4 42.8 210.6 43 208.9C43.2 207.2 43.4 205.2 43.5 204.5Z" fill="#78b045" stroke="#2a2a2a" stroke-width="0.75" stroke-linejoin="round"/>
<path d="M58.6 207.3C58.7 208.6 58.9 213 59.1 214.9C59.3 216.8 59.5 218.1 59.6 218.9C59.7 219.7 59.9 219.3 59.9 219.6C59.9 219.9 59.5 220.2 59.5 220.9C59.5 221.6 59.6 223.2 60.1 223.9C60.6 224.6 61.8 224.7 62.6 225.1C63.4 225.5 64.7 225.8 65.1 226.1C65.5 226.4 65.9 226.9 64.8 227.1C63.7 227.3 59.6 227.4 58.6 227.5C57.6 227.4 53.5 227.3 52.4 227.1C51.3 226.9 51.7 226.4 52.1 226.1C52.5 225.8 53.8 225.5 54.6 225.1C55.4 224.7 56.6 224.6 57.1 223.9C57.6 223.2 57.7 221.6 57.7 220.9C57.7 220.2 57.3 219.9 57.3 219.6C57.3 219.3 57.5 219.7 57.6 218.9C57.7 218.1 57.9 216.8 58.1 214.9C58.3 213 58.5 208.6 58.6 207.3Z" fill="#bdd98a" stroke="#2a2a2a" stroke-width="0.75" stroke-linejoin="round"/>
<path d="M73.7 203C73.8 204 74.2 206.9 74.5 208.9C74.8 210.9 75 213.1 75.3 214.9C75.6 216.7 75.9 218.6 76.2 219.9C76.5 221.2 76.6 222 76.9 222.7C77.2 223.5 77.6 223.9 78.2 224.4C78.8 224.9 80.3 225.4 80.6 225.8C80.9 226.2 81.4 226.6 80.2 226.9C79 227.2 74.8 227.4 73.7 227.5C72.6 227.4 68.4 227.2 67.2 226.9C66 226.6 66.5 226.2 66.8 225.8C67.1 225.4 68.6 224.9 69.2 224.4C69.8 223.9 70.2 223.5 70.5 222.7C70.8 222 70.9 221.2 71.2 219.9C71.5 218.6 71.8 216.7 72.1 214.9C72.4 213.1 72.6 210.9 72.9 208.9C73.2 206.9 73.6 204 73.7 203Z" fill="#6654a8" stroke="#2a2a2a" stroke-width="0.75" stroke-linejoin="round"/>
<path d="M88.8 209.6C88.9 210.8 89.1 215.2 89.2 216.9C89.3 218.6 89.5 219.3 89.6 219.9C89.7 220.5 90 220.2 90 220.4C90 220.7 89.6 220.8 89.6 221.4C89.6 222 89.5 223.2 90 223.9C90.5 224.6 91.5 225 92.3 225.4C93.1 225.8 94.7 226 95 226.3C95.3 226.6 95.3 226.9 94.3 227.1C93.3 227.3 89.7 227.3 88.8 227.4C87.9 227.3 84.3 227.3 83.3 227.1C82.3 226.9 82.3 226.6 82.6 226.3C82.9 226 84.5 225.8 85.3 225.4C86.1 225 87.1 224.6 87.6 223.9C88 223.2 88 222 88 221.4C88 220.8 87.6 220.7 87.6 220.4C87.6 220.2 87.9 220.5 88 219.9C88.1 219.3 88.3 218.6 88.4 216.9C88.5 215.2 88.7 210.8 88.8 209.6Z" fill="#c8bfe1" stroke="#2a2a2a" stroke-width="0.75" stroke-linejoin="round"/>
<path d="M103.9 217.5C103.9 218.8 103.6 223.9 104.2 225.4C104.7 226.9 106.3 226 107.4 226.2C108.5 226.4 110.2 226.4 110.7 226.6C111.2 226.8 111.5 227 110.4 227.1C109.3 227.2 105 227.3 103.9 227.3C102.8 227.3 98.5 227.2 97.4 227.1C96.3 227 96.6 226.8 97.1 226.6C97.6 226.4 99.3 226.4 100.4 226.2C101.5 226 103.1 226.9 103.7 225.4C104.2 223.9 103.9 218.8 103.9 217.5Z" fill="#cc4496" stroke="#2a2a2a" stroke-width="0.75" stroke-linejoin="round"/>
<path d="M119 217.1C119 218.5 118.7 223.9 119.2 225.4C119.8 226.9 121.4 226 122.5 226.2C123.6 226.4 125.3 226.4 125.8 226.6C126.3 226.8 126.6 227 125.5 227.1C124.4 227.2 120.1 227.3 119 227.3C117.9 227.3 113.6 227.2 112.5 227.1C111.4 227 111.7 226.8 112.2 226.6C112.7 226.4 114.4 226.4 115.5 226.2C116.6 226 118.2 226.9 118.8 225.4C119.3 223.9 119 218.5 119 217.1Z" fill="#dc9ec8" stroke="#2a2a2a" stroke-width="0.75" stroke-linejoin="round"/>
<path d="M134.1 213.2C134.1 215.2 133.8 223.2 134.3 225.4C134.9 227.6 136.5 226 137.6 226.2C138.7 226.4 140.4 226.4 140.9 226.6C141.4 226.8 141.7 227 140.6 227.1C139.5 227.2 135.2 227.3 134.1 227.3C133 227.3 128.7 227.2 127.6 227.1C126.5 227 126.8 226.8 127.3 226.6C127.8 226.4 129.5 226.4 130.6 226.2C131.7 226 133.3 227.6 133.8 225.4C134.4 223.2 134.1 215.2 134.1 213.2Z" fill="#b9bdc4" stroke="#2a2a2a" stroke-width="0.75" stroke-linejoin="round"/>
<path d="M149.2 217.1C149.2 218.5 148.9 223.9 149.4 225.4C150 226.9 151.6 226 152.7 226.2C153.8 226.4 155.5 226.4 156 226.6C156.5 226.8 156.8 227 155.7 227.1C154.6 227.2 150.3 227.3 149.2 227.3C148.1 227.3 143.8 227.2 142.7 227.1C141.6 227 141.9 226.8 142.4 226.6C142.9 226.4 144.6 226.4 145.7 226.2C146.8 226 148.4 226.9 148.9 225.4C149.5 223.9 149.2 218.5 149.2 217.1Z" fill="#6d7279" stroke="#2a2a2a" stroke-width="0.75" stroke-linejoin="round"/>
<path d="M164.3 217.1C164.3 218.5 164 223.9 164.6 225.4C165.1 226.9 166.7 226 167.8 226.2C168.9 226.4 170.6 226.4 171.1 226.6C171.6 226.8 171.9 227 170.8 227.1C169.7 227.2 165.4 227.3 164.3 227.3C163.2 227.3 158.9 227.2 157.8 227.1C156.7 227 157 226.8 157.5 226.6C158 226.4 159.7 226.4 160.8 226.2C161.9 226 163.5 226.9 164.1 225.4C164.6 223.9 164.3 218.5 164.3 217.1Z" fill="#d2823a" stroke="#2a2a2a" stroke-width="0.75" stroke-linejoin="round"/>
<path d="M179.4 212.8C179.5 214.5 179.5 220.9 179.7 222.9C180 224.9 180.2 224.2 180.9 224.6C181.6 225 183.1 225.1 183.9 225.4C184.8 225.7 185.7 226 186 226.3C186.3 226.6 186.9 226.8 185.8 227C184.7 227.2 180.5 227.3 179.4 227.4C178.3 227.3 174.1 227.2 173 227C171.9 226.8 172.5 226.6 172.8 226.3C173.1 226 174.1 225.7 174.9 225.4C175.8 225.1 177.2 225 177.9 224.6C178.6 224.2 178.8 224.9 179.1 222.9C179.3 220.9 179.3 214.5 179.4 212.8Z" fill="#e2b440" stroke="#2a2a2a" stroke-width="0.75" stroke-linejoin="round"/>
<line x1="34.3" y1="236.2" x2="34.3" y2="262.6" stroke="#111" stroke-width="0.9"/>
<line x1="31.3" y1="259.5" x2="34.3" y2="259.5" stroke="#111" stroke-width="0.8"/>
<text x="28.5" y="261.8" font-size="6.3" text-anchor="end" fill="#333">0.0</text>
<line x1="31.3" y1="250.5" x2="34.3" y2="250.5" stroke="#111" stroke-width="0.8"/>
<text x="28.5" y="252.8" font-size="6.3" text-anchor="end" fill="#333">0.5</text>
<line x1="31.3" y1="241.5" x2="34.3" y2="241.5" stroke="#111" stroke-width="0.8"/>
<text x="28.5" y="243.8" font-size="6.3" text-anchor="end" fill="#333">1.0</text>
<text x="111.6" y="236.4" font-size="8.6" text-anchor="middle" fill="#111" textLength="22.7" lengthAdjust="spacingAndGlyphs">IL2RA</text>
<path d="M43.5 236.9C43.6 237.5 43.7 239.4 44.1 240.5C44.5 241.6 45.2 242.7 45.7 243.5C46.2 244.3 46.7 244.5 47.3 245.5C47.9 246.5 48.8 248.2 49.3 249.5C49.8 250.8 50.3 252.1 50.4 253C50.5 253.9 50.2 254.3 49.8 255C49.4 255.7 48.3 256.3 48.1 256.9C47.9 257.4 48.6 257.9 48.7 258.3C48.8 258.7 49.1 259.1 48.9 259.5C48.7 259.9 48.6 260.4 47.7 260.7C46.8 261 44.2 261.4 43.5 261.5C42.8 261.4 40.2 261 39.3 260.7C38.4 260.4 38.3 259.9 38.1 259.5C37.9 259.1 38.2 258.7 38.3 258.3C38.4 257.9 39.1 257.4 38.9 256.9C38.7 256.3 37.6 255.7 37.2 255C36.8 254.3 36.5 253.9 36.6 253C36.7 252.1 37.2 250.8 37.7 249.5C38.2 248.2 39.1 246.5 39.7 245.5C40.3 244.5 40.8 244.3 41.3 243.5C41.8 242.7 42.5 241.6 42.9 240.5C43.3 239.4 43.4 237.5 43.5 236.9Z" fill="#78b045" stroke="#2a2a2a" stroke-width="0.75" stroke-linejoin="round"/>
<path d="M58.6 241.5C58.7 242.2 59 244.2 59.4 245.5C59.8 246.8 60.6 248.2 61.2 249.5C61.8 250.8 62.7 252.1 62.9 253C63.1 253.9 62.5 254.5 62.3 255C62.2 255.5 61.7 255.7 62 256.2C62.3 256.7 63.6 257.5 64.1 258C64.6 258.5 64.9 258.8 64.8 259.2C64.7 259.6 64.6 259.9 63.6 260.2C62.6 260.5 59.4 260.7 58.6 260.8C57.8 260.7 54.6 260.5 53.6 260.2C52.6 259.9 52.5 259.6 52.4 259.2C52.3 258.8 52.6 258.5 53.1 258C53.6 257.5 54.9 256.7 55.2 256.2C55.5 255.7 55 255.5 54.9 255C54.8 254.5 54.1 253.9 54.3 253C54.5 252.1 55.4 250.8 56 249.5C56.6 248.2 57.4 246.8 57.8 245.5C58.2 244.2 58.5 242.2 58.6 241.5Z" fill="#bdd98a" stroke="#2a2a2a" stroke-width="0.75" stroke-linejoin="round"/>
<path d="M73.7 236.9C73.9 237.7 74.3 240.1 74.7 241.5C75.1 242.9 75.5 244.2 75.9 245.5C76.3 246.8 76.8 248.2 77.3 249.5C77.8 250.8 78.5 252.4 79 253.5C79.5 254.6 79.9 255.4 80 256C80.1 256.6 79.4 256.7 79.5 257.2C79.6 257.7 80.7 258.4 80.6 259C80.6 259.6 80.4 260.1 79.2 260.5C78 260.9 74.6 261.3 73.7 261.5C72.8 261.3 69.4 260.9 68.2 260.5C67 260.1 66.8 259.6 66.8 259C66.8 258.4 67.8 257.7 67.9 257.2C68 256.7 67.3 256.6 67.4 256C67.5 255.4 68 254.6 68.4 253.5C68.9 252.4 69.6 250.8 70.1 249.5C70.6 248.2 71.1 246.8 71.5 245.5C71.9 244.2 72.3 242.9 72.7 241.5C73.1 240.1 73.5 237.7 73.7 236.9Z" fill="#6654a8" stroke="#2a2a2a" stroke-width="0.75" stroke-linejoin="round"/>
<path d="M88.8 238.5C88.9 239.2 89.2 241.2 89.6 242.5C90 243.8 90.6 245.2 91.1 246.5C91.6 247.8 92.2 249.2 92.8 250.5C93.4 251.8 94.2 253.6 94.6 254.5C95 255.4 95 255.7 95 256.2C95 256.7 94.3 256.8 94.4 257.3C94.5 257.8 95.7 258.5 95.7 259C95.7 259.5 95.5 260.1 94.3 260.5C93.1 260.9 89.7 261.3 88.8 261.5C87.9 261.3 84.5 260.9 83.3 260.5C82.1 260.1 81.9 259.5 81.9 259C81.9 258.5 83.1 257.8 83.2 257.3C83.3 256.8 82.6 256.7 82.6 256.2C82.6 255.7 82.6 255.4 83 254.5C83.4 253.6 84.2 251.8 84.8 250.5C85.4 249.2 86 247.8 86.5 246.5C87 245.2 87.6 243.8 88 242.5C88.4 241.2 88.7 239.2 88.8 238.5Z" fill="#c8bfe1" stroke="#2a2a2a" stroke-width="0.75" stroke-linejoin="round"/>
<path d="M103.9 247.3C103.9 249.1 103.7 256.1 104.2 258C104.7 259.9 105.8 258.5 106.9 258.7C108 258.9 110 259 110.5 259.2C111 259.4 111.3 259.6 110.2 259.8C109.1 260 105 260.1 103.9 260.1C102.9 260.1 98.7 260 97.6 259.8C96.5 259.6 96.8 259.4 97.3 259.2C97.9 259 99.8 258.9 100.9 258.7C102 258.5 103.2 259.9 103.7 258C104.2 256.1 103.9 249.1 103.9 247.3Z" fill="#cc4496" stroke="#2a2a2a" stroke-width="0.75" stroke-linejoin="round"/>
<path d="M119 244.7C119 246.9 118.8 255.4 119.3 257.7C119.8 260 120.9 258.3 122 258.5C123.1 258.7 125.3 258.9 125.9 259.1C126.5 259.3 126.7 259.7 125.5 259.9C124.3 260.1 120.1 260.2 119 260.3C117.9 260.2 113.7 260.1 112.5 259.9C111.3 259.7 111.5 259.3 112.1 259.1C112.7 258.9 114.9 258.7 116 258.5C117.1 258.3 118.2 260 118.7 257.7C119.2 255.4 119 246.9 119 244.7Z" fill="#dc9ec8" stroke="#2a2a2a" stroke-width="0.75" stroke-linejoin="round"/>
<path d="M134.1 244.7C134.2 246.7 134.2 254.4 134.4 256.5C134.7 258.6 134.8 257.2 135.6 257.5C136.4 257.8 138.2 258.2 139.1 258.5C140 258.8 140.8 259.2 141 259.5C141.2 259.8 141.2 259.9 140.1 260C138.9 260.1 135.1 260.2 134.1 260.3C133.1 260.2 129.2 260.1 128.1 260C126.9 259.9 127 259.8 127.2 259.5C127.4 259.2 128.2 258.8 129.1 258.5C130 258.2 131.8 257.8 132.6 257.5C133.4 257.2 133.5 258.6 133.8 256.5C134 254.4 134 246.7 134.1 244.7Z" fill="#b9bdc4" stroke="#2a2a2a" stroke-width="0.75" stroke-linejoin="round"/>
<path d="M149.2 242.5C149.3 244 149.4 249.6 149.6 251.5C149.8 253.4 150 253.4 150.4 254.2C150.8 254.9 151.5 255.4 152.2 256C152.9 256.6 154 257 154.7 257.5C155.3 258 156 258.5 156.1 258.9C156.2 259.3 156.3 259.8 155.2 260C154 260.2 150.2 260.3 149.2 260.4C148.2 260.3 144.3 260.2 143.2 260C142 259.8 142.2 259.3 142.3 258.9C142.4 258.5 143 258 143.7 257.5C144.3 257 145.5 256.6 146.2 256C146.9 255.4 147.6 254.9 148 254.2C148.4 253.4 148.6 253.4 148.8 251.5C149 249.6 149.1 244 149.2 242.5Z" fill="#6d7279" stroke="#2a2a2a" stroke-width="0.75" stroke-linejoin="round"/>
<path d="M164.3 245.6C164.4 247.2 164.5 253.6 164.7 255.5C165 257.4 165.2 256.6 165.8 257C166.4 257.4 167.5 257.7 168.3 258C169.2 258.3 170.5 258.7 170.9 259C171.3 259.3 171.6 259.7 170.5 259.9C169.4 260.1 165.3 260.2 164.3 260.3C163.3 260.2 159.2 260.1 158.1 259.9C157 259.7 157.3 259.3 157.7 259C158.1 258.7 159.5 258.3 160.3 258C161.2 257.7 162.2 257.4 162.8 257C163.4 256.6 163.7 257.4 163.9 255.5C164.2 253.6 164.2 247.2 164.3 245.6Z" fill="#d2823a" stroke="#2a2a2a" stroke-width="0.75" stroke-linejoin="round"/>
<path d="M179.4 243.8C179.5 245.6 179.6 252.5 179.9 254.5C180.2 256.5 180.5 255.6 181.2 256C181.9 256.4 183.1 256.8 183.9 257.2C184.8 257.6 186 258.1 186.3 258.5C186.6 258.9 187.1 259.4 185.9 259.8C184.8 260.2 180.5 260.6 179.4 260.7C178.3 260.6 174.1 260.2 172.9 259.8C171.8 259.4 172.2 258.9 172.5 258.5C172.8 258.1 174.1 257.6 174.9 257.2C175.8 256.8 176.9 256.4 177.6 256C178.3 255.6 178.6 256.5 178.9 254.5C179.2 252.5 179.3 245.6 179.4 243.8Z" fill="#e2b440" stroke="#2a2a2a" stroke-width="0.75" stroke-linejoin="round"/>
<line x1="34.3" y1="270.2" x2="34.3" y2="297.8" stroke="#111" stroke-width="0.9"/>
<line x1="31.3" y1="294.9" x2="34.3" y2="294.9" stroke="#111" stroke-width="0.8"/>
<text x="28.5" y="297.2" font-size="6.3" text-anchor="end" fill="#333">0.0</text>
<line x1="31.3" y1="287.2" x2="34.3" y2="287.2" stroke="#111" stroke-width="0.8"/>
<text x="28.5" y="289.5" font-size="6.3" text-anchor="end" fill="#333">0.5</text>
<line x1="31.3" y1="279.5" x2="34.3" y2="279.5" stroke="#111" stroke-width="0.8"/>
<text x="28.5" y="281.8" font-size="6.3" text-anchor="end" fill="#333">1.0</text>
<line x1="31.3" y1="271.8" x2="34.3" y2="271.8" stroke="#111" stroke-width="0.8"/>
<text x="28.5" y="274.1" font-size="6.3" text-anchor="end" fill="#333">1.5</text>
<text x="111.6" y="272.2" font-size="8.6" text-anchor="middle" fill="#111" textLength="16.6" lengthAdjust="spacingAndGlyphs">IL7R</text>
<path d="M43.5 280.5C43.5 282.7 43.2 291.4 43.8 293.7C44.4 296 46 294.1 47 294.3C48 294.4 49.6 294.4 50 294.6C50.4 294.8 50.6 295.1 49.5 295.2C48.4 295.3 44.5 295.4 43.5 295.4C42.5 295.4 38.6 295.3 37.5 295.2C36.4 295.1 36.6 294.8 37 294.6C37.4 294.4 39 294.4 40 294.3C41 294.1 42.6 296 43.2 293.7C43.8 291.4 43.5 282.7 43.5 280.5Z" fill="#78b045" stroke="#2a2a2a" stroke-width="0.75" stroke-linejoin="round"/>
<path d="M58.6 278.9C58.7 281.3 58.4 290.9 59 293.4C59.6 295.9 61.1 293.9 62.1 294.1C63.1 294.3 64.6 294.3 65.1 294.5C65.5 294.7 65.9 295.1 64.8 295.3C63.7 295.5 59.6 295.5 58.6 295.6C57.6 295.5 53.5 295.5 52.4 295.3C51.3 295.1 51.6 294.7 52.1 294.5C52.6 294.3 54.1 294.3 55.1 294.1C56.1 293.9 57.6 295.9 58.2 293.4C58.8 290.9 58.5 281.3 58.6 278.9Z" fill="#bdd98a" stroke="#2a2a2a" stroke-width="0.75" stroke-linejoin="round"/>
<path d="M73.7 279.7C73.8 280.7 73.9 284.4 74.1 285.9C74.3 287.4 74.7 288.1 74.9 288.9C75.1 289.7 75 290.3 75.3 290.9C75.6 291.5 76 291.9 76.7 292.4C77.4 292.9 78.6 293.3 79.2 293.7C79.8 294.1 80.1 294.3 80.2 294.6C80.3 294.9 80.8 295.1 79.7 295.3C78.6 295.5 74.7 295.6 73.7 295.7C72.7 295.6 68.8 295.5 67.7 295.3C66.6 295.1 67.1 294.9 67.2 294.6C67.3 294.3 67.6 294.1 68.2 293.7C68.8 293.3 70 292.9 70.7 292.4C71.4 291.9 71.8 291.5 72.1 290.9C72.4 290.3 72.3 289.7 72.5 288.9C72.7 288.1 73.1 287.4 73.3 285.9C73.5 284.4 73.6 280.7 73.7 279.7Z" fill="#6654a8" stroke="#2a2a2a" stroke-width="0.75" stroke-linejoin="round"/>
<path d="M88.8 275C88.9 276.6 89 282.6 89.2 284.9C89.4 287.2 89.6 287.8 89.8 288.9C90 290 90.2 290.7 90.6 291.4C91 292.1 91.7 292.5 92.3 292.9C92.9 293.3 93.8 293.6 94.3 293.9C94.8 294.2 95.3 294.6 95.3 294.9C95.3 295.2 95.4 295.3 94.3 295.5C93.2 295.7 89.7 295.8 88.8 295.9C87.9 295.8 84.4 295.7 83.3 295.5C82.2 295.3 82.3 295.2 82.3 294.9C82.3 294.6 82.8 294.2 83.3 293.9C83.8 293.6 84.7 293.3 85.3 292.9C85.9 292.5 86.6 292.1 87 291.4C87.4 290.7 87.6 290 87.8 288.9C88 287.8 88.2 287.2 88.4 284.9C88.6 282.6 88.7 276.6 88.8 275Z" fill="#c8bfe1" stroke="#2a2a2a" stroke-width="0.75" stroke-linejoin="round"/>
<path d="M103.9 274.8C104 275.2 104.2 276.5 104.7 277.4C105.2 278.3 106.5 279.4 107.2 280.3C108 281.2 108.7 282.1 109.2 282.9C109.7 283.7 110.1 284.2 110.1 284.9C110.2 285.6 109.9 286.1 109.5 286.9C109.1 287.6 107.7 288.7 107.5 289.4C107.3 290.1 108 290.5 108.5 291.1C109 291.7 110.3 292.5 110.6 293.1C110.9 293.7 111.2 294.4 110.1 294.9C109 295.4 104.9 295.9 103.9 296.1C102.9 295.9 98.8 295.4 97.7 294.9C96.6 294.4 96.9 293.7 97.2 293.1C97.5 292.5 98.8 291.7 99.3 291.1C99.8 290.5 100.5 290.1 100.3 289.4C100.1 288.7 98.7 287.6 98.3 286.9C97.9 286.1 97.7 285.6 97.7 284.9C97.8 284.2 98.1 283.7 98.6 282.9C99.1 282.1 99.9 281.2 100.6 280.3C101.4 279.4 102.6 278.3 103.1 277.4C103.7 276.5 103.8 275.2 103.9 274.8Z" fill="#cc4496" stroke="#2a2a2a" stroke-width="0.75" stroke-linejoin="round"/>
<path d="M119 276.6C119.1 277.1 119.1 278.6 119.6 279.4C120.1 280.2 121 280.6 121.8 281.4C122.6 282.1 124 283.1 124.5 283.9C125 284.7 124.8 285.6 124.6 286.4C124.4 287.2 123.7 288.1 123.3 288.9C122.9 289.7 122.2 290.5 122.3 291.2C122.4 291.9 123.5 292.6 123.8 293.1C124.1 293.6 124.2 294 124.1 294.4C124 294.8 124 295.1 123.2 295.4C122.4 295.6 119.7 295.8 119 295.9C118.3 295.8 115.6 295.6 114.8 295.4C114 295.1 114 294.8 113.9 294.4C113.8 294 113.9 293.6 114.2 293.1C114.5 292.6 115.6 291.9 115.7 291.2C115.8 290.5 115.1 289.7 114.7 288.9C114.3 288.1 113.6 287.2 113.4 286.4C113.2 285.6 113 284.7 113.5 283.9C114 283.1 115.4 282.1 116.2 281.4C117 280.6 117.9 280.2 118.4 279.4C118.9 278.6 118.9 277.1 119 276.6Z" fill="#dc9ec8" stroke="#2a2a2a" stroke-width="0.75" stroke-linejoin="round"/>
<path d="M134.1 275.7C134.2 276.1 134.3 277.5 134.9 278.4C135.5 279.3 136.7 280.1 137.6 280.9C138.5 281.6 139.6 282.1 140.1 282.9C140.6 283.7 140.6 284.9 140.5 285.9C140.4 286.9 139.9 287.8 139.5 288.9C139.1 289.9 138.1 291.3 138.1 292.2C138.1 293.1 139.5 293.6 139.6 294.1C139.7 294.6 139.5 295.1 138.6 295.4C137.7 295.7 134.8 295.8 134.1 295.9C133.3 295.8 130.5 295.7 129.6 295.4C128.7 295.1 128.5 294.6 128.6 294.1C128.7 293.6 130.1 293.1 130.1 292.2C130.1 291.3 129.1 289.9 128.7 288.9C128.3 287.8 127.8 286.9 127.7 285.9C127.6 284.9 127.6 283.7 128.1 282.9C128.6 282.1 129.7 281.6 130.6 280.9C131.5 280.1 132.7 279.3 133.3 278.4C133.9 277.5 134 276.1 134.1 275.7Z" fill="#b9bdc4" stroke="#2a2a2a" stroke-width="0.75" stroke-linejoin="round"/>
<path d="M149.2 276.6C149.4 277.1 149.6 278.5 150.2 279.4C150.8 280.3 151.9 281.1 152.7 281.9C153.5 282.7 154.6 283.6 155.2 284.4C155.8 285.2 156 285.8 156.1 286.7C156.2 287.6 155.7 288.9 155.6 289.9C155.5 290.9 155.5 292.1 155.4 292.9C155.3 293.7 155.5 294.4 155.2 294.9C154.9 295.4 154.7 295.8 153.7 296.1C152.7 296.4 149.9 296.6 149.2 296.7C148.4 296.6 145.7 296.4 144.7 296.1C143.7 295.8 143.5 295.4 143.2 294.9C142.9 294.4 143.1 293.7 143 292.9C142.9 292.1 142.9 290.9 142.8 289.9C142.7 288.9 142.2 287.6 142.3 286.7C142.4 285.8 142.6 285.2 143.2 284.4C143.8 283.6 144.9 282.7 145.7 281.9C146.5 281.1 147.6 280.3 148.2 279.4C148.8 278.5 149 277.1 149.2 276.6Z" fill="#6d7279" stroke="#2a2a2a" stroke-width="0.75" stroke-linejoin="round"/>
<path d="M164.3 273.3C164.4 273.8 164.6 275.5 165.1 276.4C165.6 277.3 166.4 278 167.3 278.9C168.2 279.8 169.7 281.1 170.3 281.9C171 282.7 171.2 283.1 171.2 283.9C171.2 284.6 170.8 285.6 170.3 286.4C169.8 287.2 168.8 288.1 168.1 288.9C167.4 289.6 166.7 290.3 166.3 290.9C165.9 291.4 165.7 291.7 165.6 292.2C165.5 292.7 165.5 293.4 165.5 293.9C165.5 294.4 165.6 294.9 165.4 295.4C165.2 295.9 164.5 296.5 164.3 296.7C164.1 296.5 163.4 295.9 163.2 295.4C163 294.9 163.1 294.4 163.1 293.9C163.1 293.4 163.1 292.7 163 292.2C162.9 291.7 162.7 291.4 162.3 290.9C161.9 290.3 161.2 289.6 160.5 288.9C159.8 288.1 158.8 287.2 158.3 286.4C157.8 285.6 157.4 284.6 157.4 283.9C157.4 283.1 157.7 282.7 158.3 281.9C159 281.1 160.4 279.8 161.3 278.9C162.2 278 163 277.3 163.5 276.4C164 275.5 164.2 273.8 164.3 273.3Z" fill="#d2823a" stroke="#2a2a2a" stroke-width="0.75" stroke-linejoin="round"/>
<path d="M179.4 273.3C179.5 273.8 179.7 275.4 180.2 276.4C180.7 277.4 181.6 278.4 182.4 279.4C183.2 280.4 184.3 281.3 184.9 282.4C185.5 283.5 185.6 284.6 185.8 285.9C186 287.1 186 288.7 185.9 289.9C185.8 291.1 185.7 292 185.4 292.9C185.1 293.8 184.9 294.8 183.9 295.4C182.9 296 180.2 296.5 179.4 296.7C178.7 296.5 175.9 296 174.9 295.4C173.9 294.8 173.7 293.8 173.4 292.9C173.1 292 173 291.1 172.9 289.9C172.8 288.7 172.8 287.1 173 285.9C173.2 284.6 173.3 283.5 173.9 282.4C174.5 281.3 175.6 280.4 176.4 279.4C177.2 278.4 178.1 277.4 178.6 276.4C179.1 275.4 179.3 273.8 179.4 273.3Z" fill="#e2b440" stroke="#2a2a2a" stroke-width="0.75" stroke-linejoin="round"/>
<line x1="34.3" y1="305.7" x2="34.3" y2="331.8" stroke="#111" stroke-width="0.9"/>
<line x1="31.3" y1="328.8" x2="34.3" y2="328.8" stroke="#111" stroke-width="0.8"/>
<text x="28.5" y="331.1" font-size="6.3" text-anchor="end" fill="#333">0.0</text>
<line x1="31.3" y1="320.3" x2="34.3" y2="320.3" stroke="#111" stroke-width="0.8"/>
<text x="28.5" y="322.6" font-size="6.3" text-anchor="end" fill="#333">0.5</text>
<line x1="31.3" y1="311.8" x2="34.3" y2="311.8" stroke="#111" stroke-width="0.8"/>
<text x="28.5" y="314.1" font-size="6.3" text-anchor="end" fill="#333">1.0</text>
<text x="111.6" y="305.5" font-size="8.6" text-anchor="middle" fill="#111" textLength="18.7" lengthAdjust="spacingAndGlyphs">SELL</text>
<path d="M43.5 311.1C43.6 311.9 43.8 314.5 44 315.8C44.2 317.1 44.7 318 45 318.8C45.3 319.6 45.6 320.1 45.7 320.8C45.8 321.5 45.6 322.2 45.5 322.8C45.4 323.4 45.2 323.8 45.3 324.3C45.4 324.8 45.8 325.4 46.3 325.8C46.8 326.2 47.8 326.6 48.5 327C49.2 327.4 50.2 327.6 50.4 328C50.6 328.4 50.6 328.9 49.5 329.3C48.4 329.7 44.5 330.1 43.5 330.3C42.5 330.1 38.6 329.7 37.5 329.3C36.4 328.9 36.4 328.4 36.6 328C36.8 327.6 37.8 327.4 38.5 327C39.2 326.6 40.2 326.2 40.7 325.8C41.2 325.4 41.6 324.8 41.7 324.3C41.8 323.8 41.6 323.4 41.5 322.8C41.4 322.2 41.2 321.5 41.3 320.8C41.4 320.1 41.7 319.6 42 318.8C42.3 318 42.8 317.1 43 315.8C43.2 314.5 43.4 311.9 43.5 311.1Z" fill="#78b045" stroke="#2a2a2a" stroke-width="0.75" stroke-linejoin="round"/>
<path d="M58.6 308C58.7 308.8 59 311.3 59.4 312.8C59.8 314.3 60.3 315.4 60.8 316.8C61.3 318.2 61.9 319.8 62.4 321C62.9 322.2 63.2 323.4 63.6 324.3C64 325.2 64.5 325.8 64.8 326.5C65.1 327.2 65.6 327.8 65.5 328.3C65.4 328.8 65.6 329.3 64.4 329.6C63.3 329.9 59.6 330.2 58.6 330.3C57.6 330.2 54 329.9 52.8 329.6C51.7 329.3 51.8 328.8 51.7 328.3C51.6 327.8 52.1 327.2 52.4 326.5C52.7 325.8 53.2 325.2 53.6 324.3C54 323.4 54.3 322.2 54.8 321C55.3 319.8 55.9 318.2 56.4 316.8C56.9 315.4 57.4 314.3 57.8 312.8C58.2 311.3 58.5 308.8 58.6 308Z" fill="#bdd98a" stroke="#2a2a2a" stroke-width="0.75" stroke-linejoin="round"/>
<path d="M73.7 310.3C73.8 313.1 73.4 324.3 74 327.2C74.6 330.1 76.1 327.7 77.2 327.9C78.3 328.1 80.1 328.3 80.6 328.5C81.1 328.7 81.4 329 80.2 329.2C79 329.4 74.8 329.5 73.7 329.6C72.6 329.5 68.4 329.4 67.2 329.2C66 329 66.3 328.7 66.8 328.5C67.3 328.3 69.1 328.1 70.2 327.9C71.3 327.7 72.8 330.1 73.4 327.2C74 324.3 73.7 313.1 73.7 310.3Z" fill="#6654a8" stroke="#2a2a2a" stroke-width="0.75" stroke-linejoin="round"/>
<path d="M88.8 308.8C88.9 309.5 89.3 311.6 89.6 312.8C89.9 314 90.4 314.9 90.8 315.8C91.2 316.7 91.5 317.2 91.9 318C92.3 318.8 92.9 320 93.3 320.8C93.7 321.6 93.9 321.9 94.2 322.6C94.5 323.4 94.8 324.5 95 325.3C95.2 326.1 95.7 326.5 95.7 327.2C95.8 327.9 96.5 328.8 95.3 329.3C94.1 329.8 89.9 330.1 88.8 330.3C87.7 330.1 83.5 329.8 82.3 329.3C81.1 328.8 81.8 327.9 81.9 327.2C81.9 326.5 82.3 326.1 82.6 325.3C82.8 324.5 83.1 323.4 83.4 322.6C83.7 321.9 83.9 321.6 84.3 320.8C84.7 320 85.3 318.8 85.7 318C86.1 317.2 86.4 316.7 86.8 315.8C87.2 314.9 87.7 314 88 312.8C88.3 311.6 88.7 309.5 88.8 308.8Z" fill="#c8bfe1" stroke="#2a2a2a" stroke-width="0.75" stroke-linejoin="round"/>
<path d="M103.9 313.4C104 315.8 103.7 325.1 104.2 327.5C104.7 329.9 106 327.9 106.9 328.1C107.9 328.3 109.5 328.4 109.9 328.6C110.3 328.8 110.4 329 109.4 329.1C108.4 329.2 104.8 329.4 103.9 329.4C103 329.4 99.4 329.2 98.4 329.1C97.4 329 97.5 328.8 97.9 328.6C98.3 328.4 100 328.3 100.9 328.1C101.9 327.9 103.1 329.9 103.6 327.5C104.1 325.1 103.9 315.8 103.9 313.4Z" fill="#cc4496" stroke="#2a2a2a" stroke-width="0.75" stroke-linejoin="round"/>
<path d="M119 309C119.1 309.5 119.2 310.9 119.5 311.8C119.8 312.7 120.5 313.6 121 314.3C121.5 315.1 122.2 315.6 122.7 316.3C123.2 317.1 123.8 318 124.2 318.8C124.6 319.6 124.9 320.2 124.9 320.9C124.9 321.7 124.4 322.6 124 323.3C123.6 324 122.8 324.8 122.5 325.3C122.2 325.8 122.1 325.9 122.3 326.3C122.5 326.7 123.2 327.4 123.4 327.8C123.6 328.2 124.3 328.6 123.6 329C122.9 329.4 119.8 329.8 119 330C118.2 329.8 115.1 329.4 114.4 329C113.7 328.6 114.4 328.2 114.6 327.8C114.8 327.4 115.5 326.7 115.7 326.3C115.9 325.9 115.8 325.8 115.5 325.3C115.2 324.8 114.4 324 114 323.3C113.6 322.6 113.1 321.7 113.1 320.9C113.1 320.2 113.4 319.6 113.8 318.8C114.2 318 114.8 317.1 115.3 316.3C115.8 315.6 116.5 315.1 117 314.3C117.5 313.6 118.2 312.7 118.5 311.8C118.8 310.9 118.9 309.5 119 309Z" fill="#dc9ec8" stroke="#2a2a2a" stroke-width="0.75" stroke-linejoin="round"/>
<path d="M134.1 308C134.2 309.5 134.3 314.3 134.5 316.8C134.7 319.3 134.8 321.5 135 322.8C135.2 324.1 135.2 324.2 135.6 324.8C136 325.4 136.8 325.8 137.6 326.3C138.3 326.8 139.6 327.2 140.1 327.6C140.6 328 140.7 328.5 140.5 328.8C140.3 329.1 140.2 329.4 139.1 329.6C138 329.8 134.9 329.9 134.1 330C133.3 329.9 130.2 329.8 129.1 329.6C128 329.4 127.9 329.1 127.7 328.8C127.5 328.5 127.6 328 128.1 327.6C128.6 327.2 129.8 326.8 130.6 326.3C131.3 325.8 132.2 325.4 132.6 324.8C133 324.2 133 324.1 133.2 322.8C133.4 321.5 133.5 319.3 133.7 316.8C133.8 314.3 134 309.5 134.1 308Z" fill="#b9bdc4" stroke="#2a2a2a" stroke-width="0.75" stroke-linejoin="round"/>
<path d="M149.2 306.2C149.4 306.8 149.7 308.7 150.2 309.8C150.7 310.9 151.3 311.7 152 312.8C152.7 313.9 153.7 315.3 154.3 316.3C154.9 317.3 155.2 318 155.4 318.8C155.6 319.6 155.7 320.1 155.6 320.9C155.5 321.7 155.1 322.9 154.7 323.8C154.3 324.7 153.5 325.6 153 326.3C152.5 327.1 152.2 327.6 151.7 328.3C151.2 329 150.6 329.7 150.2 330.3C149.8 330.9 149.4 331.6 149.2 331.8C149 331.6 148.6 330.9 148.2 330.3C147.8 329.7 147.2 329 146.7 328.3C146.2 327.6 145.9 327.1 145.4 326.3C144.9 325.6 144.1 324.7 143.7 323.8C143.3 322.9 142.9 321.7 142.8 320.9C142.7 320.1 142.8 319.6 143 318.8C143.2 318 143.5 317.3 144.1 316.3C144.7 315.3 145.7 313.9 146.4 312.8C147.1 311.7 147.7 310.9 148.2 309.8C148.7 308.7 149 306.8 149.2 306.2Z" fill="#6d7279" stroke="#2a2a2a" stroke-width="0.75" stroke-linejoin="round"/>
<path d="M164.3 309C164.4 310.8 164.5 317.3 164.7 319.8C164.9 322.3 165.1 322.9 165.3 323.8C165.5 324.7 165.6 324.8 166.1 325.3C166.6 325.8 167.5 326.2 168.3 326.6C169.1 327 170.4 327.4 170.7 327.8C171 328.2 171.4 328.7 170.3 329.1C169.2 329.5 165.3 329.9 164.3 330C163.3 329.9 159.4 329.5 158.3 329.1C157.2 328.7 157.6 328.2 157.9 327.8C158.2 327.4 159.5 327 160.3 326.6C161.1 326.2 162 325.8 162.5 325.3C163 324.8 163.1 324.7 163.3 323.8C163.5 322.9 163.7 322.3 163.9 319.8C164.1 317.3 164.2 310.8 164.3 309Z" fill="#d2823a" stroke="#2a2a2a" stroke-width="0.75" stroke-linejoin="round"/>
<path d="M179.4 309C179.5 310 179.9 313.2 180.2 314.8C180.5 316.4 180.9 317.6 181.2 318.8C181.5 320 181.7 321 182.1 321.8C182.5 322.6 182.8 323.1 183.4 323.8C184 324.6 185.3 325.6 185.8 326.3C186.3 327.1 186.5 327.8 186.3 328.3C186.2 328.9 186.1 329.2 184.9 329.6C183.8 330 180.3 330.4 179.4 330.5C178.5 330.4 175.1 330 173.9 329.6C172.8 329.2 172.7 328.9 172.5 328.3C172.3 327.8 172.5 327.1 173 326.3C173.5 325.6 174.8 324.6 175.4 323.8C176 323.1 176.3 322.6 176.7 321.8C177.1 321 177.3 320 177.6 318.8C177.9 317.6 178.3 316.4 178.6 314.8C178.9 313.2 179.3 310 179.4 309Z" fill="#e2b440" stroke="#2a2a2a" stroke-width="0.75" stroke-linejoin="round"/>
<line x1="33.9" y1="331.8" x2="188.6" y2="331.8" stroke="#111" stroke-width="0.9"/>
<line x1="43.5" y1="331.8" x2="43.5" y2="334.6" stroke="#111" stroke-width="0.8"/>
<text x="43.5" y="343.4" font-size="6.2" text-anchor="middle" fill="#333">C1</text>
<line x1="58.6" y1="331.8" x2="58.6" y2="334.6" stroke="#111" stroke-width="0.8"/>
<text x="58.6" y="343.4" font-size="6.2" text-anchor="middle" fill="#333">C2</text>
<line x1="73.7" y1="331.8" x2="73.7" y2="334.6" stroke="#111" stroke-width="0.8"/>
<text x="73.7" y="343.4" font-size="6.2" text-anchor="middle" fill="#333">C3</text>
<line x1="88.8" y1="331.8" x2="88.8" y2="334.6" stroke="#111" stroke-width="0.8"/>
<text x="88.8" y="343.4" font-size="6.2" text-anchor="middle" fill="#333">C4</text>
<line x1="103.9" y1="331.8" x2="103.9" y2="334.6" stroke="#111" stroke-width="0.8"/>
<text x="103.9" y="343.4" font-size="6.2" text-anchor="middle" fill="#333">C5</text>
<line x1="119" y1="331.8" x2="119" y2="334.6" stroke="#111" stroke-width="0.8"/>
<text x="119" y="343.4" font-size="6.2" text-anchor="middle" fill="#333">C6</text>
<line x1="134.1" y1="331.8" x2="134.1" y2="334.6" stroke="#111" stroke-width="0.8"/>
<text x="134.1" y="343.4" font-size="6.2" text-anchor="middle" fill="#333">C7</text>
<line x1="149.2" y1="331.8" x2="149.2" y2="334.6" stroke="#111" stroke-width="0.8"/>
<text x="149.2" y="343.4" font-size="6.2" text-anchor="middle" fill="#333">C8</text>
<line x1="164.3" y1="331.8" x2="164.3" y2="334.6" stroke="#111" stroke-width="0.8"/>
<text x="164.3" y="343.4" font-size="6.2" text-anchor="middle" fill="#333">C9</text>
<line x1="179.4" y1="331.8" x2="179.4" y2="334.6" stroke="#111" stroke-width="0.8"/>
<text x="179.4" y="343.4" font-size="6.2" text-anchor="middle" fill="#333">C10</text>
<text x="111.5" y="357" font-size="8.4" text-anchor="middle" fill="#111" textLength="18" lengthAdjust="spacingAndGlyphs" stroke="#111" stroke-width="0.38">Cluster</text>
<text x="0" y="0" font-size="8.2" text-anchor="middle" fill="#111" textLength="64" lengthAdjust="spacingAndGlyphs" transform="translate(14.8 266.2) rotate(-90)" stroke="#111" stroke-width="0.38">Log normalized expression</text>
<text x="197.9" y="206.3" font-size="6.3" font-weight="bold" textLength="14.9" lengthAdjust="spacingAndGlyphs">tSNE</text>
<text x="197.9" y="213.1" font-size="6.3" font-weight="bold" textLength="20.4" lengthAdjust="spacingAndGlyphs">Cluster</text>
<rect x="197.4" y="216.3" width="10" height="10" fill="#78b045" stroke="#333" stroke-width="0.7"/>
<text x="210.5" y="223.4" font-size="5.3" fill="#333">C1</text>
<rect x="197.4" y="228" width="10" height="10" fill="#bdd98a" stroke="#333" stroke-width="0.7"/>
<text x="210.5" y="235.1" font-size="5.3" fill="#333">C2</text>
<rect x="197.4" y="239.6" width="10" height="10" fill="#6654a8" stroke="#333" stroke-width="0.7"/>
<text x="210.5" y="246.7" font-size="5.3" fill="#333">C3</text>
<rect x="197.4" y="251.2" width="10" height="10" fill="#c8bfe1" stroke="#333" stroke-width="0.7"/>
<text x="210.5" y="258.4" font-size="5.3" fill="#333">C4</text>
<rect x="197.4" y="262.9" width="10" height="10" fill="#cc4496" stroke="#333" stroke-width="0.7"/>
<text x="210.5" y="270" font-size="5.3" fill="#333">C5</text>
<rect x="197.4" y="274.6" width="10" height="10" fill="#dc9ec8" stroke="#333" stroke-width="0.7"/>
<text x="210.5" y="281.7" font-size="5.3" fill="#333">C6</text>
<rect x="197.4" y="286.2" width="10" height="10" fill="#b9bdc4" stroke="#333" stroke-width="0.7"/>
<text x="210.5" y="293.3" font-size="5.3" fill="#333">C7</text>
<rect x="197.4" y="297.9" width="10" height="10" fill="#6d7279" stroke="#333" stroke-width="0.7"/>
<text x="210.5" y="305" font-size="5.3" fill="#333">C8</text>
<rect x="197.4" y="309.5" width="10" height="10" fill="#d2823a" stroke="#333" stroke-width="0.7"/>
<text x="210.5" y="316.6" font-size="5.3" fill="#333">C9</text>
<rect x="197.4" y="321.2" width="10" height="10" fill="#e2b440" stroke="#333" stroke-width="0.7"/>
<text x="210.5" y="328.3" font-size="5.3" fill="#333">C10</text>
<line x1="275.6" y1="195.1" x2="275.6" y2="250.1" stroke="#111" stroke-width="1.1"/>
<line x1="275.1" y1="249.6" x2="361.3" y2="249.6" stroke="#111" stroke-width="1.1"/>
<line x1="272.6" y1="247.7" x2="275.6" y2="247.7" stroke="#111" stroke-width="0.8"/>
<text x="267.9" y="249.9" font-size="6.3" text-anchor="end" fill="#333">0</text>
<line x1="272.6" y1="234.6" x2="275.6" y2="234.6" stroke="#111" stroke-width="0.8"/>
<text x="267.9" y="236.8" font-size="6.3" text-anchor="end" fill="#333">1</text>
<line x1="272.6" y1="221.5" x2="275.6" y2="221.5" stroke="#111" stroke-width="0.8"/>
<text x="267.9" y="223.7" font-size="6.3" text-anchor="end" fill="#333">2</text>
<line x1="272.6" y1="208.4" x2="275.6" y2="208.4" stroke="#111" stroke-width="0.8"/>
<text x="267.9" y="210.6" font-size="6.3" text-anchor="end" fill="#333">3</text>
<text x="0" y="0" font-size="7.4" text-anchor="middle" fill="#111" textLength="32.9" lengthAdjust="spacingAndGlyphs" transform="translate(248.8 222.5) rotate(-90)" stroke="#111" stroke-width="0.38">Treg-specific</text>
<text x="0" y="0" font-size="7.4" text-anchor="middle" fill="#111" textLength="37.8" lengthAdjust="spacingAndGlyphs" transform="translate(257 222.3) rotate(-90)" stroke="#111" stroke-width="0.38">gene-set score</text>
<line x1="291.5" y1="249.6" x2="291.5" y2="251.5" stroke="#231f20" stroke-width="0.7"/>
<line x1="318.2" y1="249.6" x2="318.2" y2="251.5" stroke="#231f20" stroke-width="0.7"/>
<line x1="345.4" y1="249.6" x2="345.4" y2="251.5" stroke="#231f20" stroke-width="0.7"/>
<path d="M290.8 199.6V197.7H345.4V199.6" fill="none" stroke="#111" stroke-width="0.9"/>
<path d="M317.7 202.5V200.6H345.4V202.5" fill="none" stroke="#111" stroke-width="0.9"/>
<path d="M291.5 202.5C291.7 202.9 292.2 203.9 292.7 205C293.2 206.1 293.6 207.9 294.7 209.2C295.8 210.5 297.8 211.4 299.1 213C300.4 214.6 301.6 217.1 302.3 218.8C303 220.5 302.9 221.4 303.1 223C303.3 224.6 303.4 227 303.3 228.5C303.2 230 302.9 230.7 302.5 232C302.1 233.3 301.3 235 300.6 236.2C299.9 237.4 299.3 238.2 298.5 239C297.7 239.8 296.5 240.4 295.7 241C294.9 241.6 294.2 242.1 293.7 242.6C293.2 243.1 292.8 243.4 292.8 243.8C292.8 244.2 293.1 244.6 293.5 245C293.9 245.4 294.7 246.1 295 246.5C295.3 246.9 296.1 247.4 295.5 247.7C294.9 247.9 292.2 247.9 291.5 248C290.8 247.9 288.1 247.9 287.5 247.7C286.9 247.4 287.7 246.9 288 246.5C288.3 246.1 289.1 245.4 289.5 245C289.9 244.6 290.2 244.2 290.2 243.8C290.2 243.4 289.8 243.1 289.3 242.6C288.8 242.1 288.1 241.6 287.3 241C286.5 240.4 285.3 239.8 284.5 239C283.7 238.2 283.1 237.4 282.4 236.2C281.7 235 280.9 233.3 280.5 232C280.1 230.7 279.8 230 279.7 228.5C279.6 227 279.7 224.6 279.9 223C280.1 221.4 280 220.5 280.7 218.8C281.4 217.1 282.6 214.6 283.9 213C285.2 211.4 287.2 210.5 288.3 209.2C289.4 207.9 289.8 206.1 290.3 205C290.8 203.9 291.3 202.9 291.5 202.5Z" fill="#8c3f93" stroke="#111" stroke-width="0.9" stroke-linejoin="round"/>
<path d="M318.4 203.5C318.6 203.9 319.1 205.1 319.6 206C320.1 206.9 320.4 207.8 321.2 209C322 210.2 323 211.4 324.2 213C325.4 214.6 327.4 217.1 328.4 218.8C329.4 220.5 330 221.9 330.4 223C330.8 224.1 330.7 224.7 330.5 225.5C330.3 226.3 329.9 227.2 329.4 228C328.9 228.8 328.1 229.6 327.4 230.4C326.6 231.2 325.8 232 324.9 233C324 234 322.9 235.2 322.2 236.2C321.5 237.2 321 238.2 320.6 239C320.2 239.8 320 240.3 319.8 241C319.6 241.7 319.5 242.3 319.5 243C319.5 243.7 319.8 244.4 320 245C320.2 245.6 320.6 246.3 320.7 246.8C320.8 247.3 321.2 247.6 320.8 247.8C320.4 248 318.8 248 318.4 248C318 248 316.4 248 316 247.8C315.6 247.6 316 247.3 316.1 246.8C316.2 246.3 316.6 245.6 316.8 245C317 244.4 317.3 243.7 317.3 243C317.3 242.3 317.2 241.7 317 241C316.8 240.3 316.6 239.8 316.2 239C315.8 238.2 315.3 237.2 314.6 236.2C313.9 235.2 312.8 234 311.9 233C311 232 310.1 231.2 309.4 230.4C308.6 229.6 307.9 228.8 307.4 228C306.9 227.2 306.5 226.3 306.3 225.5C306.1 224.7 306 224.1 306.4 223C306.8 221.9 307.4 220.5 308.4 218.8C309.4 217.1 311.4 214.6 312.6 213C313.8 211.4 314.8 210.2 315.6 209C316.4 207.8 316.7 206.9 317.2 206C317.7 205.1 318.2 203.9 318.4 203.5Z" fill="#5ba54e" stroke="#111" stroke-width="0.9" stroke-linejoin="round"/>
<path d="M345 209.2C345.1 210.2 345.3 212.9 345.5 215C345.7 217.1 345.8 219.8 346 222C346.2 224.2 346.3 226.3 346.5 228C346.7 229.7 346.9 230.8 347.2 232C347.5 233.2 347.9 234.5 348.2 235.5C348.5 236.5 348.9 237.2 349 238C349.1 238.8 348.9 239.3 348.8 240C348.7 240.7 348.2 241.3 348.2 242C348.1 242.7 348 243.4 348.5 244C349 244.6 349.9 244.9 351 245.3C352.1 245.7 353.8 245.9 355 246.2C356.2 246.5 357.7 246.6 358 246.9C358.3 247.2 359.2 247.6 357 247.8C354.8 248 347 248 345 248C343 248 335.2 248 333 247.8C330.8 247.6 331.7 247.2 332 246.9C332.3 246.6 333.8 246.5 335 246.2C336.2 245.9 337.9 245.7 339 245.3C340.1 244.9 341 244.6 341.5 244C342 243.4 341.9 242.7 341.8 242C341.8 241.3 341.3 240.7 341.2 240C341.1 239.3 340.9 238.8 341 238C341.1 237.2 341.5 236.5 341.8 235.5C342.1 234.5 342.5 233.2 342.8 232C343.1 230.8 343.3 229.7 343.5 228C343.7 226.3 343.8 224.2 344 222C344.2 219.8 344.3 217.1 344.5 215C344.7 212.9 344.9 210.2 345 209.2Z" fill="#111" stroke="#111" stroke-width="0.6" stroke-linejoin="round"/>
<line x1="291.5" y1="204.5" x2="291.5" y2="246.5" stroke="#111" stroke-width="0.7"/>
<rect x="290.2" y="219.8" width="2.5" height="13.5" fill="#fff" rx="1" stroke="#111" stroke-width="0.6"/>
<line x1="290.2" y1="226.5" x2="292.8" y2="226.5" stroke="#111" stroke-width="0.7"/>
<line x1="318.4" y1="206" x2="318.4" y2="246.5" stroke="#111" stroke-width="0.7"/>
<rect x="317.1" y="219.8" width="2.5" height="10.6" fill="#fff" rx="1" stroke="#111" stroke-width="0.6"/>
<line x1="317.1" y1="225.1" x2="319.6" y2="225.1" stroke="#111" stroke-width="0.7"/>
<line x1="345" y1="211" x2="345" y2="247.5" stroke="#111" stroke-width="0.7"/>
<rect x="343.8" y="233.3" width="2.5" height="14.2" fill="#fff" rx="1" stroke="#111" stroke-width="0.6"/>
<line x1="343.8" y1="239.5" x2="346.2" y2="239.5" stroke="#111" stroke-width="0.7"/>
<circle cx="287.7" cy="255.7" r="2.4" fill="#5a4098"/>
<circle cx="294.4" cy="255.7" r="2.4" fill="#c3b4db"/>
<circle cx="314.6" cy="255.7" r="2.4" fill="#5e9c47"/>
<circle cx="321.2" cy="255.7" r="2.4" fill="#a9ca5c"/>
<circle cx="338.5" cy="254.9" r="2.4" fill="#c8268a"/>
<circle cx="345.3" cy="254.9" r="2.4" fill="#d98cc0"/>
<circle cx="352" cy="254.9" r="2.4" fill="#afb0b2"/>
<circle cx="338.5" cy="261.1" r="2.4" fill="#5e6163"/>
<circle cx="345.3" cy="261.1" r="2.4" fill="#c0662b"/>
<circle cx="352" cy="261.1" r="2.4" fill="#d9a83b"/>
<path d="M286.2 260.3Q286.2 262.3 287.7 262.3Q290.2 262.3 291.2 263.6Q292.2 262.3 294.7 262.3Q296.2 262.3 296.2 260.3" fill="none" stroke="#333" stroke-width="0.6"/>
<path d="M313 260.3Q313 262.3 314.5 262.3Q317.1 262.3 318.1 263.6Q319.1 262.3 321.7 262.3Q323.2 262.3 323.2 260.3" fill="none" stroke="#333" stroke-width="0.6"/>
<path d="M337 264.4Q337 266.3 338.5 266.3Q344.3 266.3 345.3 267.6Q346.3 266.3 352.1 266.3Q353.6 266.3 353.6 264.4" fill="none" stroke="#333" stroke-width="0.6"/>
<text x="0" y="0" font-size="6.1" fill="#333" textLength="33.8" lengthAdjust="spacingAndGlyphs" transform="translate(290.2 267.9) rotate(45)">endogenous</text>
<text x="0" y="0" font-size="6.1" fill="#333" textLength="37.5" lengthAdjust="spacingAndGlyphs" transform="translate(285.6 272.6) rotate(45)">Treg (C3,C4)</text>
<text x="0" y="0" font-size="6.1" fill="#333" textLength="32.5" lengthAdjust="spacingAndGlyphs" transform="translate(315.4 267.2) rotate(45)">transferred</text>
<text x="0" y="0" font-size="6.1" fill="#333" textLength="37.5" lengthAdjust="spacingAndGlyphs" transform="translate(310.8 271.9) rotate(45)">Treg (C1,C2)</text>
<text x="0" y="0" font-size="6.1" fill="#333" textLength="16.5" lengthAdjust="spacingAndGlyphs" transform="translate(345.2 269.4) rotate(45)">Tconv</text>
<text x="0" y="0" font-size="6.1" fill="#333" textLength="27" lengthAdjust="spacingAndGlyphs" transform="translate(340.6 274.1) rotate(45)">(C5-C10)</text>
<line x1="309.1" y1="344" x2="309.1" y2="386.5" stroke="#f2f2f2" stroke-width="0.4"/>
<line x1="337.7" y1="344" x2="337.7" y2="386.5" stroke="#f2f2f2" stroke-width="0.4"/>
<line x1="275.6" y1="343.5" x2="275.6" y2="414.6" stroke="#111" stroke-width="1.0"/>
<line x1="275.1" y1="414.1" x2="378.8" y2="414.1" stroke="#111" stroke-width="1.0"/>
<line x1="272.8" y1="347.2" x2="275.6" y2="347.2" stroke="#111" stroke-width="0.8"/>
<text x="270.2" y="349.5" font-size="6.6" text-anchor="end" fill="#333">0.9</text>
<line x1="272.8" y1="360.6" x2="275.6" y2="360.6" stroke="#111" stroke-width="0.8"/>
<text x="270.2" y="362.9" font-size="6.6" text-anchor="end" fill="#333">0.6</text>
<line x1="272.8" y1="374" x2="275.6" y2="374" stroke="#111" stroke-width="0.8"/>
<text x="270.2" y="376.3" font-size="6.6" text-anchor="end" fill="#333">0.3</text>
<line x1="272.8" y1="387.4" x2="275.6" y2="387.4" stroke="#111" stroke-width="0.8"/>
<text x="270.2" y="389.7" font-size="6.6" text-anchor="end" fill="#333">0.0</text>
<line x1="272.8" y1="400.8" x2="275.6" y2="400.8" stroke="#111" stroke-width="0.8"/>
<text x="270.2" y="403.1" font-size="6.6" text-anchor="end" fill="#333">-0.3</text>
<line x1="280.5" y1="414.1" x2="280.5" y2="416.8" stroke="#111" stroke-width="0.8"/>
<text x="280.5" y="426.4" font-size="6.6" text-anchor="middle" fill="#333">0</text>
<line x1="309.1" y1="414.1" x2="309.1" y2="416.8" stroke="#111" stroke-width="0.8"/>
<text x="309.1" y="426.4" font-size="6.6" text-anchor="middle" fill="#333">5</text>
<line x1="337.7" y1="414.1" x2="337.7" y2="416.8" stroke="#111" stroke-width="0.8"/>
<text x="337.7" y="426.4" font-size="6.6" text-anchor="middle" fill="#333">10</text>
<line x1="366.3" y1="414.1" x2="366.3" y2="416.8" stroke="#111" stroke-width="0.8"/>
<text x="366.3" y="426.4" font-size="6.6" text-anchor="middle" fill="#333">15</text>
<text x="333.8" y="437.8" font-size="8.4" text-anchor="middle" fill="#111" textLength="14.4" lengthAdjust="spacingAndGlyphs" stroke="#111" stroke-width="0.38">Rank</text>
<text x="0" y="0" font-size="7.4" text-anchor="middle" fill="#111" textLength="44" lengthAdjust="spacingAndGlyphs" transform="translate(244 378.8) rotate(-90)" stroke="#111" stroke-width="0.38">Enrichment score</text>
<text x="0" y="0" font-size="7.4" text-anchor="middle" fill="#111" textLength="60.6" lengthAdjust="spacingAndGlyphs" transform="translate(253.9 378.4) rotate(-90)" stroke="#111" stroke-width="0.38">(Treg specific gene-set)</text>
<line x1="277.2" y1="387.4" x2="378.6" y2="387.4" stroke="#444" stroke-width="0.9"/>
<line x1="277.2" y1="388.7" x2="378.6" y2="388.7" stroke="#555" stroke-width="1.3" stroke-dasharray="3 2.6"/>
<path d="M283.3 391.3V395.5M284 391.3V395.5M286.3 391.3V395.5M283.4 391.3V395.5M283.7 391.3V395.5M284.2 391.3V395.5M281.7 391.3V395.5M283.7 391.3V395.5M284.5 391.3V395.5M285.5 391.3V395.5M281.1 391.3V395.5M282.4 391.3V395.5M281.1 391.3V395.5M285.6 391.3V395.5M284.9 391.3V395.5M280.8 391.3V395.5M286.7 391.3V395.5M286.6 391.3V395.5M284.6 391.3V395.5M284.4 391.3V395.5M281.5 391.3V395.5M280.6 391.3V395.5M283.8 391.3V395.5M280.9 391.3V395.5M281.7 391.3V395.5M282 391.3V395.5M280.7 391.3V395.5M283.4 391.3V395.5M326 393V397.6M360.7 393V397.6M332.8 393V397.6M343.2 393V397.6M331.1 393V397.6M345.2 393V397.6M327.4 393V397.6M312 393V397.6M374.1 393V397.6M373.9 393V397.6M360.5 393V397.6M349.1 393V397.6M315.2 393V397.6M307.8 393V397.6M312.9 393V397.6M294 393V397.6M354.1 393V397.6M322.5 393V397.6M361.1 393V397.6M321.3 393V397.6M370.7 393V397.6M361.1 393V397.6" stroke="#9b3fa0" stroke-width="0.6" opacity="0.75"/>
<path d="M280.5 395.3V403.3M282.1 395.3V403.3M287.3 395.3V403.3M284 395.3V403.3M287.8 395.3V403.3M283.5 395.3V403.3M281 395.3V403.3M285.2 395.3V403.3M286.3 395.3V403.3M282.5 395.3V403.3M281.1 395.3V403.3M283 395.3V403.3M287.7 395.3V403.3M286.1 395.3V403.3M281.4 395.3V403.3M282.3 395.3V403.3M281.3 395.3V403.3M280.9 395.3V403.3M286.4 395.3V403.3M281.8 395.3V403.3M284.7 395.3V403.3M283.8 395.3V403.3M281.9 395.3V403.3M285.9 395.3V403.3M281.5 395.3V403.3M285.3 395.3V403.3M281.4 395.3V403.3M283.6 395.3V403.3M282.1 395.3V403.3M282.5 395.3V403.3M371.8 397V402.3M357.3 397V402.3M314.2 397V402.3M364.4 397V402.3M306.1 397V402.3M322 397V402.3M361.7 397V402.3M343.4 397V402.3M296.6 397V402.3M373.4 397V402.3M306.4 397V402.3M310.2 397V402.3M354.7 397V402.3M316.3 397V402.3M313.5 397V402.3M294.3 397V402.3M295.7 397V402.3M338.3 397V402.3M308.9 397V402.3M339.9 397V402.3M320 397V402.3M327.1 397V402.3M370.8 397V402.3M329.7 397V402.3M337.6 397V402.3M362.8 397V402.3M303.7 397V402.3M301.2 397V402.3M366.4 397V402.3M358.6 397V402.3M309.5 397V402.3M304.3 397V402.3M351.8 397V402.3M369.2 397V402.3" stroke="#4fa040" stroke-width="0.6" opacity="0.7"/>
<rect x="279.4" y="391.2" width="7.4" height="4.3" fill="#9b3fa0" opacity="0.55"/>
<rect x="279.4" y="395.3" width="8.6" height="8" fill="#56a545" opacity="0.5"/>
<path d="M279.4 404.6C300 407 330 408.5 360 409L374.8 409.3V409.8H279.4Z" fill="#000"/>
<path d="M360 409.3L374.8 409.3L374.8 414Z" fill="#000"/>
<path d="M279.4 409.8H374.8" stroke="#bbb" stroke-width="0.6"/>
<text x="379.2" y="405.6" font-size="6.8" fill="#333">Up</text>
<text x="379.2" y="413" font-size="6.8" fill="#333" textLength="15.4" lengthAdjust="spacingAndGlyphs">Tconv</text>
<text x="272.5" y="409.6" font-size="6.8" text-anchor="end" fill="#333">Up</text>
<text x="272.5" y="417.5" font-size="6.8" text-anchor="end" fill="#333" textLength="11" lengthAdjust="spacingAndGlyphs">Treg</text>
<text x="272.5" y="425.5" font-size="6.8" text-anchor="end" fill="#333" textLength="42.3" lengthAdjust="spacingAndGlyphs">(endogenous or</text>
<text x="272.5" y="432.9" font-size="6.8" text-anchor="end" fill="#333" textLength="31" lengthAdjust="spacingAndGlyphs">transferred)</text>
<path d="M279.7 388 L280.1 376 L281 366 L282.5 358.5 L284.5 354.6 L287.5 352.6 L372.8 389.4" fill="none" stroke="#4e9f3d" stroke-width="0.8" stroke-linejoin="round" opacity="1"/>
<path d="M290.1 353.7h0M297.5 356.9h0M304.9 360.1h0M308.1 361.5h0M315.5 364.7h0M322.9 367.9h0M327.1 369.7h0M332.4 372h0M334.5 372.9h0M338.8 374.7h0M343 376.5h0M346.2 377.9h0M350.4 379.7h0M353.6 381.1h0M356.7 382.5h0M360.5 384.1h0M364.1 385.6h0M367.3 387h0M370.5 388.4h0" stroke="#4e9f3d" stroke-width="2.3" stroke-linecap="round"/>
<path d="M279.5 388 L279.7 377 L280.2 365 L281 357 L282.3 351.5 L284 349.2 L286.2 348.4 L374.2 388.8" fill="none" stroke="#8b2c96" stroke-width="0.8" stroke-linejoin="round" opacity="1"/>
<path d="M289.5 349.9h0M295 352.4h0M298.6 354.1h0M307 357.9h0M314.4 361.3h0M318.2 363.1h0M326 366.7h0M330.7 368.8h0M337.7 372h0M345.1 375.4h0M347.2 376.4h0M355.7 380.3h0M361 382.7h0M366.3 385.2h0M369.4 386.6h0M373.7 388.6h0" stroke="#8b2c96" stroke-width="2.3" stroke-linecap="round"/>
<path d="M279.4 388 L279.7 375 L280.5 364 L282 357 L284.5 354 L287.5 352.6" fill="none" stroke="#8fae8c" stroke-width="1.3" stroke-linejoin="round" opacity="1"/>
<path d="M280.5 364.1h0M281.4 359.6h0M281.9 357.6h0M285.5 353.5h0M281.4 359.7h0M284.8 353.9h0M279.4 386.9h0M280.1 370.1h0M285.5 353.5h0M280.7 363.1h0" stroke="#6aa060" stroke-width="1.9" stroke-linecap="round" opacity="1"/>
<path d="M279.2 388 L279.4 372 L280 360 L281 353.5 L283 350.3 L286 348.6" fill="none" stroke="#ab9ec6" stroke-width="2.0" stroke-linejoin="round" opacity="1"/>
<path d="M282.6 350.9h0M279.3 383.3h0M279.6 368.4h0M279.3 377.7h0M279.7 365.3h0M279.8 364h0M279.2 387.5h0M279.3 378.9h0M279.3 376.3h0M283 350.3h0M280.6 356h0M279.3 381.3h0" stroke="#9d8ebf" stroke-width="2" stroke-linecap="round" opacity="1"/>
<path d="M371 388.4 L376.5 390" fill="none" stroke="#a898c0" stroke-width="1.4" stroke-linejoin="round" opacity="1"/>
<line x1="296.9" y1="333.8" x2="306.4" y2="333.8" stroke="#8b2c96" stroke-width="0.9"/>
<circle cx="301.6" cy="333.8" r="1" fill="#8b2c96"/>
<text x="309" y="335.6" font-size="6.4" fill="#333" textLength="39.8" lengthAdjust="spacingAndGlyphs">endogenous Treg</text>
<line x1="296.9" y1="341.6" x2="306.4" y2="341.6" stroke="#4e9f3d" stroke-width="0.9"/>
<circle cx="301.6" cy="341.6" r="1" fill="#4e9f3d"/>
<text x="309" y="343.4" font-size="6.4" fill="#333" textLength="36.4" lengthAdjust="spacingAndGlyphs">transferred Treg</text>
<text x="358.2" y="336.4" font-size="6.6" fill="#333">(</text>
<circle cx="363.6" cy="334.3" r="2.4" fill="#5a4098"/>
<circle cx="370" cy="334.3" r="2.4" fill="#c3b4db"/>
<text x="372.8" y="336.4" font-size="6.6" fill="#333">)</text>
<text x="356.4" y="344.2" font-size="6.6" fill="#333">(</text>
<circle cx="361.1" cy="342.1" r="2.4" fill="#5e9c47"/>
<circle cx="367.4" cy="342.1" r="2.4" fill="#a9ca5c"/>
<text x="370.2" y="344.2" font-size="6.6" fill="#333">)</text>
<line x1="396.4" y1="195.2" x2="396.4" y2="327.8" stroke="#111" stroke-width="1.1"/>
<line x1="395.9" y1="327.2" x2="435.2" y2="327.2" stroke="#111" stroke-width="1.1"/>
<line x1="393.4" y1="321.7" x2="396.4" y2="321.7" stroke="#111" stroke-width="0.8"/>
<text x="390.6" y="323.9" font-size="6.3" text-anchor="end" fill="#333">0</text>
<line x1="393.4" y1="297.8" x2="396.4" y2="297.8" stroke="#111" stroke-width="0.8"/>
<text x="390.6" y="300" font-size="6.3" text-anchor="end" fill="#333">1</text>
<line x1="393.4" y1="273.9" x2="396.4" y2="273.9" stroke="#111" stroke-width="0.8"/>
<text x="390.6" y="276.1" font-size="6.3" text-anchor="end" fill="#333">2</text>
<line x1="393.4" y1="250" x2="396.4" y2="250" stroke="#111" stroke-width="0.8"/>
<text x="390.6" y="252.2" font-size="6.3" text-anchor="end" fill="#333">3</text>
<line x1="393.4" y1="226.1" x2="396.4" y2="226.1" stroke="#111" stroke-width="0.8"/>
<text x="390.6" y="228.3" font-size="6.3" text-anchor="end" fill="#333">4</text>
<line x1="393.4" y1="202.2" x2="396.4" y2="202.2" stroke="#111" stroke-width="0.8"/>
<text x="390.6" y="204.4" font-size="6.3" text-anchor="end" fill="#333">5</text>
<text x="0" y="0" font-size="7.4" text-anchor="middle" fill="#111" textLength="74.5" lengthAdjust="spacingAndGlyphs" transform="translate(381.2 260.5) rotate(-90)" stroke="#111" stroke-width="0.38">aTreg-specific gene-set score</text>
<line x1="407.6" y1="327.2" x2="407.6" y2="330.2" stroke="#111" stroke-width="0.8"/>
<text x="407.6" y="339.2" font-size="6.6" text-anchor="middle" fill="#333">C3</text>
<circle cx="407.6" cy="346.3" r="2.4" fill="#5a4098"/>
<line x1="425.6" y1="327.2" x2="425.6" y2="330.2" stroke="#111" stroke-width="0.8"/>
<text x="425.6" y="339.2" font-size="6.6" text-anchor="middle" fill="#333">C4</text>
<circle cx="425.6" cy="346.3" r="2.4" fill="#c3b4db"/>
<line x1="461.3" y1="195.2" x2="461.3" y2="327.8" stroke="#111" stroke-width="1.1"/>
<line x1="460.8" y1="327.2" x2="499.8" y2="327.2" stroke="#111" stroke-width="1.1"/>
<line x1="458.3" y1="322" x2="461.3" y2="322" stroke="#111" stroke-width="0.8"/>
<text x="455.5" y="324.2" font-size="6.3" text-anchor="end" fill="#333">0</text>
<line x1="458.3" y1="295.4" x2="461.3" y2="295.4" stroke="#111" stroke-width="0.8"/>
<text x="455.5" y="297.6" font-size="6.3" text-anchor="end" fill="#333">1</text>
<line x1="458.3" y1="268.7" x2="461.3" y2="268.7" stroke="#111" stroke-width="0.8"/>
<text x="455.5" y="270.9" font-size="6.3" text-anchor="end" fill="#333">2</text>
<line x1="458.3" y1="242.1" x2="461.3" y2="242.1" stroke="#111" stroke-width="0.8"/>
<text x="455.5" y="244.2" font-size="6.3" text-anchor="end" fill="#333">3</text>
<line x1="458.3" y1="215.4" x2="461.3" y2="215.4" stroke="#111" stroke-width="0.8"/>
<text x="455.5" y="217.6" font-size="6.3" text-anchor="end" fill="#333">4</text>
<text x="0" y="0" font-size="7.4" text-anchor="middle" fill="#111" textLength="74.5" lengthAdjust="spacingAndGlyphs" transform="translate(447.2 261.7) rotate(-90)" stroke="#111" stroke-width="0.38">rTreg-specific gene-set score</text>
<line x1="472.4" y1="327.2" x2="472.4" y2="330.2" stroke="#111" stroke-width="0.8"/>
<text x="472.4" y="339.2" font-size="6.6" text-anchor="middle" fill="#333">C3</text>
<circle cx="472.4" cy="346.3" r="2.4" fill="#5a4098"/>
<line x1="490.6" y1="327.2" x2="490.6" y2="330.2" stroke="#111" stroke-width="0.8"/>
<text x="490.6" y="339.2" font-size="6.6" text-anchor="middle" fill="#333">C4</text>
<circle cx="490.6" cy="346.3" r="2.4" fill="#c3b4db"/>
<text x="448.9" y="357.8" font-size="8.4" text-anchor="middle" fill="#111" textLength="18.2" lengthAdjust="spacingAndGlyphs" stroke="#111" stroke-width="0.38">Cluster</text>
<path d="M407 198.5V196.7H425.6V198.5" fill="none" stroke="#111" stroke-width="0.9"/>
<path d="M472 200.2V198.4H490.6V200.2" fill="none" stroke="#111" stroke-width="0.9"/>
<path d="M407.6 201.6C407.7 202 408.1 203.1 408.4 204C408.7 204.9 408.8 205.8 409.2 207C409.6 208.2 410.2 209.7 410.8 211C411.4 212.3 412.1 213.7 412.6 215C413.2 216.3 413.7 217.7 414.1 219C414.5 220.3 414.8 221.8 415 223C415.2 224.2 415.2 225 415.2 226C415.2 227 415.1 227.8 414.8 229C414.5 230.2 414.1 231.7 413.6 233C413.1 234.3 412.5 235.7 412 237C411.5 238.3 411 239.7 410.6 241C410.2 242.3 409.8 243.5 409.5 245C409.2 246.5 408.9 248.2 408.7 250C408.5 251.8 408.4 253.5 408.3 256C408.2 258.5 408.1 261 408.1 265C408 269 408 274.6 407.9 280C407.9 285.4 407.8 294.4 407.8 297.3C407.7 300.2 407.6 297.5 407.6 297.5C407.6 297.5 407.5 300.2 407.5 297.3C407.4 294.4 407.4 285.4 407.3 280C407.2 274.6 407.2 269 407.2 265C407.1 261 407 258.5 406.9 256C406.8 253.5 406.7 251.8 406.5 250C406.3 248.2 406 246.5 405.7 245C405.4 243.5 405 242.3 404.6 241C404.2 239.7 403.7 238.3 403.2 237C402.7 235.7 402.1 234.3 401.6 233C401.1 231.7 400.7 230.2 400.4 229C400.1 227.8 400 227 400 226C400 225 400 224.2 400.2 223C400.4 221.8 400.7 220.3 401.1 219C401.5 217.7 402.1 216.3 402.6 215C403.2 213.7 403.8 212.3 404.4 211C405 209.7 405.6 208.2 406 207C406.4 205.8 406.5 204.9 406.8 204C407.1 203.1 407.5 202 407.6 201.6Z" fill="#6b51a6" stroke="#111" stroke-width="0.7" stroke-linejoin="round"/>
<path d="M425.6 220.2C425.7 221.2 426 224 426.1 226C426.2 228 426.3 229.7 426.5 232C426.7 234.3 426.9 237.5 427.2 240C427.5 242.5 427.9 244.8 428.4 247C428.9 249.2 429.6 251 430.2 253C430.8 255 431.5 257.2 431.9 259C432.3 260.8 432.6 262.5 432.8 264C433 265.5 433.1 266.7 433 268C432.9 269.3 432.7 270.7 432.4 272C432.1 273.3 431.5 274.7 431 276C430.5 277.3 429.8 278.7 429.3 280C428.8 281.3 428.3 282.5 427.9 284C427.5 285.5 427.1 287.2 426.8 289C426.5 290.8 426.3 292.3 426.2 295C426.1 297.7 426 300.7 426 305C425.9 309.3 425.8 318 425.8 320.6C425.7 323.2 425.6 320.8 425.6 320.8C425.6 320.8 425.5 323.2 425.5 320.6C425.4 318 425.3 309.3 425.2 305C425.2 300.7 425.1 297.7 425 295C424.9 292.3 424.7 290.8 424.4 289C424.1 287.2 423.7 285.5 423.3 284C422.9 282.5 422.4 281.3 421.9 280C421.4 278.7 420.7 277.3 420.2 276C419.7 274.7 419.1 273.3 418.8 272C418.5 270.7 418.3 269.3 418.2 268C418.1 266.7 418.2 265.5 418.4 264C418.6 262.5 418.9 260.8 419.3 259C419.7 257.2 420.4 255 421 253C421.6 251 422.3 249.2 422.8 247C423.3 244.8 423.7 242.5 424 240C424.3 237.5 424.5 234.3 424.7 232C424.9 229.7 425 228 425.1 226C425.2 224 425.5 221.2 425.6 220.2Z" fill="#c8bce0" stroke="#111" stroke-width="0.7" stroke-linejoin="round"/>
<path d="M472.4 201.8C472.4 204 472.6 210.3 472.7 215C472.8 219.7 472.9 225.8 473 230C473.1 234.2 473.3 237.2 473.6 240C473.9 242.8 474.4 244.8 475 247C475.6 249.2 476.4 251 477 253C477.6 255 478.3 257 478.8 259C479.2 261 479.5 263 479.7 265C479.9 267 479.9 269 479.8 271C479.7 273 479.5 275 479.3 277C479.1 279 478.8 281 478.4 283C478 285 477.5 287 477 289C476.5 291 476 293 475.6 295C475.1 297 474.7 299.2 474.3 301C473.9 302.8 473.6 304.6 473.4 306C473.2 307.4 473 308.5 473 309.5C473 310.5 473.1 311.1 473.3 312C473.5 312.9 474 314 474.3 315C474.6 316 475 316.9 475.2 318C475.4 319.1 476.1 320.9 475.6 321.6C475.1 322.3 472.9 321.9 472.4 322C471.9 321.9 469.7 322.3 469.2 321.6C468.7 320.9 469.4 319.1 469.6 318C469.8 316.9 470.2 316 470.5 315C470.8 314 471.3 312.9 471.5 312C471.7 311.1 471.8 310.5 471.8 309.5C471.8 308.5 471.6 307.4 471.4 306C471.2 304.6 470.9 302.8 470.5 301C470.1 299.2 469.6 297 469.2 295C468.8 293 468.3 291 467.8 289C467.3 287 466.8 285 466.4 283C466 281 465.7 279 465.5 277C465.3 275 465.1 273 465 271C464.9 269 464.9 267 465.1 265C465.3 263 465.6 261 466 259C466.4 257 467.2 255 467.8 253C468.4 251 469.2 249.2 469.8 247C470.4 244.8 470.9 242.8 471.2 240C471.5 237.2 471.6 234.2 471.8 230C471.9 225.8 472 219.7 472.1 215C472.2 210.3 472.3 204 472.4 201.8Z" fill="#6b51a6" stroke="#111" stroke-width="0.7" stroke-linejoin="round"/>
<path d="M490.6 240.6C490.7 241.2 491 242.8 491.2 244C491.4 245.2 491.6 246.5 492 248C492.4 249.5 493 251.2 493.6 253C494.2 254.8 495.2 257 495.8 259C496.4 261 497 263.2 497.4 265C497.8 266.8 497.9 268.5 498 270C498.1 271.5 498 272.5 497.8 274C497.6 275.5 497.1 277.3 496.6 279C496.1 280.7 495.5 282.2 494.9 284C494.3 285.8 493.6 288 493.1 290C492.6 292 492.2 293.8 491.9 296C491.6 298.2 491.4 300.3 491.2 303C491 305.7 491 308.9 490.9 312C490.8 315.1 490.8 320 490.7 321.6C490.7 323.2 490.6 321.8 490.6 321.8C490.6 321.8 490.6 323.2 490.5 321.6C490.4 320 490.4 315.1 490.3 312C490.2 308.9 490.2 305.7 490 303C489.8 300.3 489.6 298.2 489.3 296C489 293.8 488.6 292 488.1 290C487.6 288 486.9 285.8 486.3 284C485.7 282.2 485.1 280.7 484.6 279C484.1 277.3 483.6 275.5 483.4 274C483.2 272.5 483.1 271.5 483.2 270C483.3 268.5 483.4 266.8 483.8 265C484.2 263.2 484.8 261 485.4 259C486 257 487 254.8 487.6 253C488.2 251.2 488.8 249.5 489.2 248C489.6 246.5 489.8 245.2 490 244C490.2 242.8 490.5 241.2 490.6 240.6Z" fill="#c8bce0" stroke="#111" stroke-width="0.7" stroke-linejoin="round"/>
<line x1="407.6" y1="203" x2="407.6" y2="297" stroke="#111" stroke-width="0.6"/>
<rect x="404.6" y="222.1" width="6" height="16.1" fill="#fff" stroke="#111" stroke-width="0.6"/>
<line x1="404.6" y1="229.9" x2="410.6" y2="229.9" stroke="#111" stroke-width="0.6"/>
<line x1="425.6" y1="222" x2="425.6" y2="320.5" stroke="#111" stroke-width="0.6"/>
<rect x="422.6" y="259" width="6" height="13.6" fill="#fff" stroke="#111" stroke-width="0.6"/>
<line x1="422.6" y1="265.8" x2="428.6" y2="265.8" stroke="#111" stroke-width="0.6"/>
<line x1="472.4" y1="203" x2="472.4" y2="318" stroke="#111" stroke-width="0.6"/>
<rect x="469.4" y="276" width="6" height="16.8" fill="#fff" stroke="#111" stroke-width="0.6"/>
<line x1="469.4" y1="284.4" x2="475.4" y2="284.4" stroke="#111" stroke-width="0.6"/>
<line x1="490.6" y1="242" x2="490.6" y2="321" stroke="#111" stroke-width="0.6"/>
<rect x="487.6" y="269.2" width="6" height="15.2" fill="#fff" stroke="#111" stroke-width="0.6"/>
<line x1="487.6" y1="276" x2="493.6" y2="276" stroke="#111" stroke-width="0.6"/>
<text x="7" y="15.7" font-size="11" font-weight="bold" fill="#000">A</text>
<text x="184.8" y="15.8" font-size="11" font-weight="bold" fill="#000">B</text>
<text x="7.5" y="189.2" font-size="11" font-weight="bold" fill="#000">C</text>
<text x="238" y="189" font-size="11" font-weight="bold" fill="#000">D</text>
<text x="238" y="325.9" font-size="11" font-weight="bold" fill="#000">E</text>
<text x="374.6" y="189" font-size="11" font-weight="bold" fill="#000">F</text>
<rect x="0.5" y="0.5" width="519" height="443.5" fill="none" stroke="#000" stroke-width="1"/>
<rect x="0" y="443.4" width="520" height="1.6" fill="#000"/>
<rect x="518.8" y="0" width="1.2" height="445" fill="#000"/>
<defs><marker id="m0" markerUnits="userSpaceOnUse" markerWidth="3" markerHeight="3" refX="1.5" refY="1.5" overflow="visible"><circle cx="1.5" cy="1.5" r="1.5" fill="#fff" opacity="0.85"/></marker><marker id="m1" markerUnits="userSpaceOnUse" markerWidth="3.6" markerHeight="3.6" refX="1.8" refY="1.8" overflow="visible"><circle cx="1.8" cy="1.8" r="1.8" fill="#abb0b9"/></marker><marker id="m2" markerUnits="userSpaceOnUse" markerWidth="3.6" markerHeight="3.6" refX="1.8" refY="1.8" overflow="visible"><circle cx="1.8" cy="1.8" r="1.8" fill="#6aa94e"/></marker><marker id="m3" markerUnits="userSpaceOnUse" markerWidth="3.6" markerHeight="3.6" refX="1.8" refY="1.8" overflow="visible"><circle cx="1.8" cy="1.8" r="1.8" fill="#a9cf63"/></marker><marker id="m4" markerUnits="userSpaceOnUse" markerWidth="3.6" markerHeight="3.6" refX="1.8" refY="1.8" overflow="visible"><circle cx="1.8" cy="1.8" r="1.8" fill="#5f4b9e"/></marker><marker id="m5" markerUnits="userSpaceOnUse" markerWidth="3.6" markerHeight="3.6" refX="1.8" refY="1.8" overflow="visible"><circle cx="1.8" cy="1.8" r="1.8" fill="#b9b0dc"/></marker><marker id="m6" markerUnits="userSpaceOnUse" markerWidth="3.6" markerHeight="3.6" refX="1.8" refY="1.8" overflow="visible"><circle cx="1.8" cy="1.8" r="1.8" fill="#687076"/></marker><marker id="m7" markerUnits="userSpaceOnUse" markerWidth="3.6" markerHeight="3.6" refX="1.8" refY="1.8" overflow="visible"><circle cx="1.8" cy="1.8" r="1.8" fill="#c86e34"/></marker><marker id="m8" markerUnits="userSpaceOnUse" markerWidth="3.6" markerHeight="3.6" refX="1.8" refY="1.8" overflow="visible"><circle cx="1.8" cy="1.8" r="1.8" fill="#c8288a"/></marker><marker id="m9" markerUnits="userSpaceOnUse" markerWidth="3.6" markerHeight="3.6" refX="1.8" refY="1.8" overflow="visible"><circle cx="1.8" cy="1.8" r="1.8" fill="#d48cc4"/></marker><marker id="m10" markerUnits="userSpaceOnUse" markerWidth="3.6" markerHeight="3.6" refX="1.8" refY="1.8" overflow="visible"><circle cx="1.8" cy="1.8" r="1.8" fill="#e0b24a"/></marker><marker id="m11" markerUnits="userSpaceOnUse" markerWidth="4.5" markerHeight="4.5" refX="2.2" refY="2.2" overflow="visible"><circle cx="2.2" cy="2.2" r="2.2" fill="#6aa94e"/></marker><marker id="m12" markerUnits="userSpaceOnUse" markerWidth="4.5" markerHeight="4.5" refX="2.2" refY="2.2" overflow="visible"><circle cx="2.2" cy="2.2" r="2.2" fill="#58a44c"/></marker><marker id="m13" markerUnits="userSpaceOnUse" markerWidth="3.6" markerHeight="3.6" refX="1.8" refY="1.8" overflow="visible"><circle cx="1.8" cy="1.8" r="1.8" fill="#58a44c"/></marker><marker id="m14" markerUnits="userSpaceOnUse" markerWidth="3.6" markerHeight="3.6" refX="1.8" refY="1.8" overflow="visible"><circle cx="1.8" cy="1.8" r="1.8" fill="#b5d78e"/></marker><marker id="m15" markerUnits="userSpaceOnUse" markerWidth="4.4" markerHeight="4.4" refX="2.2" refY="2.2" overflow="visible"><circle cx="2.2" cy="2.2" r="2.2" fill="#b5d78e"/></marker><marker id="m16" markerUnits="userSpaceOnUse" markerWidth="4.4" markerHeight="4.4" refX="2.2" refY="2.2" overflow="visible"><circle cx="2.2" cy="2.2" r="2.2" fill="#3d72b6"/></marker><marker id="m17" markerUnits="userSpaceOnUse" markerWidth="4.4" markerHeight="4.4" refX="2.2" refY="2.2" overflow="visible"><circle cx="2.2" cy="2.2" r="2.2" fill="#a9cbe6"/></marker><marker id="m18" markerUnits="userSpaceOnUse" markerWidth="4.4" markerHeight="4.4" refX="2.2" refY="2.2" overflow="visible"><circle cx="2.2" cy="2.2" r="2.2" fill="#d42a30"/></marker><marker id="m19" markerUnits="userSpaceOnUse" markerWidth="4.4" markerHeight="4.4" refX="2.2" refY="2.2" overflow="visible"><circle cx="2.2" cy="2.2" r="2.2" fill="#e8a0a8"/></marker><marker id="m20" markerUnits="userSpaceOnUse" markerWidth="4.4" markerHeight="4.4" refX="2.2" refY="2.2" overflow="visible"><circle cx="2.2" cy="2.2" r="2.2" fill="#e07b27"/></marker><marker id="m21" markerUnits="userSpaceOnUse" markerWidth="4.4" markerHeight="4.4" refX="2.2" refY="2.2" overflow="visible"><circle cx="2.2" cy="2.2" r="2.2" fill="#f0bc6e"/></marker></defs>
</svg></body></html>
